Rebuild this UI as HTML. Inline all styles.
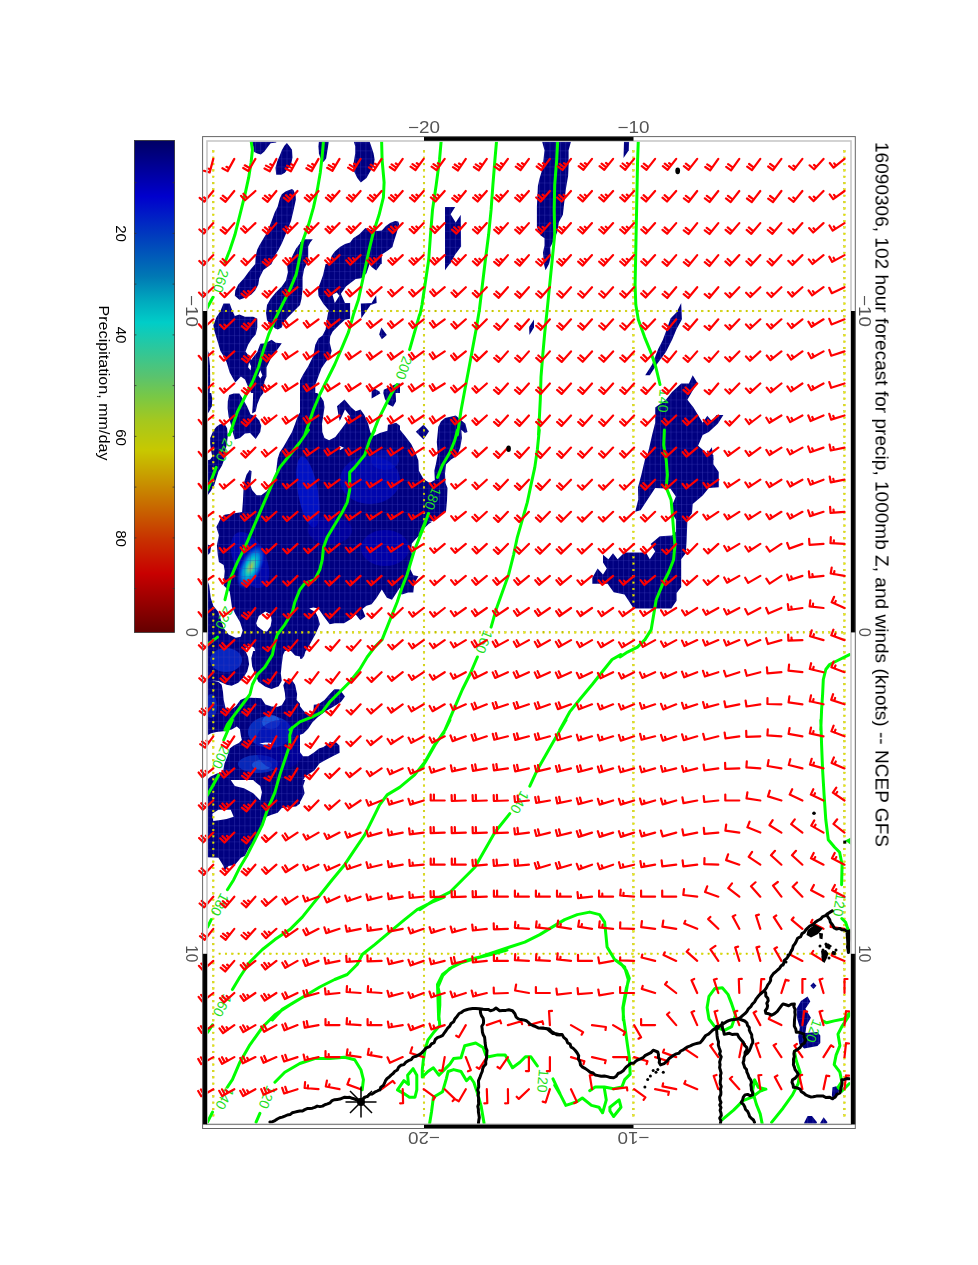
<!DOCTYPE html><html><head><meta charset="utf-8"><style>html,body{margin:0;padding:0;background:#fff;overflow:hidden}svg{display:block}</style></head><body><svg width="978" height="1265" viewBox="0 0 978 1265"><defs><linearGradient id="cb" x1="0" y1="0" x2="0" y2="1"><stop offset="0" stop-color="rgb(0,0,100)"/><stop offset="0.114" stop-color="rgb(0,0,205)"/><stop offset="0.195" stop-color="rgb(0,60,190)"/><stop offset="0.276" stop-color="rgb(0,120,180)"/><stop offset="0.327" stop-color="rgb(0,170,190)"/><stop offset="0.37" stop-color="rgb(0,205,200)"/><stop offset="0.418" stop-color="rgb(40,200,160)"/><stop offset="0.48" stop-color="rgb(90,195,110)"/><stop offset="0.52" stop-color="rgb(120,200,70)"/><stop offset="0.57" stop-color="rgb(165,200,30)"/><stop offset="0.63" stop-color="rgb(200,200,0)"/><stop offset="0.69" stop-color="rgb(200,150,0)"/><stop offset="0.75" stop-color="rgb(200,100,0)"/><stop offset="0.81" stop-color="rgb(200,50,0)"/><stop offset="0.88" stop-color="rgb(200,0,0)"/><stop offset="0.94" stop-color="rgb(150,0,0)"/><stop offset="1" stop-color="rgb(100,0,0)"/></linearGradient></defs><rect x="134.4" y="140.4" width="40.2" height="492" fill="url(#cb)" stroke="#333" stroke-width="0.8"/><path d="M134.4 182.7h2M174.6 182.7h-2M134.4 233.4h2M174.6 233.4h-2M134.4 284.1h2M174.6 284.1h-2M134.4 334.9h2M174.6 334.9h-2M134.4 385.6h2M174.6 385.6h-2M134.4 436.4h2M174.6 436.4h-2M134.4 487.1h2M174.6 487.1h-2M134.4 537.9h2M174.6 537.9h-2M134.4 588.6h2M174.6 588.6h-2" stroke="#333" stroke-width="0.8"/><defs><clipPath id="mc"><rect x="207.5" y="141.5" width="643" height="982.5"/></clipPath><clipPath id="nv"><path clip-rule="evenodd" d="M251.1 141.3 276.5 141.3 276.2 142.4 270.6 143.2 267.5 147.3 264.4 151.4 260.8 154.4 257.3 153.4 254.2 151.9 253.2 146.2 251.6 142.2Z"/><path clip-rule="evenodd" d="M286.9 143 289.5 146.2 292 149.8 292.5 157.5 291 164.7 287.9 168.7 284.9 172.8 281.3 174.7 276.2 174.7 275.5 167.7 277.2 161.6 279.8 155.4 281.8 150.3 284.4 145.7Z"/><path clip-rule="evenodd" d="M292 189 293.6 190.2 295.6 195.3 295.9 199.4 294.6 205.6 293 212.7 291 220.9 287.9 229.1 284.9 236.2 281.8 243.4 278.7 249.5 275.7 254.6 273.6 258.7 271.6 264 255.2 264 255.7 255.7 257.3 249.5 259.3 245.4 262.4 240.3 265.4 235.2 268.5 229.1 271.6 220.9 274.6 212.7 277.7 206.6 279.8 198.4 281.8 194.3 285.9 191.2Z"/><path clip-rule="evenodd" d="M300 243.4 300 264 287.9 264 292 256.7 296.1 248.5Z"/><path clip-rule="evenodd" d="M318.9 141.3 328.8 141.3 328.1 146.2 327.1 152.4 326.1 158.5 323.5 162.1 321 159.5 318.9 153.4 318.4 146.2Z"/><path clip-rule="evenodd" d="M353.7 141.3 369.5 141.3 371.6 147.3 373.6 153.4 374.6 159.5 373.6 165.7 370.6 170.8 366.5 177.9 360.8 182.5 357.3 177.9 354.2 171.8 353.2 165.7 354.2 159.5 355.2 153.4 355.2 146.2Z"/><path clip-rule="evenodd" d="M365.4 228 371.6 230.1 377.7 231.1 381.8 230.6 385.9 226 390 222.9 395.1 220.9 398.2 221.4 399.2 224 397.6 230.1 395.6 236.2 393.6 242.4 392.5 247 387.9 250.5 381.8 254.6 381.8 264 329.1 264 331.7 255.7 334.8 251.6 339.9 247 345 243.9 350.1 242.4 353.2 238.3 359.3 234.2Z"/><path clip-rule="evenodd" d="M300 242.4 304.1 239.3 312.8 239.3 310.2 242.4 308.2 246.5 308.2 264 300 264Z"/><path clip-rule="evenodd" d="M445 207.1 455.2 207.1 450.6 214.2 455.7 222.4 460.8 214.8 461.1 246.5 455.2 254.6 450.1 264 445 264Z"/><path clip-rule="evenodd" d="M255.2 264 271.6 264 263.4 270.1 259.3 278.3 258.3 284.4 255.2 290.6 251.1 294.7 245 297.7 239.4 299.8 234.8 295.7 235.3 290.6 238.3 284.4 244 278.3 249.1 271.2Z"/><path clip-rule="evenodd" d="M286.9 264 300 264 300 304.9 294.1 311 287.9 317.2 282.8 323.8 281.8 327.4 277.7 329.4 275.2 328.4 270.6 324.3 267 320.2 266 313.1 267 304.9 270.6 298.8 275.7 292.6 281.8 286.5 285.9 280.4 287.9 272.2Z"/><path clip-rule="evenodd" d="M223.5 303.4 229.7 303.4 231.7 309 234.8 316.1 239.4 314.6 245 316.7 253.2 316.7 257.3 318.7 257.3 327.4 255.7 334.6 252.1 338.6 248.1 344.8 245.5 351.4 248.1 355 251.1 360.1 257.3 351.9 260.3 343.8 265.4 343.2 271.6 339.7 275.7 342.7 281.8 343.2 275.7 351.9 270.6 359.1 266.5 367.3 266.5 376.5 264.4 381.6 263.4 393 251.1 393 248.1 386.7 245 379.5 240.9 376.5 235.3 382.6 229.7 372.4 226.6 362.2 223.5 356 220.4 350.9 217.4 340.7 214.3 330.5 213.3 325.3 216.4 317.2 220.4 311ZM249.1 362.2 251.1 366.2 250.6 370.3 248.1 367.3ZM260.3 370.3 262.4 375.5 260.3 378.5 258.3 375.5Z"/><path clip-rule="evenodd" d="M206.6 347.8 208.7 353 210 366.2 210.2 381.6 209.7 393 206.6 393Z"/><path clip-rule="evenodd" d="M300 264 306.6 264 304.1 269.1 302.6 277.3 302.6 289.6 301.5 298.8 300 304.9Z"/><path clip-rule="evenodd" d="M325.6 264 369.5 264 366.5 273.2 361.3 278.3 355.7 279.1 351.1 282.4 346 286.5 340.9 293.7 345 302.9 350.1 302.9 350.1 318.7 345 319.7 338.9 325.3 332.7 331.5 330.2 336.6 329.7 342.7 331.7 350.9 329.7 357 325.6 362.2 321.5 368.3 318.4 376.5 315.3 384.7 315.3 393 300 393 300 380.6 303.1 374.4 308.2 366.2 313.3 356 315.3 344.8 318.4 338.6 322.5 335.6 325.6 329.4 326.6 321.3 328.6 310 323.5 303.9 318.4 295.7 317.9 288.5 320.4 282.4 323 275.2ZM332.5 294.7 336.8 292.6 339.4 295.7 334.8 302.9Z"/><path clip-rule="evenodd" d="M369.5 264 380.8 264 376.2 270.6 371.6 267.1Z"/><path clip-rule="evenodd" d="M360.8 303.4 371.6 303.1 376.2 295.2 376.7 302.9 370.6 304.9 361.3 318.2Z"/><path clip-rule="evenodd" d="M381.3 327.4 386.9 335.1 381.8 339.2 379.2 334.6Z"/><path clip-rule="evenodd" d="M371.6 386.7 379.8 391.8 379.8 393 371.6 393Z"/><path clip-rule="evenodd" d="M383.8 389.8 390 386.7 397.1 383.6 400 383.6 400 393 383.3 393Z"/><path clip-rule="evenodd" d="M445 264 449.6 264 445 270.3Z"/><path clip-rule="evenodd" d="M207 393 211.2 393 212.3 399.1 211.8 406.3 209.2 411.4 207 414.5Z"/><path clip-rule="evenodd" d="M229.1 395 233.7 393.5 239.4 393.5 242.9 399.1 247 406.3 250.6 414.5 255.2 416 259.3 420.6 261.3 425.7 260.3 431.9 255.7 439 250.1 432.9 245 433.4 239.9 438 234.8 439.5 232.7 431.9 230.7 423.7 228.6 416.5 227.6 408.3 227.8 401.2Z"/><path clip-rule="evenodd" d="M253.2 393 263.4 393 260.3 397.1 257.3 404.2 255.7 411.4 252.1 413.4 252.7 405.3Z"/><path clip-rule="evenodd" d="M219.9 424.2 224.5 423.7 227.1 428.3 227.8 435.9 226.8 444.1 225.1 452.3 224.3 459.5 222 465.6 218.4 471.7 216.4 477.9 214.3 485 210.7 491.2 207 496.3 207 460.5 210.2 459.5 212.3 456.4 211.2 451.3 210.2 444.1 210.2 438 213.3 430.8 216.4 426.7Z"/><path clip-rule="evenodd" d="M300 412.4 298.2 415 295.1 423.7 292 431.9 287.9 439 283.8 446.2 279.8 452.3 277.7 458.4 276.7 466.6 275.7 473.8 273.6 479.9 270.6 485 266.5 491.2 261.3 495.2 256.7 495.2 252.1 490.1 250.3 485 251.1 476.8 251.6 471.2 249.6 469.9 246.5 474.8 244.2 482 243.5 490.1 242.9 501.4 242.1 512.1 237.8 512.8 230.7 513.7 224.5 514.7 220.4 518.8 218.9 522 300 522Z"/><path clip-rule="evenodd" d="M300 393 400 393 400 522 300 522ZM317.2 393 371.6 393 371.6 398.6 377.7 395 380.8 393 383.3 393 384.9 399.1 387.9 404.2 393 406.8 396.1 401.2 395.6 393 400 393 400 425.7 396.1 422.7 392.5 423.7 387.9 424.7 387.4 430.8 379.8 432.9 373.6 435.9 370.6 432.9 368 423.2 364.4 415 360.5 409.4 355.7 411.2 351.1 407.3 344.5 399.6 337 406.3 338.7 416.5 339.7 421.1 341.4 417.5 345 409.4 349.9 415.7 346 422.7 340.9 429.8 335.3 437 329.1 440.2 324.5 438 322.3 431.9 322 423.7 323.3 415.5 324.5 407.3 323.7 401.2 321 397.1ZM339.4 445.7 344 447.7 339.9 450.3Z"/><path clip-rule="evenodd" d="M423.5 424.7 429.1 431.3 423.5 439.5 415.8 431.7Z"/><path clip-rule="evenodd" d="M400 429.8 405.1 435.9 411.2 444.1 415.3 452.3 418.4 460.5 418.9 470.7 423.5 478.9 429.7 483 434.8 479.9 434.3 470.7 435.8 464.6 437.8 454.3 436.8 442.1 438.3 426.7 440.9 421.6 445 418.1 455.7 415.5 465.4 423.7 467.5 431.9 464.9 432.9 461.3 429.8 461.9 438 460.3 447.2 457.3 455.4 451.1 459.5 446 464.6 445 473.8 445.5 483 447.5 488.1 447 500.4 446 511.6 439.9 515.7 433.7 520.8 428.6 522 400 522Z"/><path clip-rule="evenodd" d="M200 522 300 522 300 651 200 651ZM207 522 218.9 522 216.4 527.1 218.9 535.3 216.9 545.5 217.9 555.7 218.9 561.9 223.7 564.9 224.7 571.1 224 579.3 223.7 585.4 229.7 591.5 230.9 599.7 231.9 606.9 235.3 614 240.1 622.2 242.7 630.4 240.7 636.7 235.8 637.7 228.6 634.5 223.7 628.3 221 620.2 218.4 612 213.3 605.8 210.7 597.7 209.2 585.4 207 579.3ZM265.4 611.5 270.6 614 271.6 620.2 270.6 626.3 267 631.4 263.4 630.9 257.3 626.3 256.2 623.2 258.8 616.1ZM245 651 245.5 648.8 250.1 645.2 254.2 647.8 255.2 651ZM285.9 651 287.9 648.8 290 651ZM200 522 207 522 207 651 200 651Z"/><path clip-rule="evenodd" d="M207 544.5 211.2 545.5 210.2 552.7 207 555.7Z"/><path clip-rule="evenodd" d="M300 522 400 522 400 651 300 651ZM400 587.4 400 651 306.1 651 310.2 643.7 315.3 634.5 319.9 624.2 317.9 617.1 315.3 612 309.2 608.4 313.3 607.4 318.4 608.4 323.5 616.1 329.7 624.2 334.8 623.2 344 623.2 351.1 619.1 355.7 614.5 360.3 620.2 365.4 616.6 362.4 608.9 366.5 605.8 371.6 604.3 376.7 597.7 381.8 589.5 386.9 597.7 392 599.7Z"/><path clip-rule="evenodd" d="M400 522 431.7 522 428.6 524 424.5 528.1 420.4 534.3 415.3 539.4 411.8 543.5 411.2 550.6 412.3 555.7 410.2 563.9 410.2 569 413.3 575.2 418.4 576.2 414.3 583.3 413.3 592.6 408.2 592.6 402 594.6 400 593.6Z"/><path clip-rule="evenodd" d="M200 651 300 651 300 780 200 780ZM245.5 651 253.2 651 251.3 658.2 252.1 666.3 255.2 674.5 258.3 681.7 265.4 686.8 271.6 689 278.7 686.3 281.8 680.7 280.8 673.5 281.8 664.3 283 655.1 284.9 651 291 651 295.1 655.6 300 656.6 300 703.7 296.6 700.1 297.1 693.9 295.1 684.7 291 678.8 285.9 680.1 283.3 685.3 284.9 692.9 285.4 699.1 281.8 705.2 277.7 706.7 271.6 706.4 265.4 704.4 261.3 698.2 257.3 698 246 697.5 240.4 699.9 235.8 706.2 229.7 710.3 225.6 708.3 223.7 700.1 223 691.9 221.7 684.7 218.4 681.7 211.2 680.4 218.4 680.9 226.6 684.7 231.7 685.8 238.3 682.7 243.5 677.6 247.2 671.4 249.1 664.3 248.1 657.1ZM207 735.4 211.2 733.3 216.4 732 225.6 731 231.7 729.5 236.8 726.5 239.9 729.2 240.9 735.9 241.9 740 238.9 743 233.7 745.6 229.7 748.6 227.1 757.3 224.5 763.5 223 771.7 216.4 773.7 210.2 776.8 207 780ZM259.3 743.5 265.4 742.5 271.6 742.8 270.6 744.6 263.4 744.6ZM200 651 207 651 207 780 200 780Z"/><path clip-rule="evenodd" d="M300 651 305.6 651 304.1 656.1 302 658.7 300 658.7Z"/><path clip-rule="evenodd" d="M300 706.2 303.1 710.3 308.2 715.4 313.3 712.3 313.8 704.7 318.4 704.2 324.5 700.1 329.7 693.9 334.3 689.3 339.4 689.3 345 696.5 340.9 702.1 335.8 705.2 330.7 708.3 325.6 711.3 317.4 717.5 312.3 722.6 308.2 728.7 303.1 733.8 300 734.8Z"/><path clip-rule="evenodd" d="M300 752.2 303.1 756.3 308.2 756.3 314.3 752.2 318.9 748.6 323.5 747.1 327.6 744 331.7 742 336.3 742.5 339.4 745.6 339.7 752.7 333.7 755.8 325.6 759.9 319.4 763.5 314.3 770.6 309.2 773.7 305.1 776.8 303.1 780 300 780Z"/><path clip-rule="evenodd" d="M207 780 230.7 780 234.8 786.1 244 788.2 253.2 793.3 260.3 800.4 261.9 792.3 260.3 786.1 255.2 782 253.2 780 300 780 300 803.5 296.1 806.6 290 807.1 281.8 808.1 277.7 812.7 271.6 814.8 266.5 816.8 263.4 824 259.3 833.2 254.2 841.3 249.1 847.5 245 855.7 240.9 857.7 234.8 864.9 228.6 865.9 224.5 871 223.5 865.9 218.4 857.7 207 857.2ZM212.3 813.7 218.4 809.7 230.7 809.7 233.7 816.8 226.6 818.9 220.4 819.9 213.3 820.9Z"/><path clip-rule="evenodd" d="M300 780 305.1 780 303.1 786.1 304.6 793.3 302 798.4 300 802Z"/><path clip-rule="evenodd" d="M542 141.3 571.1 141.3 568.6 150.3 568.6 165.7 568.1 175.9 566 188.2 564 204.5 562.9 214.8 558.9 221.9 557.3 232.1 552.7 242.4 550.2 247.5 550.7 256.7 549.1 263.8 545.6 270.2 544.1 264.9 543 252.6 544.5 245.4 544.5 238.3 540.4 235.2 536.9 227 536.9 206.6 537.9 186.1 539.4 179 542.5 168.7 544.5 150.3Z"/><path clip-rule="evenodd" d="M624 141.3 629.1 141.3 628.8 150.3 623.5 158Z"/><path clip-rule="evenodd" d="M681.2 303.1 682 319.2 676.6 329.1 672 339.9 665.9 352.1 656.7 364.4 649.8 375.2 645.2 375.2 652.1 364.4 658.2 349.1 662.8 339.9 667.4 327.6 670.5 318.4 676.6 312.3Z"/><path clip-rule="evenodd" d="M692.7 375.2 697.3 382.8 687.4 399.7 693.5 407.4 702.7 422.7 707.3 415.8 711.9 421.2 716.5 415 723.4 415 718 423.5 708.8 431.9 702.7 435 698.1 445.7 707.3 453.4 711.9 447.2 713.4 460 646 460 649 448.8 652.1 435 655.2 422.7 655.2 407.4 665.9 399.7 672 392 681.2 383.6 688.9 383.6Z"/><path clip-rule="evenodd" d="M646 455 713.4 455 713.4 464.2 718.8 471.9 718.8 487.2 708.8 488 702.7 495.6 692.7 504.1 692 513.3 687.4 519.4 686.6 540.9 685.8 553.2 681.2 559.3 681.2 586.9 676.6 593 676.6 600.7 671.3 608.4 633.7 608.4 624.5 594.6 613.7 592.3 607.6 583.8 592.3 583.8 592.3 577.7 597.6 568.5 603 574.6 606.8 568.5 603 562.4 603 554.7 608.4 559.3 613 553.2 617.6 559.3 624.5 552.4 646 552.4 649.8 559.3 655.2 551.6 650.6 544 659.8 536.3 672 535.5 675.9 531.7 675.9 519.4 672 513.3 672 505.6 675.9 496.4 670.5 488.7 655.2 488 640.6 510.2 635.2 511.7 638.3 499.5 638 487.2 641.3 474.9Z"/><path clip-rule="evenodd" d="M807.6 996.6 810.3 1001.6 805.4 1008.8 810.9 1017.7 806.5 1025.4 805.4 1033.1 817.5 1032 820.3 1035.4 820.3 1043.1 817.5 1045.9 804.2 1048.6 799.3 1044.2 798.2 1036.5 799.8 1027.6 797.1 1018.8 796.5 1008.8 800.9 1001.1Z"/><path clip-rule="evenodd" d="M832.5 1087.3 836.3 1086.2 839.6 1090.1 836.3 1096.2 833 1100.6 831.9 1095.1Z"/><path clip-rule="evenodd" d="M804.2 1122.7 807.6 1116.1 812 1116.1 817 1122.2 816.4 1123.8 804.2 1123.8Z"/><path clip-rule="evenodd" d="M820.3 1122.7 823.6 1117.2 827.5 1122.2 826.4 1123.8 820.3 1123.8Z"/><path clip-rule="evenodd" d="M534 319.6 534 327.6 529.4 335 529.1 327Z"/><path clip-rule="evenodd" d="M813.4 982.5 816.5 985.7 813.4 988.9 810.3 985.7Z"/></clipPath><pattern id="gp" patternUnits="userSpaceOnUse" x="212.9" y="150.4" width="5.26" height="8.035"><rect x="0" y="0" width="0.9" height="8.035" fill="#3c3cb4" fill-opacity="0.42"/><rect x="0" y="0" width="5.26" height="0.9" fill="#3c3cb4" fill-opacity="0.32"/></pattern><radialGradient id="hot"><stop offset="0" stop-color="#b4c83c"/><stop offset="0.2" stop-color="#60c890"/><stop offset="0.4" stop-color="#00c4cc"/><stop offset="0.62" stop-color="#0080dc"/><stop offset="0.85" stop-color="#0030d0" stop-opacity="0.8"/><stop offset="1" stop-color="#0010c0" stop-opacity="0"/></radialGradient></defs><g clip-path="url(#mc)"><g clip-path="url(#nv)"><rect x="200" y="135" width="660" height="1000" fill="#000080"/><ellipse transform="translate(308,492) rotate(-10)" rx="10" ry="36" fill="#0014d0" fill-opacity="0.85"/><ellipse transform="translate(250,560) rotate(-25)" rx="16" ry="30" fill="#0008c0" fill-opacity="0.7"/><ellipse transform="translate(370,480) rotate(0)" rx="30" ry="24" fill="#0008c0" fill-opacity="0.7"/><ellipse transform="translate(385,548) rotate(0)" rx="24" ry="18" fill="#0000b8" fill-opacity="0.7"/><ellipse transform="translate(330,530) rotate(0)" rx="22" ry="14" fill="#0000b0" fill-opacity="0.6"/><ellipse transform="translate(385,460) rotate(0)" rx="14" ry="10" fill="#0010c8" fill-opacity="0.6"/><ellipse transform="translate(226,660) rotate(0)" rx="16" ry="12" fill="#0a30d0" fill-opacity="0.8"/><ellipse transform="translate(211,706) rotate(0)" rx="6" ry="12" fill="#0a30d0" fill-opacity="0.7"/><ellipse transform="translate(270,732) rotate(0)" rx="22" ry="16" fill="#0838d0" fill-opacity="0.8"/><ellipse transform="translate(258,764) rotate(0)" rx="20" ry="9" fill="#0838d0" fill-opacity="0.7"/><ellipse transform="translate(271,722) rotate(0)" rx="9" ry="7" fill="#2060e0" fill-opacity="0.8"/><ellipse transform="translate(262,765) rotate(0)" rx="10" ry="5" fill="#2060e0" fill-opacity="0.7"/><ellipse transform="translate(280,745) rotate(0)" rx="25" ry="25" fill="#0000b0" fill-opacity="0.5"/><ellipse transform="translate(250.8,566.9) rotate(-65)" rx="24" ry="11" fill="url(#hot)"/><rect x="200" y="135" width="660" height="1000" fill="url(#gp)"/></g></g><g fill="#f0f000" stroke="#c0c000" stroke-width="0.45"><rect x="212.5" y="150.6" width="1.6" height="1.6"/><rect x="212.5" y="156.9" width="1.6" height="1.6"/><rect x="212.5" y="163.3" width="1.6" height="1.6"/><rect x="212.5" y="169.6" width="1.6" height="1.6"/><rect x="212.5" y="176" width="1.6" height="1.6"/><rect x="212.5" y="182.3" width="1.6" height="1.6"/><rect x="212.5" y="188.7" width="1.6" height="1.6"/><rect x="212.5" y="195" width="1.6" height="1.6"/><rect x="212.5" y="201.3" width="1.6" height="1.6"/><rect x="212.5" y="207.7" width="1.6" height="1.6"/><rect x="212.5" y="214" width="1.6" height="1.6"/><rect x="212.5" y="220.4" width="1.6" height="1.6"/><rect x="212.5" y="226.7" width="1.6" height="1.6"/><rect x="212.5" y="233" width="1.6" height="1.6"/><rect x="212.5" y="239.4" width="1.6" height="1.6"/><rect x="212.5" y="245.7" width="1.6" height="1.6"/><rect x="212.5" y="252.1" width="1.6" height="1.6"/><rect x="212.5" y="258.4" width="1.6" height="1.6"/><rect x="212.5" y="264.8" width="1.6" height="1.6"/><rect x="212.5" y="271.1" width="1.6" height="1.6"/><rect x="212.5" y="277.4" width="1.6" height="1.6"/><rect x="212.5" y="283.8" width="1.6" height="1.6"/><rect x="212.5" y="290.1" width="1.6" height="1.6"/><rect x="212.5" y="296.5" width="1.6" height="1.6"/><rect x="212.5" y="302.8" width="1.6" height="1.6"/><rect x="212.5" y="309.2" width="1.6" height="1.6"/><rect x="212.5" y="315.5" width="1.6" height="1.6"/><rect x="212.5" y="321.8" width="1.6" height="1.6"/><rect x="212.5" y="328.2" width="1.6" height="1.6"/><rect x="212.5" y="334.5" width="1.6" height="1.6"/><rect x="212.5" y="340.9" width="1.6" height="1.6"/><rect x="212.5" y="347.2" width="1.6" height="1.6"/><rect x="212.5" y="353.5" width="1.6" height="1.6"/><rect x="212.5" y="359.9" width="1.6" height="1.6"/><rect x="212.5" y="366.2" width="1.6" height="1.6"/><rect x="212.5" y="372.6" width="1.6" height="1.6"/><rect x="212.5" y="378.9" width="1.6" height="1.6"/><rect x="212.5" y="385.3" width="1.6" height="1.6"/><rect x="212.5" y="391.6" width="1.6" height="1.6"/><rect x="212.5" y="397.9" width="1.6" height="1.6"/><rect x="212.5" y="404.3" width="1.6" height="1.6"/><rect x="212.5" y="410.6" width="1.6" height="1.6"/><rect x="212.5" y="417" width="1.6" height="1.6"/><rect x="212.5" y="423.3" width="1.6" height="1.6"/><rect x="212.5" y="429.6" width="1.6" height="1.6"/><rect x="212.5" y="436" width="1.6" height="1.6"/><rect x="212.5" y="442.3" width="1.6" height="1.6"/><rect x="212.5" y="448.7" width="1.6" height="1.6"/><rect x="212.5" y="455" width="1.6" height="1.6"/><rect x="212.5" y="461.4" width="1.6" height="1.6"/><rect x="212.5" y="467.7" width="1.6" height="1.6"/><rect x="212.5" y="474" width="1.6" height="1.6"/><rect x="212.5" y="480.4" width="1.6" height="1.6"/><rect x="212.5" y="486.7" width="1.6" height="1.6"/><rect x="212.5" y="493.1" width="1.6" height="1.6"/><rect x="212.5" y="499.4" width="1.6" height="1.6"/><rect x="212.5" y="505.8" width="1.6" height="1.6"/><rect x="212.5" y="512.1" width="1.6" height="1.6"/><rect x="212.5" y="518.4" width="1.6" height="1.6"/><rect x="212.5" y="524.8" width="1.6" height="1.6"/><rect x="212.5" y="531.1" width="1.6" height="1.6"/><rect x="212.5" y="537.5" width="1.6" height="1.6"/><rect x="212.5" y="543.8" width="1.6" height="1.6"/><rect x="212.5" y="550.1" width="1.6" height="1.6"/><rect x="212.5" y="556.5" width="1.6" height="1.6"/><rect x="212.5" y="562.8" width="1.6" height="1.6"/><rect x="212.5" y="569.2" width="1.6" height="1.6"/><rect x="212.5" y="575.5" width="1.6" height="1.6"/><rect x="212.5" y="581.9" width="1.6" height="1.6"/><rect x="212.5" y="588.2" width="1.6" height="1.6"/><rect x="212.5" y="594.5" width="1.6" height="1.6"/><rect x="212.5" y="600.9" width="1.6" height="1.6"/><rect x="212.5" y="607.2" width="1.6" height="1.6"/><rect x="212.5" y="613.6" width="1.6" height="1.6"/><rect x="212.5" y="619.9" width="1.6" height="1.6"/><rect x="212.5" y="626.2" width="1.6" height="1.6"/><rect x="212.5" y="632.6" width="1.6" height="1.6"/><rect x="212.5" y="638.9" width="1.6" height="1.6"/><rect x="212.5" y="645.3" width="1.6" height="1.6"/><rect x="212.5" y="651.6" width="1.6" height="1.6"/><rect x="212.5" y="658" width="1.6" height="1.6"/><rect x="212.5" y="664.3" width="1.6" height="1.6"/><rect x="212.5" y="670.6" width="1.6" height="1.6"/><rect x="212.5" y="677" width="1.6" height="1.6"/><rect x="212.5" y="683.3" width="1.6" height="1.6"/><rect x="212.5" y="689.7" width="1.6" height="1.6"/><rect x="212.5" y="696" width="1.6" height="1.6"/><rect x="212.5" y="702.4" width="1.6" height="1.6"/><rect x="212.5" y="708.7" width="1.6" height="1.6"/><rect x="212.5" y="715" width="1.6" height="1.6"/><rect x="212.5" y="721.4" width="1.6" height="1.6"/><rect x="212.5" y="727.7" width="1.6" height="1.6"/><rect x="212.5" y="734.1" width="1.6" height="1.6"/><rect x="212.5" y="740.4" width="1.6" height="1.6"/><rect x="212.5" y="746.7" width="1.6" height="1.6"/><rect x="212.5" y="753.1" width="1.6" height="1.6"/><rect x="212.5" y="759.4" width="1.6" height="1.6"/><rect x="212.5" y="765.8" width="1.6" height="1.6"/><rect x="212.5" y="772.1" width="1.6" height="1.6"/><rect x="212.5" y="778.5" width="1.6" height="1.6"/><rect x="212.5" y="784.8" width="1.6" height="1.6"/><rect x="212.5" y="791.1" width="1.6" height="1.6"/><rect x="212.5" y="797.5" width="1.6" height="1.6"/><rect x="212.5" y="803.8" width="1.6" height="1.6"/><rect x="212.5" y="810.2" width="1.6" height="1.6"/><rect x="212.5" y="816.5" width="1.6" height="1.6"/><rect x="212.5" y="822.9" width="1.6" height="1.6"/><rect x="212.5" y="829.2" width="1.6" height="1.6"/><rect x="212.5" y="835.5" width="1.6" height="1.6"/><rect x="212.5" y="841.9" width="1.6" height="1.6"/><rect x="212.5" y="848.2" width="1.6" height="1.6"/><rect x="212.5" y="854.6" width="1.6" height="1.6"/><rect x="212.5" y="860.9" width="1.6" height="1.6"/><rect x="212.5" y="867.2" width="1.6" height="1.6"/><rect x="212.5" y="873.6" width="1.6" height="1.6"/><rect x="212.5" y="879.9" width="1.6" height="1.6"/><rect x="212.5" y="886.3" width="1.6" height="1.6"/><rect x="212.5" y="892.6" width="1.6" height="1.6"/><rect x="212.5" y="899" width="1.6" height="1.6"/><rect x="212.5" y="905.3" width="1.6" height="1.6"/><rect x="212.5" y="911.6" width="1.6" height="1.6"/><rect x="212.5" y="918" width="1.6" height="1.6"/><rect x="212.5" y="924.3" width="1.6" height="1.6"/><rect x="212.5" y="930.7" width="1.6" height="1.6"/><rect x="212.5" y="937" width="1.6" height="1.6"/><rect x="212.5" y="943.3" width="1.6" height="1.6"/><rect x="212.5" y="949.7" width="1.6" height="1.6"/><rect x="212.5" y="956" width="1.6" height="1.6"/><rect x="212.5" y="962.4" width="1.6" height="1.6"/><rect x="212.5" y="968.7" width="1.6" height="1.6"/><rect x="212.5" y="975.1" width="1.6" height="1.6"/><rect x="212.5" y="981.4" width="1.6" height="1.6"/><rect x="212.5" y="987.7" width="1.6" height="1.6"/><rect x="212.5" y="994.1" width="1.6" height="1.6"/><rect x="212.5" y="1000.4" width="1.6" height="1.6"/><rect x="212.5" y="1006.8" width="1.6" height="1.6"/><rect x="212.5" y="1013.1" width="1.6" height="1.6"/><rect x="212.5" y="1019.5" width="1.6" height="1.6"/><rect x="212.5" y="1025.8" width="1.6" height="1.6"/><rect x="212.5" y="1032.1" width="1.6" height="1.6"/><rect x="212.5" y="1038.5" width="1.6" height="1.6"/><rect x="212.5" y="1044.8" width="1.6" height="1.6"/><rect x="212.5" y="1051.2" width="1.6" height="1.6"/><rect x="212.5" y="1057.5" width="1.6" height="1.6"/><rect x="212.5" y="1063.8" width="1.6" height="1.6"/><rect x="212.5" y="1070.2" width="1.6" height="1.6"/><rect x="212.5" y="1076.5" width="1.6" height="1.6"/><rect x="212.5" y="1082.9" width="1.6" height="1.6"/><rect x="212.5" y="1089.2" width="1.6" height="1.6"/><rect x="212.5" y="1095.6" width="1.6" height="1.6"/><rect x="212.5" y="1101.9" width="1.6" height="1.6"/><rect x="212.5" y="1108.2" width="1.6" height="1.6"/><rect x="212.5" y="1114.6" width="1.6" height="1.6"/><rect x="423.2" y="150.6" width="1.6" height="1.6"/><rect x="423.2" y="156.9" width="1.6" height="1.6"/><rect x="423.2" y="163.3" width="1.6" height="1.6"/><rect x="423.2" y="169.6" width="1.6" height="1.6"/><rect x="423.2" y="176" width="1.6" height="1.6"/><rect x="423.2" y="182.3" width="1.6" height="1.6"/><rect x="423.2" y="188.7" width="1.6" height="1.6"/><rect x="423.2" y="195" width="1.6" height="1.6"/><rect x="423.2" y="201.3" width="1.6" height="1.6"/><rect x="423.2" y="207.7" width="1.6" height="1.6"/><rect x="423.2" y="214" width="1.6" height="1.6"/><rect x="423.2" y="220.4" width="1.6" height="1.6"/><rect x="423.2" y="226.7" width="1.6" height="1.6"/><rect x="423.2" y="233" width="1.6" height="1.6"/><rect x="423.2" y="239.4" width="1.6" height="1.6"/><rect x="423.2" y="245.7" width="1.6" height="1.6"/><rect x="423.2" y="252.1" width="1.6" height="1.6"/><rect x="423.2" y="258.4" width="1.6" height="1.6"/><rect x="423.2" y="264.8" width="1.6" height="1.6"/><rect x="423.2" y="271.1" width="1.6" height="1.6"/><rect x="423.2" y="277.4" width="1.6" height="1.6"/><rect x="423.2" y="283.8" width="1.6" height="1.6"/><rect x="423.2" y="290.1" width="1.6" height="1.6"/><rect x="423.2" y="296.5" width="1.6" height="1.6"/><rect x="423.2" y="302.8" width="1.6" height="1.6"/><rect x="423.2" y="309.2" width="1.6" height="1.6"/><rect x="423.2" y="315.5" width="1.6" height="1.6"/><rect x="423.2" y="321.8" width="1.6" height="1.6"/><rect x="423.2" y="328.2" width="1.6" height="1.6"/><rect x="423.2" y="334.5" width="1.6" height="1.6"/><rect x="423.2" y="340.9" width="1.6" height="1.6"/><rect x="423.2" y="347.2" width="1.6" height="1.6"/><rect x="423.2" y="353.5" width="1.6" height="1.6"/><rect x="423.2" y="359.9" width="1.6" height="1.6"/><rect x="423.2" y="366.2" width="1.6" height="1.6"/><rect x="423.2" y="372.6" width="1.6" height="1.6"/><rect x="423.2" y="378.9" width="1.6" height="1.6"/><rect x="423.2" y="385.3" width="1.6" height="1.6"/><rect x="423.2" y="391.6" width="1.6" height="1.6"/><rect x="423.2" y="397.9" width="1.6" height="1.6"/><rect x="423.2" y="404.3" width="1.6" height="1.6"/><rect x="423.2" y="410.6" width="1.6" height="1.6"/><rect x="423.2" y="417" width="1.6" height="1.6"/><rect x="423.2" y="423.3" width="1.6" height="1.6"/><rect x="423.2" y="429.6" width="1.6" height="1.6"/><rect x="423.2" y="436" width="1.6" height="1.6"/><rect x="423.2" y="442.3" width="1.6" height="1.6"/><rect x="423.2" y="448.7" width="1.6" height="1.6"/><rect x="423.2" y="455" width="1.6" height="1.6"/><rect x="423.2" y="461.4" width="1.6" height="1.6"/><rect x="423.2" y="467.7" width="1.6" height="1.6"/><rect x="423.2" y="474" width="1.6" height="1.6"/><rect x="423.2" y="480.4" width="1.6" height="1.6"/><rect x="423.2" y="486.7" width="1.6" height="1.6"/><rect x="423.2" y="493.1" width="1.6" height="1.6"/><rect x="423.2" y="499.4" width="1.6" height="1.6"/><rect x="423.2" y="505.8" width="1.6" height="1.6"/><rect x="423.2" y="512.1" width="1.6" height="1.6"/><rect x="423.2" y="518.4" width="1.6" height="1.6"/><rect x="423.2" y="524.8" width="1.6" height="1.6"/><rect x="423.2" y="531.1" width="1.6" height="1.6"/><rect x="423.2" y="537.5" width="1.6" height="1.6"/><rect x="423.2" y="543.8" width="1.6" height="1.6"/><rect x="423.2" y="550.1" width="1.6" height="1.6"/><rect x="423.2" y="556.5" width="1.6" height="1.6"/><rect x="423.2" y="562.8" width="1.6" height="1.6"/><rect x="423.2" y="569.2" width="1.6" height="1.6"/><rect x="423.2" y="575.5" width="1.6" height="1.6"/><rect x="423.2" y="581.9" width="1.6" height="1.6"/><rect x="423.2" y="588.2" width="1.6" height="1.6"/><rect x="423.2" y="594.5" width="1.6" height="1.6"/><rect x="423.2" y="600.9" width="1.6" height="1.6"/><rect x="423.2" y="607.2" width="1.6" height="1.6"/><rect x="423.2" y="613.6" width="1.6" height="1.6"/><rect x="423.2" y="619.9" width="1.6" height="1.6"/><rect x="423.2" y="626.2" width="1.6" height="1.6"/><rect x="423.2" y="632.6" width="1.6" height="1.6"/><rect x="423.2" y="638.9" width="1.6" height="1.6"/><rect x="423.2" y="645.3" width="1.6" height="1.6"/><rect x="423.2" y="651.6" width="1.6" height="1.6"/><rect x="423.2" y="658" width="1.6" height="1.6"/><rect x="423.2" y="664.3" width="1.6" height="1.6"/><rect x="423.2" y="670.6" width="1.6" height="1.6"/><rect x="423.2" y="677" width="1.6" height="1.6"/><rect x="423.2" y="683.3" width="1.6" height="1.6"/><rect x="423.2" y="689.7" width="1.6" height="1.6"/><rect x="423.2" y="696" width="1.6" height="1.6"/><rect x="423.2" y="702.4" width="1.6" height="1.6"/><rect x="423.2" y="708.7" width="1.6" height="1.6"/><rect x="423.2" y="715" width="1.6" height="1.6"/><rect x="423.2" y="721.4" width="1.6" height="1.6"/><rect x="423.2" y="727.7" width="1.6" height="1.6"/><rect x="423.2" y="734.1" width="1.6" height="1.6"/><rect x="423.2" y="740.4" width="1.6" height="1.6"/><rect x="423.2" y="746.7" width="1.6" height="1.6"/><rect x="423.2" y="753.1" width="1.6" height="1.6"/><rect x="423.2" y="759.4" width="1.6" height="1.6"/><rect x="423.2" y="765.8" width="1.6" height="1.6"/><rect x="423.2" y="772.1" width="1.6" height="1.6"/><rect x="423.2" y="778.5" width="1.6" height="1.6"/><rect x="423.2" y="784.8" width="1.6" height="1.6"/><rect x="423.2" y="791.1" width="1.6" height="1.6"/><rect x="423.2" y="797.5" width="1.6" height="1.6"/><rect x="423.2" y="803.8" width="1.6" height="1.6"/><rect x="423.2" y="810.2" width="1.6" height="1.6"/><rect x="423.2" y="816.5" width="1.6" height="1.6"/><rect x="423.2" y="822.9" width="1.6" height="1.6"/><rect x="423.2" y="829.2" width="1.6" height="1.6"/><rect x="423.2" y="835.5" width="1.6" height="1.6"/><rect x="423.2" y="841.9" width="1.6" height="1.6"/><rect x="423.2" y="848.2" width="1.6" height="1.6"/><rect x="423.2" y="854.6" width="1.6" height="1.6"/><rect x="423.2" y="860.9" width="1.6" height="1.6"/><rect x="423.2" y="867.2" width="1.6" height="1.6"/><rect x="423.2" y="873.6" width="1.6" height="1.6"/><rect x="423.2" y="879.9" width="1.6" height="1.6"/><rect x="423.2" y="886.3" width="1.6" height="1.6"/><rect x="423.2" y="892.6" width="1.6" height="1.6"/><rect x="423.2" y="899" width="1.6" height="1.6"/><rect x="423.2" y="905.3" width="1.6" height="1.6"/><rect x="423.2" y="911.6" width="1.6" height="1.6"/><rect x="423.2" y="918" width="1.6" height="1.6"/><rect x="423.2" y="924.3" width="1.6" height="1.6"/><rect x="423.2" y="930.7" width="1.6" height="1.6"/><rect x="423.2" y="937" width="1.6" height="1.6"/><rect x="423.2" y="943.3" width="1.6" height="1.6"/><rect x="423.2" y="949.7" width="1.6" height="1.6"/><rect x="423.2" y="956" width="1.6" height="1.6"/><rect x="423.2" y="962.4" width="1.6" height="1.6"/><rect x="423.2" y="968.7" width="1.6" height="1.6"/><rect x="423.2" y="975.1" width="1.6" height="1.6"/><rect x="423.2" y="981.4" width="1.6" height="1.6"/><rect x="423.2" y="987.7" width="1.6" height="1.6"/><rect x="423.2" y="994.1" width="1.6" height="1.6"/><rect x="423.2" y="1000.4" width="1.6" height="1.6"/><rect x="423.2" y="1006.8" width="1.6" height="1.6"/><rect x="423.2" y="1013.1" width="1.6" height="1.6"/><rect x="423.2" y="1019.5" width="1.6" height="1.6"/><rect x="423.2" y="1025.8" width="1.6" height="1.6"/><rect x="423.2" y="1032.1" width="1.6" height="1.6"/><rect x="423.2" y="1038.5" width="1.6" height="1.6"/><rect x="423.2" y="1044.8" width="1.6" height="1.6"/><rect x="423.2" y="1051.2" width="1.6" height="1.6"/><rect x="423.2" y="1057.5" width="1.6" height="1.6"/><rect x="423.2" y="1063.8" width="1.6" height="1.6"/><rect x="423.2" y="1070.2" width="1.6" height="1.6"/><rect x="423.2" y="1076.5" width="1.6" height="1.6"/><rect x="423.2" y="1082.9" width="1.6" height="1.6"/><rect x="423.2" y="1089.2" width="1.6" height="1.6"/><rect x="423.2" y="1095.6" width="1.6" height="1.6"/><rect x="423.2" y="1101.9" width="1.6" height="1.6"/><rect x="423.2" y="1108.2" width="1.6" height="1.6"/><rect x="423.2" y="1114.6" width="1.6" height="1.6"/><rect x="632.7" y="150.6" width="1.6" height="1.6"/><rect x="632.7" y="156.9" width="1.6" height="1.6"/><rect x="632.7" y="163.3" width="1.6" height="1.6"/><rect x="632.7" y="169.6" width="1.6" height="1.6"/><rect x="632.7" y="176" width="1.6" height="1.6"/><rect x="632.7" y="182.3" width="1.6" height="1.6"/><rect x="632.7" y="188.7" width="1.6" height="1.6"/><rect x="632.7" y="195" width="1.6" height="1.6"/><rect x="632.7" y="201.3" width="1.6" height="1.6"/><rect x="632.7" y="207.7" width="1.6" height="1.6"/><rect x="632.7" y="214" width="1.6" height="1.6"/><rect x="632.7" y="220.4" width="1.6" height="1.6"/><rect x="632.7" y="226.7" width="1.6" height="1.6"/><rect x="632.7" y="233" width="1.6" height="1.6"/><rect x="632.7" y="239.4" width="1.6" height="1.6"/><rect x="632.7" y="245.7" width="1.6" height="1.6"/><rect x="632.7" y="252.1" width="1.6" height="1.6"/><rect x="632.7" y="258.4" width="1.6" height="1.6"/><rect x="632.7" y="264.8" width="1.6" height="1.6"/><rect x="632.7" y="271.1" width="1.6" height="1.6"/><rect x="632.7" y="277.4" width="1.6" height="1.6"/><rect x="632.7" y="283.8" width="1.6" height="1.6"/><rect x="632.7" y="290.1" width="1.6" height="1.6"/><rect x="632.7" y="296.5" width="1.6" height="1.6"/><rect x="632.7" y="302.8" width="1.6" height="1.6"/><rect x="632.7" y="309.2" width="1.6" height="1.6"/><rect x="632.7" y="315.5" width="1.6" height="1.6"/><rect x="632.7" y="321.8" width="1.6" height="1.6"/><rect x="632.7" y="328.2" width="1.6" height="1.6"/><rect x="632.7" y="334.5" width="1.6" height="1.6"/><rect x="632.7" y="340.9" width="1.6" height="1.6"/><rect x="632.7" y="347.2" width="1.6" height="1.6"/><rect x="632.7" y="353.5" width="1.6" height="1.6"/><rect x="632.7" y="359.9" width="1.6" height="1.6"/><rect x="632.7" y="366.2" width="1.6" height="1.6"/><rect x="632.7" y="372.6" width="1.6" height="1.6"/><rect x="632.7" y="378.9" width="1.6" height="1.6"/><rect x="632.7" y="385.3" width="1.6" height="1.6"/><rect x="632.7" y="391.6" width="1.6" height="1.6"/><rect x="632.7" y="397.9" width="1.6" height="1.6"/><rect x="632.7" y="404.3" width="1.6" height="1.6"/><rect x="632.7" y="410.6" width="1.6" height="1.6"/><rect x="632.7" y="417" width="1.6" height="1.6"/><rect x="632.7" y="423.3" width="1.6" height="1.6"/><rect x="632.7" y="429.6" width="1.6" height="1.6"/><rect x="632.7" y="436" width="1.6" height="1.6"/><rect x="632.7" y="442.3" width="1.6" height="1.6"/><rect x="632.7" y="448.7" width="1.6" height="1.6"/><rect x="632.7" y="455" width="1.6" height="1.6"/><rect x="632.7" y="461.4" width="1.6" height="1.6"/><rect x="632.7" y="467.7" width="1.6" height="1.6"/><rect x="632.7" y="474" width="1.6" height="1.6"/><rect x="632.7" y="480.4" width="1.6" height="1.6"/><rect x="632.7" y="486.7" width="1.6" height="1.6"/><rect x="632.7" y="493.1" width="1.6" height="1.6"/><rect x="632.7" y="499.4" width="1.6" height="1.6"/><rect x="632.7" y="505.8" width="1.6" height="1.6"/><rect x="632.7" y="512.1" width="1.6" height="1.6"/><rect x="632.7" y="518.4" width="1.6" height="1.6"/><rect x="632.7" y="524.8" width="1.6" height="1.6"/><rect x="632.7" y="531.1" width="1.6" height="1.6"/><rect x="632.7" y="537.5" width="1.6" height="1.6"/><rect x="632.7" y="543.8" width="1.6" height="1.6"/><rect x="632.7" y="550.1" width="1.6" height="1.6"/><rect x="632.7" y="556.5" width="1.6" height="1.6"/><rect x="632.7" y="562.8" width="1.6" height="1.6"/><rect x="632.7" y="569.2" width="1.6" height="1.6"/><rect x="632.7" y="575.5" width="1.6" height="1.6"/><rect x="632.7" y="581.9" width="1.6" height="1.6"/><rect x="632.7" y="588.2" width="1.6" height="1.6"/><rect x="632.7" y="594.5" width="1.6" height="1.6"/><rect x="632.7" y="600.9" width="1.6" height="1.6"/><rect x="632.7" y="607.2" width="1.6" height="1.6"/><rect x="632.7" y="613.6" width="1.6" height="1.6"/><rect x="632.7" y="619.9" width="1.6" height="1.6"/><rect x="632.7" y="626.2" width="1.6" height="1.6"/><rect x="632.7" y="632.6" width="1.6" height="1.6"/><rect x="632.7" y="638.9" width="1.6" height="1.6"/><rect x="632.7" y="645.3" width="1.6" height="1.6"/><rect x="632.7" y="651.6" width="1.6" height="1.6"/><rect x="632.7" y="658" width="1.6" height="1.6"/><rect x="632.7" y="664.3" width="1.6" height="1.6"/><rect x="632.7" y="670.6" width="1.6" height="1.6"/><rect x="632.7" y="677" width="1.6" height="1.6"/><rect x="632.7" y="683.3" width="1.6" height="1.6"/><rect x="632.7" y="689.7" width="1.6" height="1.6"/><rect x="632.7" y="696" width="1.6" height="1.6"/><rect x="632.7" y="702.4" width="1.6" height="1.6"/><rect x="632.7" y="708.7" width="1.6" height="1.6"/><rect x="632.7" y="715" width="1.6" height="1.6"/><rect x="632.7" y="721.4" width="1.6" height="1.6"/><rect x="632.7" y="727.7" width="1.6" height="1.6"/><rect x="632.7" y="734.1" width="1.6" height="1.6"/><rect x="632.7" y="740.4" width="1.6" height="1.6"/><rect x="632.7" y="746.7" width="1.6" height="1.6"/><rect x="632.7" y="753.1" width="1.6" height="1.6"/><rect x="632.7" y="759.4" width="1.6" height="1.6"/><rect x="632.7" y="765.8" width="1.6" height="1.6"/><rect x="632.7" y="772.1" width="1.6" height="1.6"/><rect x="632.7" y="778.5" width="1.6" height="1.6"/><rect x="632.7" y="784.8" width="1.6" height="1.6"/><rect x="632.7" y="791.1" width="1.6" height="1.6"/><rect x="632.7" y="797.5" width="1.6" height="1.6"/><rect x="632.7" y="803.8" width="1.6" height="1.6"/><rect x="632.7" y="810.2" width="1.6" height="1.6"/><rect x="632.7" y="816.5" width="1.6" height="1.6"/><rect x="632.7" y="822.9" width="1.6" height="1.6"/><rect x="632.7" y="829.2" width="1.6" height="1.6"/><rect x="632.7" y="835.5" width="1.6" height="1.6"/><rect x="632.7" y="841.9" width="1.6" height="1.6"/><rect x="632.7" y="848.2" width="1.6" height="1.6"/><rect x="632.7" y="854.6" width="1.6" height="1.6"/><rect x="632.7" y="860.9" width="1.6" height="1.6"/><rect x="632.7" y="867.2" width="1.6" height="1.6"/><rect x="632.7" y="873.6" width="1.6" height="1.6"/><rect x="632.7" y="879.9" width="1.6" height="1.6"/><rect x="632.7" y="886.3" width="1.6" height="1.6"/><rect x="632.7" y="892.6" width="1.6" height="1.6"/><rect x="632.7" y="899" width="1.6" height="1.6"/><rect x="632.7" y="905.3" width="1.6" height="1.6"/><rect x="632.7" y="911.6" width="1.6" height="1.6"/><rect x="632.7" y="918" width="1.6" height="1.6"/><rect x="632.7" y="924.3" width="1.6" height="1.6"/><rect x="632.7" y="930.7" width="1.6" height="1.6"/><rect x="632.7" y="937" width="1.6" height="1.6"/><rect x="632.7" y="943.3" width="1.6" height="1.6"/><rect x="632.7" y="949.7" width="1.6" height="1.6"/><rect x="632.7" y="956" width="1.6" height="1.6"/><rect x="632.7" y="962.4" width="1.6" height="1.6"/><rect x="632.7" y="968.7" width="1.6" height="1.6"/><rect x="632.7" y="975.1" width="1.6" height="1.6"/><rect x="632.7" y="981.4" width="1.6" height="1.6"/><rect x="632.7" y="987.7" width="1.6" height="1.6"/><rect x="632.7" y="994.1" width="1.6" height="1.6"/><rect x="632.7" y="1000.4" width="1.6" height="1.6"/><rect x="632.7" y="1006.8" width="1.6" height="1.6"/><rect x="632.7" y="1013.1" width="1.6" height="1.6"/><rect x="632.7" y="1019.5" width="1.6" height="1.6"/><rect x="632.7" y="1025.8" width="1.6" height="1.6"/><rect x="632.7" y="1032.1" width="1.6" height="1.6"/><rect x="632.7" y="1038.5" width="1.6" height="1.6"/><rect x="632.7" y="1044.8" width="1.6" height="1.6"/><rect x="632.7" y="1051.2" width="1.6" height="1.6"/><rect x="632.7" y="1057.5" width="1.6" height="1.6"/><rect x="632.7" y="1063.8" width="1.6" height="1.6"/><rect x="632.7" y="1070.2" width="1.6" height="1.6"/><rect x="632.7" y="1076.5" width="1.6" height="1.6"/><rect x="632.7" y="1082.9" width="1.6" height="1.6"/><rect x="632.7" y="1089.2" width="1.6" height="1.6"/><rect x="632.7" y="1095.6" width="1.6" height="1.6"/><rect x="632.7" y="1101.9" width="1.6" height="1.6"/><rect x="632.7" y="1108.2" width="1.6" height="1.6"/><rect x="632.7" y="1114.6" width="1.6" height="1.6"/><rect x="843.7" y="150.6" width="1.6" height="1.6"/><rect x="843.7" y="156.9" width="1.6" height="1.6"/><rect x="843.7" y="163.3" width="1.6" height="1.6"/><rect x="843.7" y="169.6" width="1.6" height="1.6"/><rect x="843.7" y="176" width="1.6" height="1.6"/><rect x="843.7" y="182.3" width="1.6" height="1.6"/><rect x="843.7" y="188.7" width="1.6" height="1.6"/><rect x="843.7" y="195" width="1.6" height="1.6"/><rect x="843.7" y="201.3" width="1.6" height="1.6"/><rect x="843.7" y="207.7" width="1.6" height="1.6"/><rect x="843.7" y="214" width="1.6" height="1.6"/><rect x="843.7" y="220.4" width="1.6" height="1.6"/><rect x="843.7" y="226.7" width="1.6" height="1.6"/><rect x="843.7" y="233" width="1.6" height="1.6"/><rect x="843.7" y="239.4" width="1.6" height="1.6"/><rect x="843.7" y="245.7" width="1.6" height="1.6"/><rect x="843.7" y="252.1" width="1.6" height="1.6"/><rect x="843.7" y="258.4" width="1.6" height="1.6"/><rect x="843.7" y="264.8" width="1.6" height="1.6"/><rect x="843.7" y="271.1" width="1.6" height="1.6"/><rect x="843.7" y="277.4" width="1.6" height="1.6"/><rect x="843.7" y="283.8" width="1.6" height="1.6"/><rect x="843.7" y="290.1" width="1.6" height="1.6"/><rect x="843.7" y="296.5" width="1.6" height="1.6"/><rect x="843.7" y="302.8" width="1.6" height="1.6"/><rect x="843.7" y="309.2" width="1.6" height="1.6"/><rect x="843.7" y="315.5" width="1.6" height="1.6"/><rect x="843.7" y="321.8" width="1.6" height="1.6"/><rect x="843.7" y="328.2" width="1.6" height="1.6"/><rect x="843.7" y="334.5" width="1.6" height="1.6"/><rect x="843.7" y="340.9" width="1.6" height="1.6"/><rect x="843.7" y="347.2" width="1.6" height="1.6"/><rect x="843.7" y="353.5" width="1.6" height="1.6"/><rect x="843.7" y="359.9" width="1.6" height="1.6"/><rect x="843.7" y="366.2" width="1.6" height="1.6"/><rect x="843.7" y="372.6" width="1.6" height="1.6"/><rect x="843.7" y="378.9" width="1.6" height="1.6"/><rect x="843.7" y="385.3" width="1.6" height="1.6"/><rect x="843.7" y="391.6" width="1.6" height="1.6"/><rect x="843.7" y="397.9" width="1.6" height="1.6"/><rect x="843.7" y="404.3" width="1.6" height="1.6"/><rect x="843.7" y="410.6" width="1.6" height="1.6"/><rect x="843.7" y="417" width="1.6" height="1.6"/><rect x="843.7" y="423.3" width="1.6" height="1.6"/><rect x="843.7" y="429.6" width="1.6" height="1.6"/><rect x="843.7" y="436" width="1.6" height="1.6"/><rect x="843.7" y="442.3" width="1.6" height="1.6"/><rect x="843.7" y="448.7" width="1.6" height="1.6"/><rect x="843.7" y="455" width="1.6" height="1.6"/><rect x="843.7" y="461.4" width="1.6" height="1.6"/><rect x="843.7" y="467.7" width="1.6" height="1.6"/><rect x="843.7" y="474" width="1.6" height="1.6"/><rect x="843.7" y="480.4" width="1.6" height="1.6"/><rect x="843.7" y="486.7" width="1.6" height="1.6"/><rect x="843.7" y="493.1" width="1.6" height="1.6"/><rect x="843.7" y="499.4" width="1.6" height="1.6"/><rect x="843.7" y="505.8" width="1.6" height="1.6"/><rect x="843.7" y="512.1" width="1.6" height="1.6"/><rect x="843.7" y="518.4" width="1.6" height="1.6"/><rect x="843.7" y="524.8" width="1.6" height="1.6"/><rect x="843.7" y="531.1" width="1.6" height="1.6"/><rect x="843.7" y="537.5" width="1.6" height="1.6"/><rect x="843.7" y="543.8" width="1.6" height="1.6"/><rect x="843.7" y="550.1" width="1.6" height="1.6"/><rect x="843.7" y="556.5" width="1.6" height="1.6"/><rect x="843.7" y="562.8" width="1.6" height="1.6"/><rect x="843.7" y="569.2" width="1.6" height="1.6"/><rect x="843.7" y="575.5" width="1.6" height="1.6"/><rect x="843.7" y="581.9" width="1.6" height="1.6"/><rect x="843.7" y="588.2" width="1.6" height="1.6"/><rect x="843.7" y="594.5" width="1.6" height="1.6"/><rect x="843.7" y="600.9" width="1.6" height="1.6"/><rect x="843.7" y="607.2" width="1.6" height="1.6"/><rect x="843.7" y="613.6" width="1.6" height="1.6"/><rect x="843.7" y="619.9" width="1.6" height="1.6"/><rect x="843.7" y="626.2" width="1.6" height="1.6"/><rect x="843.7" y="632.6" width="1.6" height="1.6"/><rect x="843.7" y="638.9" width="1.6" height="1.6"/><rect x="843.7" y="645.3" width="1.6" height="1.6"/><rect x="843.7" y="651.6" width="1.6" height="1.6"/><rect x="843.7" y="658" width="1.6" height="1.6"/><rect x="843.7" y="664.3" width="1.6" height="1.6"/><rect x="843.7" y="670.6" width="1.6" height="1.6"/><rect x="843.7" y="677" width="1.6" height="1.6"/><rect x="843.7" y="683.3" width="1.6" height="1.6"/><rect x="843.7" y="689.7" width="1.6" height="1.6"/><rect x="843.7" y="696" width="1.6" height="1.6"/><rect x="843.7" y="702.4" width="1.6" height="1.6"/><rect x="843.7" y="708.7" width="1.6" height="1.6"/><rect x="843.7" y="715" width="1.6" height="1.6"/><rect x="843.7" y="721.4" width="1.6" height="1.6"/><rect x="843.7" y="727.7" width="1.6" height="1.6"/><rect x="843.7" y="734.1" width="1.6" height="1.6"/><rect x="843.7" y="740.4" width="1.6" height="1.6"/><rect x="843.7" y="746.7" width="1.6" height="1.6"/><rect x="843.7" y="753.1" width="1.6" height="1.6"/><rect x="843.7" y="759.4" width="1.6" height="1.6"/><rect x="843.7" y="765.8" width="1.6" height="1.6"/><rect x="843.7" y="772.1" width="1.6" height="1.6"/><rect x="843.7" y="778.5" width="1.6" height="1.6"/><rect x="843.7" y="784.8" width="1.6" height="1.6"/><rect x="843.7" y="791.1" width="1.6" height="1.6"/><rect x="843.7" y="797.5" width="1.6" height="1.6"/><rect x="843.7" y="803.8" width="1.6" height="1.6"/><rect x="843.7" y="810.2" width="1.6" height="1.6"/><rect x="843.7" y="816.5" width="1.6" height="1.6"/><rect x="843.7" y="822.9" width="1.6" height="1.6"/><rect x="843.7" y="829.2" width="1.6" height="1.6"/><rect x="843.7" y="835.5" width="1.6" height="1.6"/><rect x="843.7" y="841.9" width="1.6" height="1.6"/><rect x="843.7" y="848.2" width="1.6" height="1.6"/><rect x="843.7" y="854.6" width="1.6" height="1.6"/><rect x="843.7" y="860.9" width="1.6" height="1.6"/><rect x="843.7" y="867.2" width="1.6" height="1.6"/><rect x="843.7" y="873.6" width="1.6" height="1.6"/><rect x="843.7" y="879.9" width="1.6" height="1.6"/><rect x="843.7" y="886.3" width="1.6" height="1.6"/><rect x="843.7" y="892.6" width="1.6" height="1.6"/><rect x="843.7" y="899" width="1.6" height="1.6"/><rect x="843.7" y="905.3" width="1.6" height="1.6"/><rect x="843.7" y="911.6" width="1.6" height="1.6"/><rect x="843.7" y="918" width="1.6" height="1.6"/><rect x="843.7" y="924.3" width="1.6" height="1.6"/><rect x="843.7" y="930.7" width="1.6" height="1.6"/><rect x="843.7" y="937" width="1.6" height="1.6"/><rect x="843.7" y="943.3" width="1.6" height="1.6"/><rect x="843.7" y="949.7" width="1.6" height="1.6"/><rect x="843.7" y="956" width="1.6" height="1.6"/><rect x="843.7" y="962.4" width="1.6" height="1.6"/><rect x="843.7" y="968.7" width="1.6" height="1.6"/><rect x="843.7" y="975.1" width="1.6" height="1.6"/><rect x="843.7" y="981.4" width="1.6" height="1.6"/><rect x="843.7" y="987.7" width="1.6" height="1.6"/><rect x="843.7" y="994.1" width="1.6" height="1.6"/><rect x="843.7" y="1000.4" width="1.6" height="1.6"/><rect x="843.7" y="1006.8" width="1.6" height="1.6"/><rect x="843.7" y="1013.1" width="1.6" height="1.6"/><rect x="843.7" y="1019.5" width="1.6" height="1.6"/><rect x="843.7" y="1025.8" width="1.6" height="1.6"/><rect x="843.7" y="1032.1" width="1.6" height="1.6"/><rect x="843.7" y="1038.5" width="1.6" height="1.6"/><rect x="843.7" y="1044.8" width="1.6" height="1.6"/><rect x="843.7" y="1051.2" width="1.6" height="1.6"/><rect x="843.7" y="1057.5" width="1.6" height="1.6"/><rect x="843.7" y="1063.8" width="1.6" height="1.6"/><rect x="843.7" y="1070.2" width="1.6" height="1.6"/><rect x="843.7" y="1076.5" width="1.6" height="1.6"/><rect x="843.7" y="1082.9" width="1.6" height="1.6"/><rect x="843.7" y="1089.2" width="1.6" height="1.6"/><rect x="843.7" y="1095.6" width="1.6" height="1.6"/><rect x="843.7" y="1101.9" width="1.6" height="1.6"/><rect x="843.7" y="1108.2" width="1.6" height="1.6"/><rect x="843.7" y="1114.6" width="1.6" height="1.6"/><rect x="218.9" y="310.2" width="1.6" height="1.6"/><rect x="225.2" y="310.2" width="1.6" height="1.6"/><rect x="231.6" y="310.2" width="1.6" height="1.6"/><rect x="237.9" y="310.2" width="1.6" height="1.6"/><rect x="244.3" y="310.2" width="1.6" height="1.6"/><rect x="250.6" y="310.2" width="1.6" height="1.6"/><rect x="257" y="310.2" width="1.6" height="1.6"/><rect x="263.3" y="310.2" width="1.6" height="1.6"/><rect x="269.7" y="310.2" width="1.6" height="1.6"/><rect x="276" y="310.2" width="1.6" height="1.6"/><rect x="282.4" y="310.2" width="1.6" height="1.6"/><rect x="288.7" y="310.2" width="1.6" height="1.6"/><rect x="295.1" y="310.2" width="1.6" height="1.6"/><rect x="301.4" y="310.2" width="1.6" height="1.6"/><rect x="307.8" y="310.2" width="1.6" height="1.6"/><rect x="314.1" y="310.2" width="1.6" height="1.6"/><rect x="320.5" y="310.2" width="1.6" height="1.6"/><rect x="326.8" y="310.2" width="1.6" height="1.6"/><rect x="333.2" y="310.2" width="1.6" height="1.6"/><rect x="339.5" y="310.2" width="1.6" height="1.6"/><rect x="345.9" y="310.2" width="1.6" height="1.6"/><rect x="352.2" y="310.2" width="1.6" height="1.6"/><rect x="358.6" y="310.2" width="1.6" height="1.6"/><rect x="364.9" y="310.2" width="1.6" height="1.6"/><rect x="371.3" y="310.2" width="1.6" height="1.6"/><rect x="377.6" y="310.2" width="1.6" height="1.6"/><rect x="384" y="310.2" width="1.6" height="1.6"/><rect x="390.3" y="310.2" width="1.6" height="1.6"/><rect x="396.7" y="310.2" width="1.6" height="1.6"/><rect x="403" y="310.2" width="1.6" height="1.6"/><rect x="409.4" y="310.2" width="1.6" height="1.6"/><rect x="415.7" y="310.2" width="1.6" height="1.6"/><rect x="422.1" y="310.2" width="1.6" height="1.6"/><rect x="428.4" y="310.2" width="1.6" height="1.6"/><rect x="434.8" y="310.2" width="1.6" height="1.6"/><rect x="441.1" y="310.2" width="1.6" height="1.6"/><rect x="447.5" y="310.2" width="1.6" height="1.6"/><rect x="453.8" y="310.2" width="1.6" height="1.6"/><rect x="460.2" y="310.2" width="1.6" height="1.6"/><rect x="466.5" y="310.2" width="1.6" height="1.6"/><rect x="472.9" y="310.2" width="1.6" height="1.6"/><rect x="479.2" y="310.2" width="1.6" height="1.6"/><rect x="485.6" y="310.2" width="1.6" height="1.6"/><rect x="491.9" y="310.2" width="1.6" height="1.6"/><rect x="498.3" y="310.2" width="1.6" height="1.6"/><rect x="504.6" y="310.2" width="1.6" height="1.6"/><rect x="511" y="310.2" width="1.6" height="1.6"/><rect x="517.3" y="310.2" width="1.6" height="1.6"/><rect x="523.7" y="310.2" width="1.6" height="1.6"/><rect x="530.1" y="310.2" width="1.6" height="1.6"/><rect x="536.4" y="310.2" width="1.6" height="1.6"/><rect x="542.8" y="310.2" width="1.6" height="1.6"/><rect x="549.1" y="310.2" width="1.6" height="1.6"/><rect x="555.5" y="310.2" width="1.6" height="1.6"/><rect x="561.8" y="310.2" width="1.6" height="1.6"/><rect x="568.2" y="310.2" width="1.6" height="1.6"/><rect x="574.5" y="310.2" width="1.6" height="1.6"/><rect x="580.9" y="310.2" width="1.6" height="1.6"/><rect x="587.2" y="310.2" width="1.6" height="1.6"/><rect x="593.6" y="310.2" width="1.6" height="1.6"/><rect x="599.9" y="310.2" width="1.6" height="1.6"/><rect x="606.3" y="310.2" width="1.6" height="1.6"/><rect x="612.6" y="310.2" width="1.6" height="1.6"/><rect x="619" y="310.2" width="1.6" height="1.6"/><rect x="625.3" y="310.2" width="1.6" height="1.6"/><rect x="631.7" y="310.2" width="1.6" height="1.6"/><rect x="638" y="310.2" width="1.6" height="1.6"/><rect x="644.4" y="310.2" width="1.6" height="1.6"/><rect x="650.7" y="310.2" width="1.6" height="1.6"/><rect x="657.1" y="310.2" width="1.6" height="1.6"/><rect x="663.4" y="310.2" width="1.6" height="1.6"/><rect x="669.8" y="310.2" width="1.6" height="1.6"/><rect x="676.1" y="310.2" width="1.6" height="1.6"/><rect x="682.5" y="310.2" width="1.6" height="1.6"/><rect x="688.8" y="310.2" width="1.6" height="1.6"/><rect x="695.2" y="310.2" width="1.6" height="1.6"/><rect x="701.5" y="310.2" width="1.6" height="1.6"/><rect x="707.9" y="310.2" width="1.6" height="1.6"/><rect x="714.2" y="310.2" width="1.6" height="1.6"/><rect x="720.6" y="310.2" width="1.6" height="1.6"/><rect x="726.9" y="310.2" width="1.6" height="1.6"/><rect x="733.3" y="310.2" width="1.6" height="1.6"/><rect x="739.6" y="310.2" width="1.6" height="1.6"/><rect x="746" y="310.2" width="1.6" height="1.6"/><rect x="752.3" y="310.2" width="1.6" height="1.6"/><rect x="758.7" y="310.2" width="1.6" height="1.6"/><rect x="765" y="310.2" width="1.6" height="1.6"/><rect x="771.4" y="310.2" width="1.6" height="1.6"/><rect x="777.7" y="310.2" width="1.6" height="1.6"/><rect x="784.1" y="310.2" width="1.6" height="1.6"/><rect x="790.4" y="310.2" width="1.6" height="1.6"/><rect x="796.8" y="310.2" width="1.6" height="1.6"/><rect x="803.1" y="310.2" width="1.6" height="1.6"/><rect x="809.5" y="310.2" width="1.6" height="1.6"/><rect x="815.8" y="310.2" width="1.6" height="1.6"/><rect x="822.2" y="310.2" width="1.6" height="1.6"/><rect x="828.5" y="310.2" width="1.6" height="1.6"/><rect x="834.9" y="310.2" width="1.6" height="1.6"/><rect x="841.2" y="310.2" width="1.6" height="1.6"/><rect x="218.9" y="631.6" width="1.6" height="1.6"/><rect x="225.2" y="631.6" width="1.6" height="1.6"/><rect x="231.6" y="631.6" width="1.6" height="1.6"/><rect x="237.9" y="631.6" width="1.6" height="1.6"/><rect x="244.3" y="631.6" width="1.6" height="1.6"/><rect x="250.6" y="631.6" width="1.6" height="1.6"/><rect x="257" y="631.6" width="1.6" height="1.6"/><rect x="263.3" y="631.6" width="1.6" height="1.6"/><rect x="269.7" y="631.6" width="1.6" height="1.6"/><rect x="276" y="631.6" width="1.6" height="1.6"/><rect x="282.4" y="631.6" width="1.6" height="1.6"/><rect x="288.7" y="631.6" width="1.6" height="1.6"/><rect x="295.1" y="631.6" width="1.6" height="1.6"/><rect x="301.4" y="631.6" width="1.6" height="1.6"/><rect x="307.8" y="631.6" width="1.6" height="1.6"/><rect x="314.1" y="631.6" width="1.6" height="1.6"/><rect x="320.5" y="631.6" width="1.6" height="1.6"/><rect x="326.8" y="631.6" width="1.6" height="1.6"/><rect x="333.2" y="631.6" width="1.6" height="1.6"/><rect x="339.5" y="631.6" width="1.6" height="1.6"/><rect x="345.9" y="631.6" width="1.6" height="1.6"/><rect x="352.2" y="631.6" width="1.6" height="1.6"/><rect x="358.6" y="631.6" width="1.6" height="1.6"/><rect x="364.9" y="631.6" width="1.6" height="1.6"/><rect x="371.3" y="631.6" width="1.6" height="1.6"/><rect x="377.6" y="631.6" width="1.6" height="1.6"/><rect x="384" y="631.6" width="1.6" height="1.6"/><rect x="390.3" y="631.6" width="1.6" height="1.6"/><rect x="396.7" y="631.6" width="1.6" height="1.6"/><rect x="403" y="631.6" width="1.6" height="1.6"/><rect x="409.4" y="631.6" width="1.6" height="1.6"/><rect x="415.7" y="631.6" width="1.6" height="1.6"/><rect x="422.1" y="631.6" width="1.6" height="1.6"/><rect x="428.4" y="631.6" width="1.6" height="1.6"/><rect x="434.8" y="631.6" width="1.6" height="1.6"/><rect x="441.1" y="631.6" width="1.6" height="1.6"/><rect x="447.5" y="631.6" width="1.6" height="1.6"/><rect x="453.8" y="631.6" width="1.6" height="1.6"/><rect x="460.2" y="631.6" width="1.6" height="1.6"/><rect x="466.5" y="631.6" width="1.6" height="1.6"/><rect x="472.9" y="631.6" width="1.6" height="1.6"/><rect x="479.2" y="631.6" width="1.6" height="1.6"/><rect x="485.6" y="631.6" width="1.6" height="1.6"/><rect x="491.9" y="631.6" width="1.6" height="1.6"/><rect x="498.3" y="631.6" width="1.6" height="1.6"/><rect x="504.6" y="631.6" width="1.6" height="1.6"/><rect x="511" y="631.6" width="1.6" height="1.6"/><rect x="517.3" y="631.6" width="1.6" height="1.6"/><rect x="523.7" y="631.6" width="1.6" height="1.6"/><rect x="530.1" y="631.6" width="1.6" height="1.6"/><rect x="536.4" y="631.6" width="1.6" height="1.6"/><rect x="542.8" y="631.6" width="1.6" height="1.6"/><rect x="549.1" y="631.6" width="1.6" height="1.6"/><rect x="555.5" y="631.6" width="1.6" height="1.6"/><rect x="561.8" y="631.6" width="1.6" height="1.6"/><rect x="568.2" y="631.6" width="1.6" height="1.6"/><rect x="574.5" y="631.6" width="1.6" height="1.6"/><rect x="580.9" y="631.6" width="1.6" height="1.6"/><rect x="587.2" y="631.6" width="1.6" height="1.6"/><rect x="593.6" y="631.6" width="1.6" height="1.6"/><rect x="599.9" y="631.6" width="1.6" height="1.6"/><rect x="606.3" y="631.6" width="1.6" height="1.6"/><rect x="612.6" y="631.6" width="1.6" height="1.6"/><rect x="619" y="631.6" width="1.6" height="1.6"/><rect x="625.3" y="631.6" width="1.6" height="1.6"/><rect x="631.7" y="631.6" width="1.6" height="1.6"/><rect x="638" y="631.6" width="1.6" height="1.6"/><rect x="644.4" y="631.6" width="1.6" height="1.6"/><rect x="650.7" y="631.6" width="1.6" height="1.6"/><rect x="657.1" y="631.6" width="1.6" height="1.6"/><rect x="663.4" y="631.6" width="1.6" height="1.6"/><rect x="669.8" y="631.6" width="1.6" height="1.6"/><rect x="676.1" y="631.6" width="1.6" height="1.6"/><rect x="682.5" y="631.6" width="1.6" height="1.6"/><rect x="688.8" y="631.6" width="1.6" height="1.6"/><rect x="695.2" y="631.6" width="1.6" height="1.6"/><rect x="701.5" y="631.6" width="1.6" height="1.6"/><rect x="707.9" y="631.6" width="1.6" height="1.6"/><rect x="714.2" y="631.6" width="1.6" height="1.6"/><rect x="720.6" y="631.6" width="1.6" height="1.6"/><rect x="726.9" y="631.6" width="1.6" height="1.6"/><rect x="733.3" y="631.6" width="1.6" height="1.6"/><rect x="739.6" y="631.6" width="1.6" height="1.6"/><rect x="746" y="631.6" width="1.6" height="1.6"/><rect x="752.3" y="631.6" width="1.6" height="1.6"/><rect x="758.7" y="631.6" width="1.6" height="1.6"/><rect x="765" y="631.6" width="1.6" height="1.6"/><rect x="771.4" y="631.6" width="1.6" height="1.6"/><rect x="777.7" y="631.6" width="1.6" height="1.6"/><rect x="784.1" y="631.6" width="1.6" height="1.6"/><rect x="790.4" y="631.6" width="1.6" height="1.6"/><rect x="796.8" y="631.6" width="1.6" height="1.6"/><rect x="803.1" y="631.6" width="1.6" height="1.6"/><rect x="809.5" y="631.6" width="1.6" height="1.6"/><rect x="815.8" y="631.6" width="1.6" height="1.6"/><rect x="822.2" y="631.6" width="1.6" height="1.6"/><rect x="828.5" y="631.6" width="1.6" height="1.6"/><rect x="834.9" y="631.6" width="1.6" height="1.6"/><rect x="841.2" y="631.6" width="1.6" height="1.6"/><rect x="218.9" y="953" width="1.6" height="1.6"/><rect x="225.2" y="953" width="1.6" height="1.6"/><rect x="231.6" y="953" width="1.6" height="1.6"/><rect x="237.9" y="953" width="1.6" height="1.6"/><rect x="244.3" y="953" width="1.6" height="1.6"/><rect x="250.6" y="953" width="1.6" height="1.6"/><rect x="257" y="953" width="1.6" height="1.6"/><rect x="263.3" y="953" width="1.6" height="1.6"/><rect x="269.7" y="953" width="1.6" height="1.6"/><rect x="276" y="953" width="1.6" height="1.6"/><rect x="282.4" y="953" width="1.6" height="1.6"/><rect x="288.7" y="953" width="1.6" height="1.6"/><rect x="295.1" y="953" width="1.6" height="1.6"/><rect x="301.4" y="953" width="1.6" height="1.6"/><rect x="307.8" y="953" width="1.6" height="1.6"/><rect x="314.1" y="953" width="1.6" height="1.6"/><rect x="320.5" y="953" width="1.6" height="1.6"/><rect x="326.8" y="953" width="1.6" height="1.6"/><rect x="333.2" y="953" width="1.6" height="1.6"/><rect x="339.5" y="953" width="1.6" height="1.6"/><rect x="345.9" y="953" width="1.6" height="1.6"/><rect x="352.2" y="953" width="1.6" height="1.6"/><rect x="358.6" y="953" width="1.6" height="1.6"/><rect x="364.9" y="953" width="1.6" height="1.6"/><rect x="371.3" y="953" width="1.6" height="1.6"/><rect x="377.6" y="953" width="1.6" height="1.6"/><rect x="384" y="953" width="1.6" height="1.6"/><rect x="390.3" y="953" width="1.6" height="1.6"/><rect x="396.7" y="953" width="1.6" height="1.6"/><rect x="403" y="953" width="1.6" height="1.6"/><rect x="409.4" y="953" width="1.6" height="1.6"/><rect x="415.7" y="953" width="1.6" height="1.6"/><rect x="422.1" y="953" width="1.6" height="1.6"/><rect x="428.4" y="953" width="1.6" height="1.6"/><rect x="434.8" y="953" width="1.6" height="1.6"/><rect x="441.1" y="953" width="1.6" height="1.6"/><rect x="447.5" y="953" width="1.6" height="1.6"/><rect x="453.8" y="953" width="1.6" height="1.6"/><rect x="460.2" y="953" width="1.6" height="1.6"/><rect x="466.5" y="953" width="1.6" height="1.6"/><rect x="472.9" y="953" width="1.6" height="1.6"/><rect x="479.2" y="953" width="1.6" height="1.6"/><rect x="485.6" y="953" width="1.6" height="1.6"/><rect x="491.9" y="953" width="1.6" height="1.6"/><rect x="498.3" y="953" width="1.6" height="1.6"/><rect x="504.6" y="953" width="1.6" height="1.6"/><rect x="511" y="953" width="1.6" height="1.6"/><rect x="517.3" y="953" width="1.6" height="1.6"/><rect x="523.7" y="953" width="1.6" height="1.6"/><rect x="530.1" y="953" width="1.6" height="1.6"/><rect x="536.4" y="953" width="1.6" height="1.6"/><rect x="542.8" y="953" width="1.6" height="1.6"/><rect x="549.1" y="953" width="1.6" height="1.6"/><rect x="555.5" y="953" width="1.6" height="1.6"/><rect x="561.8" y="953" width="1.6" height="1.6"/><rect x="568.2" y="953" width="1.6" height="1.6"/><rect x="574.5" y="953" width="1.6" height="1.6"/><rect x="580.9" y="953" width="1.6" height="1.6"/><rect x="587.2" y="953" width="1.6" height="1.6"/><rect x="593.6" y="953" width="1.6" height="1.6"/><rect x="599.9" y="953" width="1.6" height="1.6"/><rect x="606.3" y="953" width="1.6" height="1.6"/><rect x="612.6" y="953" width="1.6" height="1.6"/><rect x="619" y="953" width="1.6" height="1.6"/><rect x="625.3" y="953" width="1.6" height="1.6"/><rect x="631.7" y="953" width="1.6" height="1.6"/><rect x="638" y="953" width="1.6" height="1.6"/><rect x="644.4" y="953" width="1.6" height="1.6"/><rect x="650.7" y="953" width="1.6" height="1.6"/><rect x="657.1" y="953" width="1.6" height="1.6"/><rect x="663.4" y="953" width="1.6" height="1.6"/><rect x="669.8" y="953" width="1.6" height="1.6"/><rect x="676.1" y="953" width="1.6" height="1.6"/><rect x="682.5" y="953" width="1.6" height="1.6"/><rect x="688.8" y="953" width="1.6" height="1.6"/><rect x="695.2" y="953" width="1.6" height="1.6"/><rect x="701.5" y="953" width="1.6" height="1.6"/><rect x="707.9" y="953" width="1.6" height="1.6"/><rect x="714.2" y="953" width="1.6" height="1.6"/><rect x="720.6" y="953" width="1.6" height="1.6"/><rect x="726.9" y="953" width="1.6" height="1.6"/><rect x="733.3" y="953" width="1.6" height="1.6"/><rect x="739.6" y="953" width="1.6" height="1.6"/><rect x="746" y="953" width="1.6" height="1.6"/><rect x="752.3" y="953" width="1.6" height="1.6"/><rect x="758.7" y="953" width="1.6" height="1.6"/><rect x="765" y="953" width="1.6" height="1.6"/><rect x="771.4" y="953" width="1.6" height="1.6"/><rect x="777.7" y="953" width="1.6" height="1.6"/><rect x="784.1" y="953" width="1.6" height="1.6"/><rect x="790.4" y="953" width="1.6" height="1.6"/><rect x="796.8" y="953" width="1.6" height="1.6"/><rect x="803.1" y="953" width="1.6" height="1.6"/><rect x="809.5" y="953" width="1.6" height="1.6"/><rect x="815.8" y="953" width="1.6" height="1.6"/><rect x="822.2" y="953" width="1.6" height="1.6"/><rect x="828.5" y="953" width="1.6" height="1.6"/><rect x="834.9" y="953" width="1.6" height="1.6"/><rect x="841.2" y="953" width="1.6" height="1.6"/></g><g clip-path="url(#mc)"><path d="M251.1 140.5 252.4 150 251.1 162.4 248.7 177.4 244.9 194.9 239.9 214.8 234.9 234.8 229.9 249.8 225 262.2M213 297.2 206.2 309.7M323.5 140.5 322.3 155 320.3 172.4 317.3 189.9 313.5 207.4 308.5 224.8 302.3 242.3 299.8 257.3 296.1 274.7 289.8 289.7 282.3 304.7 274.9 319.6 268.6 334.6 263.6 349.6 258.6 367 252.4 382 244.9 397 237.4 411.9 229.4 434.9M232.4 429.5 228.7 435M216.2 467.4 207.5 489.9M381.6 140.5 382.1 160 384.1 182.4 383.4 197.4 379.1 214.8 373.4 232.3 369.7 247.3 365.9 264.7 362.2 282.2 358.4 299.7 353.4 314.6 348.5 332.1 342.2 347.1 334.7 364.5 327.2 379.5 319.8 394.5 313.5 409.5 308.5 424.4 304.8 434.9M308.5 430 299.8 442.5 289.8 455 279.8 467.4 274.9 477.4 267.4 494.9 259.9 512.3 252.4 529.8 244.9 547.3 237.4 562.2 229.9 579.7 225 599.7M217.5 637.1 207.5 644.6M441.2 140.5 439.5 160 436.2 184.9 432.5 209.9 430.5 234.8 428.7 259.8 425 284.7 422 304.7 420 314.6M419.6 314.6 414.6 332.1 409.6 349.6M397.1 384.5 390.9 394.5 384.6 407 378.4 419.4 372.2 434.9M374.7 430 369.7 440 364.7 455 354.7 467.4 349.7 472.4 349.7 489.9 347.2 502.4 342.2 512.3 334.7 524.8 327.2 537.3 323.5 547.3 322.3 559.7 319.8 569.7 314.8 579.7 304.8 583.4 299.8 589.7 294.8 602.2 292.3 612.1 284.8 624.6 277.3 634.6 274.9 642.1 272.4 654.6 264.9 667 257.4 674.5 252.4 684.5 249.9 694.5 242.4 704.5 234.9 714.4 227.4 724.4 225 729.9M232.4 720 223.7 740M218.7 774.9 207.5 794.9M496.6 140.5 494.9 160 492.9 184.9 491.1 209.9 488.6 234.8 485.4 259.8 482.4 284.7 479.4 309.7 476.1 329.6 472.4 349.6 468.7 369.5 464.9 389.5 461.2 409.5 457.4 434.9M457.4 430 454.9 440 449.9 452.5 442.5 464.9 437.5 477.4M428.7 513.6 425 522.3 420 534.8M428.3 513.6 424.6 524.8 419.6 537.3 414.6 549.8 410.8 562.2 407.1 574.7 402.1 587.2 397.1 602.2 392.1 614.6 387.1 627.1 382.1 639.6 374.7 647.1 367.2 657 359.7 669.5 349.7 682 339.7 692 329.7 702 322.3 711.9 312.3 716.9 299.8 721.9 289.8 729.9M292.3 727.5 289.8 735 289.8 745 284.8 759.9 279.8 774.9 274.9 792.4 267.4 809.8 262.4 824.8 254.9 839.8 247.4 854.7 239.9 867.2 233.7 879.7 227.4 889.7M211.2 919.6 207.5 927.1M557.7 140.5 556.7 160 554.7 184.9 554.2 209.9 554.7 234.8 552.2 259.8 549.7 284.7 547.2 309.7 544.8 332.1 542.8 354.6 541 377 540.3 399.5 539.3 419.4 538.5 434.9M539.3 430 537.3 450 534.8 467.4 531 484.9 527.3 502.4 522.3 519.8 517.3 537.3 513.6 554.8 508.6 574.7 502.3 592.2 496.1 609.6 491.1 627.1M477.4 657 469.9 674.5 462.4 689.5 454.9 706.9 445 729.9M449.9 720 445 730 435 745 425 762.4 420 769.9M444 732.5 434.5 745 424.6 762.4 414.6 774.9 399.6 787.4 387.1 794.9 379.6 804.8 372.2 819.8 364.7 834.8 354.7 849.7 344.7 864.7 332.2 879.7 322.3 892.2 312.3 904.6 302.3 917.1 289.8 929.6 274.9 939.6 262.4 949.5 249.9 962 239.9 977 232.4 989.5M212.5 1024.8 207.5 1032.3M638.3 140.5 637.6 160 637.1 184.9 636.6 209.9 636.1 234.8 635.6 259.8 635.1 284.7 635.8 304.7 638.3 319.6 644.6 337.1 650.8 352.1 655.8 367 660 384.5M664.4 430 663.7 445 666.2 459.9 667.4 474.9 666.2 487.4 671.1 499.9 672.4 514.8 673.6 529.8 674.9 544.8 673.6 559.7 668.7 572.2 662.4 584.7 656.2 599.7 653.7 614.6 651.2 629.6 645 639.6 637.5 647.1 627.5 652.1 620 657M620.8 654.6 612.1 659.5 602.1 672 592.2 684.5 579.7 699.5 569.7 711.9 559.7 729.9M566 720 557.2 735 547.2 752.4 537.3 769.9 529.8 786.1M509.8 813.6 494.9 832.3 484.9 849.7 474.9 867.2 462.4 879.7 449.9 892.2 435 899.6 420 909.6M444 897.1 432 902.1 417.1 909.6 404.6 919.6 389.6 932.1 374.7 944.6 362.2 954.5 357.2 964.5 347.2 974.5 334.7 979.5 319.8 987 307.3 994.5 294.8 1001.9 282.3 1009.4 272.4 1019.9M289.8 1004.9 274.9 1014.8 262.4 1027.3 249.9 1044.8 239.9 1062.2 232.4 1079.7 227.4 1087.2M212.5 1112.1 207.5 1122.1M849.5 654.6 839.6 659.5 829.6 664.5 825.8 669.5 823.3 679.5 822.6 694.5 821.6 709.4 820.8 729.9M820.8 720 821.6 745 822.6 769.9 824.1 794.9 825.8 819.8 828.3 839.8 834.6 847.2 839.6 852.2 842.1 864.7 841.6 884.7M841.8 918.5 845.6 922.3 847.5 928 849.4 931.7M438.7 1019.9 437.5 984.5 442.5 974.5 452.4 967 464.9 960.8 479.9 957 494.9 952 509.8 947 524.8 942.1 539.8 934.6 552.2 927.1 564.7 919.6 577.2 914.6 589.7 912.1 599.6 914.6 604.6 922.1 605.9 934.6 607.1 947 614.6 959.5 624.6 967 628.3 979.5 625.8 994.5 623.3 1006.9 623.3 1019.9M507 950 494.1 953.7 479.4 957.4 461 962.9 449.9 968.4 442.6 975.8 438 986.8 439.8 996 439.8 1005.2 438.9 1016.3 439.8 1025.5 433.4 1032.8 427.9 1040.2 425.1 1049.4 423.3 1060.4 422.3 1069.6 422.3 1077M615.5 960 621 963.7 626.5 971 629.3 978.4 626.5 987.6 624.7 996.8 622.8 1007.9 623.7 1018.9 625.6 1031.8 627.4 1044.7 629.3 1057.6 630.2 1074.1 624.7 1079.6 621.9 1087 613.6 1088.8 604.4 1087 595.2 1087 589.7 1090.7M604.4 1088.8 606.3 1099.9 602.6 1112.8 598.9 1107.2 591.5 1105.4 582.3 1098 576.8 1101.7 571.3 1103.6 565.8 1105.4 560.2 1094.4 554.7 1085.2M609.9 1107.2 619.1 1099.9 621 1107.2 613.6 1116.5 609.9 1110.9 609.9 1107.2M422.3 1077 427.9 1071.5 433.4 1067.8 438.9 1075.2 444.4 1069.6 449.9 1064.1 453.6 1058.6 461 1057.7 464.7 1045.7 475.7 1043 483.1 1047.6 485.8 1054.9 488.6 1056.8 497.8 1054.9 505.2 1054.9 512.5 1067.8 519.9 1062.3 525.4 1056.8 530.9 1056.8 537.4 1066M553 1078.8 560 1093.6M429.7 1123 431.5 1112 433.4 1097.2 442.6 1091.7 446.3 1078.8 448.1 1071.5 453.6 1069.6 461 1071.5 466.5 1080.7 470.2 1077 473.9 1082.5 477.6 1093.6 481.2 1106.5 484 1123M397.5 1089.9 403.9 1080.7 408.5 1084.4 407.6 1075.2 413.1 1068.7 416.8 1075.2 416.8 1089.9 415 1097.2 409.4 1097.2 403.9 1093.6 397.5 1089.9M274.9 1082.2 284.8 1072.2 299.8 1063.5 314.8 1058.5 329.7 1058.5 344.7 1057.2 354.7 1059.7 360.9 1069.7 363.4 1079.7 362.2 1089.7M259.9 1113.4 256.1 1122.1M714.7 988.7 722.3 987.7 728 994.4 731.7 1003.9 735.5 1015.2 731.7 1026.6 724.2 1030.4 714.7 1026.6 709 1019 707.1 1007.6 709 996.3 714.7 988.7M849.4 1013.3 843.7 1019 834.2 1020.9 826.6 1022.8 822.8 1020.9M849.4 1015.2 841.8 1026.6 838 1034.2 839.9 1045.6 836.1 1055.1 834.2 1064.6 839.9 1072.2 841.8 1081.7 838 1087.3 841.8 1091.1 849.4 1083.5M722.3 1119.6 733.6 1110.1 743.1 1100.6 752.6 1096.8 760.2 1091.1 765.9 1089.2 758.3 1087.3 754.5 1079.8 752.6 1091.1 756.4 1104.4 760.2 1113.9 762.1 1123.4M771.6 1122.4 783 1108.2 792.5 1094.9 798.2 1083.5 800.1 1072.2 796.3 1060.8 794.4 1051.3" fill="none" stroke="#0f0" stroke-width="3" stroke-linejoin="round" stroke-linecap="round"/><text transform="translate(221,281) rotate(108)" font-family="Liberation Sans, sans-serif" font-size="14" fill="#2d2" text-anchor="middle" dominant-baseline="central">260</text><text transform="translate(224.4,450) rotate(112)" font-family="Liberation Sans, sans-serif" font-size="14" fill="#2d2" text-anchor="middle" dominant-baseline="central">240</text><text transform="translate(224.4,618) rotate(116)" font-family="Liberation Sans, sans-serif" font-size="14" fill="#2d2" text-anchor="middle" dominant-baseline="central">220</text><text transform="translate(404,368) rotate(110)" font-family="Liberation Sans, sans-serif" font-size="14" fill="#2d2" text-anchor="middle" dominant-baseline="central">200</text><text transform="translate(221.2,757.4) rotate(115)" font-family="Liberation Sans, sans-serif" font-size="14" fill="#2d2" text-anchor="middle" dominant-baseline="central">200</text><text transform="translate(433,498.6) rotate(112)" font-family="Liberation Sans, sans-serif" font-size="14" fill="#2d2" text-anchor="middle" dominant-baseline="central">180</text><text transform="translate(220,904.6) rotate(118)" font-family="Liberation Sans, sans-serif" font-size="14" fill="#2d2" text-anchor="middle" dominant-baseline="central">180</text><text transform="translate(484.2,642) rotate(112)" font-family="Liberation Sans, sans-serif" font-size="14" fill="#2d2" text-anchor="middle" dominant-baseline="central">160</text><text transform="translate(222.5,1005.5) rotate(120)" font-family="Liberation Sans, sans-serif" font-size="14" fill="#2d2" text-anchor="middle" dominant-baseline="central">160</text><text transform="translate(663.7,400.7) rotate(95)" font-family="Liberation Sans, sans-serif" font-size="14" fill="#2d2" text-anchor="middle" dominant-baseline="central">140</text><text transform="translate(519.8,802.3) rotate(120)" font-family="Liberation Sans, sans-serif" font-size="14" fill="#2d2" text-anchor="middle" dominant-baseline="central">140</text><text transform="translate(225,1098.4) rotate(120)" font-family="Liberation Sans, sans-serif" font-size="14" fill="#2d2" text-anchor="middle" dominant-baseline="central">140</text><text transform="translate(839.5,904.7) rotate(100)" font-family="Liberation Sans, sans-serif" font-size="14" fill="#2d2" text-anchor="middle" dominant-baseline="central">120</text><text transform="translate(267.4,1097.2) rotate(112)" font-family="Liberation Sans, sans-serif" font-size="14" fill="#2d2" text-anchor="middle" dominant-baseline="central">120</text><text transform="translate(543,1080.7) rotate(95)" font-family="Liberation Sans, sans-serif" font-size="14" fill="#2d2" text-anchor="middle" dominant-baseline="central">120</text><text transform="translate(814,1031) rotate(110)" font-family="Liberation Sans, sans-serif" font-size="14" fill="#2d2" text-anchor="middle" dominant-baseline="central">120</text></g><path d="M213.3 158.9L209.7 172.4M209.7 172.4l-5.8 -1.6M210.5 169.3l-2.9 -0.8M234.3 158.9L227.6 171.1M227.6 171.1l-5.2 -2.9M229.1 168.3l-2.6 -1.5M255.4 158.9L248.4 171M248.4 171l-5.2 -3M250 168.3l-5.2 -3M276.4 158.9L269.8 171.3M269.8 171.3l-5.3 -2.8M271.3 168.4l-5.3 -2.8M272.9 165.6l-2.6 -1.4M297.5 158.9L290.9 171.3M290.9 171.3l-5.3 -2.8M292.4 168.4l-5.3 -2.8M293.9 165.6l-2.6 -1.4M318.5 158.9L311.6 171.1M311.6 171.1l-5.2 -2.9M313.2 168.3l-5.2 -2.9M314.8 165.5l-2.6 -1.5M339.5 158.9L332.4 170.9M332.4 170.9l-5.2 -3.1M334 168.2l-5.2 -3.1M335.7 165.4l-2.6 -1.5M360.6 158.9L353.2 170.8M353.2 170.8l-5.1 -3.2M354.9 168.1l-5.1 -3.2M356.6 165.3l-2.5 -1.6M381.6 158.9L373.9 170.6M373.9 170.6l-5 -3.3M375.7 167.9l-5 -3.3M377.4 165.2l-2.5 -1.6M402.7 158.9L394.7 170.4M394.7 170.4l-4.9 -3.4M396.5 167.8l-4.9 -3.4M398.3 165.2l-2.5 -1.7M423.7 158.9L415.5 170.2M415.5 170.2l-4.9 -3.5M417.4 167.6l-4.9 -3.5M419.2 165l-2.4 -1.8M444.7 158.9L436.5 170.2M436.5 170.2l-4.9 -3.5M438.4 167.6l-4.9 -3.5M440.3 165l-2.4 -1.8M465.8 158.9L458 170.5M458 170.5l-5 -3.4M459.7 167.9l-5 -3.4M461.5 165.2l-2.5 -1.7M486.8 158.9L478.8 170.4M478.8 170.4l-4.9 -3.4M480.6 167.7l-4.9 -3.4M482.5 165.1l-2.5 -1.7M507.9 158.9L499.6 170.2M499.6 170.2l-4.9 -3.5M501.5 167.6l-4.9 -3.5M503.4 165l-2.4 -1.8M528.9 158.9L520.6 170.2M520.6 170.2l-4.8 -3.6M522.5 167.6l-4.8 -3.6M524.4 165l-2.4 -1.8M549.9 158.9L541.5 170.1M541.5 170.1l-4.8 -3.6M543.4 167.5l-4.8 -3.6M545.4 165l-2.4 -1.8M571 158.9L562.5 170M562.5 170l-4.8 -3.7M564.4 167.5l-4.8 -3.7M566.4 164.9l-2.4 -1.8M592 158.9L583.4 169.9M583.4 169.9l-4.7 -3.7M585.4 167.4l-4.7 -3.7M587.3 164.9l-2.4 -1.8M613.1 158.9L604.3 169.9M604.3 169.9l-4.7 -3.7M606.3 167.4l-4.7 -3.7M608.3 164.8l-2.3 -1.9M634.1 158.9L625.3 169.8M625.3 169.8l-4.7 -3.8M627.3 167.3l-4.7 -3.8M629.3 164.8l-2.3 -1.9M655.1 158.9L646.5 169.9M646.5 169.9l-4.7 -3.7M648.5 167.4l-4.7 -3.7M676.2 158.9L667.6 169.9M667.6 169.9l-4.7 -3.7M669.5 167.4l-4.7 -3.7M671.5 164.9l-2.4 -1.8M697.2 158.9L688.6 169.9M688.6 169.9l-4.7 -3.7M690.6 167.4l-4.7 -3.7M718.3 158.9L710.2 170.4M710.2 170.4l-4.9 -3.4M712.1 167.7l-4.9 -3.4M739.3 158.9L731.1 170.3M731.1 170.3l-4.9 -3.5M733 167.7l-4.9 -3.5M760.3 158.9L752 170.2M752 170.2l-4.8 -3.6M753.9 167.6l-4.8 -3.6M781.4 158.9L773 170.1M773 170.1l-4.8 -3.6M774.9 167.5l-4.8 -3.6M802.4 158.9L793.8 169.9M793.8 169.9l-4.7 -3.7M795.8 167.4l-2.4 -1.8M823.5 158.9L814.1 169.3M814.1 169.3l-4.5 -4M816.2 166.9l-2.2 -2M844.5 158.9L833.6 167.7M833.6 167.7l-3.8 -4.7M836.1 165.7l-1.9 -2.3M213.3 191L204.3 201.7M204.3 201.7l-4.6 -3.9M206.4 199.3l-2.3 -1.9M234.3 191L225.5 201.9M225.5 201.9l-4.7 -3.8M227.5 199.4l-4.7 -3.8M255.4 191L245 200.3M245 200.3l-4 -4.5M247.4 198.2l-4 -4.5M276.4 191L267.6 201.9M267.6 201.9l-4.7 -3.8M269.6 199.4l-4.7 -3.8M271.6 196.9l-2.3 -1.9M297.5 191L288.3 201.5M288.3 201.5l-4.5 -3.9M290.4 199.1l-4.5 -3.9M292.5 196.7l-2.3 -2M318.5 191L309.3 201.5M309.3 201.5l-4.5 -3.9M311.4 199.1l-4.5 -3.9M313.5 196.7l-2.3 -2M339.5 191L330.4 201.5M330.4 201.5l-4.5 -3.9M332.5 199.1l-4.5 -3.9M334.6 196.7l-2.3 -2M360.6 191L351.4 201.5M351.4 201.5l-4.5 -3.9M353.5 199.1l-4.5 -3.9M355.6 196.7l-2.3 -2M381.6 191L372.4 201.5M372.4 201.5l-4.5 -3.9M374.5 199.1l-4.5 -3.9M376.6 196.7l-2.3 -2M402.7 191L393.5 201.5M393.5 201.5l-4.5 -3.9M395.6 199.1l-4.5 -3.9M397.7 196.7l-2.3 -2M423.7 191L414.5 201.5M414.5 201.5l-4.5 -3.9M416.6 199.1l-4.5 -3.9M418.7 196.7l-2.3 -2M444.7 191L435.4 201.4M435.4 201.4l-4.5 -4M437.5 199l-4.5 -4M439.7 196.6l-2.2 -2M465.8 191L457 201.9M457 201.9l-4.7 -3.8M459 199.4l-4.7 -3.8M461 196.9l-2.3 -1.9M486.8 191L477.6 201.5M477.6 201.5l-4.5 -3.9M479.7 199.1l-4.5 -3.9M481.8 196.7l-2.3 -2M507.9 191L498.7 201.5M498.7 201.5l-4.5 -3.9M500.8 199.1l-4.5 -3.9M502.9 196.7l-2.3 -2M528.9 191L519.7 201.5M519.7 201.5l-4.5 -3.9M521.8 199.1l-4.5 -3.9M523.9 196.7l-2.3 -2M549.9 191L540.7 201.5M540.7 201.5l-4.5 -4M542.8 199.1l-4.5 -4M544.9 196.7l-2.3 -2M571 191L561.7 201.5M561.7 201.5l-4.5 -4M563.8 199.1l-4.5 -4M565.9 196.7l-2.2 -2M592 191L582.7 201.4M582.7 201.4l-4.5 -4M584.8 199l-4.5 -4M587 196.7l-2.2 -2M613.1 191L603.7 201.4M603.7 201.4l-4.5 -4M605.9 199l-4.5 -4M608 196.6l-2.2 -2M634.1 191L624.7 201.4M624.7 201.4l-4.5 -4M626.9 199l-4.5 -4M629 196.6l-2.2 -2M655.1 191L646 201.5M646 201.5l-4.5 -3.9M648.1 199.1l-4.5 -3.9M676.2 191L667 201.5M667 201.5l-4.5 -3.9M669.1 199.1l-4.5 -3.9M697.2 191L688.6 202M688.6 202l-4.7 -3.7M690.6 199.5l-4.7 -3.7M718.3 191L709.6 202M709.6 202l-4.7 -3.7M711.6 199.5l-4.7 -3.7M739.3 191L730.7 202.1M730.7 202.1l-4.7 -3.7M732.7 199.5l-4.7 -3.7M760.3 191L751.8 202.1M751.8 202.1l-4.8 -3.6M753.8 199.6l-4.8 -3.6M781.4 191L773 202.2M773 202.2l-4.8 -3.6M774.9 199.6l-4.8 -3.6M802.4 191L793.6 201.9M793.6 201.9l-4.7 -3.8M795.6 199.4l-2.3 -1.9M823.5 191L813.7 201.1M813.7 201.1l-4.3 -4.2M816 198.7l-2.2 -2.1M844.5 191L833.2 199.2M833.2 199.2l-3.5 -4.9M835.8 197.3l-1.8 -2.4M213.3 223.1L203.9 233.5M203.9 233.5l-4.5 -4M206.1 231.1l-2.2 -2M234.3 223.1L225.2 233.7M225.2 233.7l-4.5 -3.9M227.3 231.2l-4.5 -3.9M255.4 223.1L245.3 232.8M245.3 232.8l-4.2 -4.3M247.6 230.6l-4.2 -4.3M276.4 223.1L267.4 233.8M267.4 233.8l-4.6 -3.9M269.5 231.3l-4.6 -3.9M271.5 228.9l-2.3 -1.9M297.5 223.1L287.7 233.1M287.7 233.1l-4.3 -4.2M290 230.8l-4.3 -4.2M292.2 228.5l-2.2 -2.1M318.5 223.1L308.8 233.1M308.8 233.1l-4.3 -4.2M311 230.8l-4.3 -4.2M313.2 228.5l-2.2 -2.1M339.5 223.1L329.8 233.1M329.8 233.1l-4.3 -4.2M332 230.8l-4.3 -4.2M334.3 228.5l-2.2 -2.1M360.6 223.1L350.9 233.1M350.9 233.1l-4.3 -4.2M353.1 230.8l-4.3 -4.2M355.3 228.5l-2.2 -2.1M381.6 223.1L371.9 233.1M371.9 233.1l-4.3 -4.2M374.1 230.8l-4.3 -4.2M376.3 228.5l-2.2 -2.1M402.7 223.1L392.9 233.1M392.9 233.1l-4.3 -4.2M395.2 230.8l-4.3 -4.2M397.4 228.5l-2.2 -2.1M423.7 223.1L414 233.2M414 233.2l-4.3 -4.1M416.3 230.9l-4.3 -4.1M418.5 228.6l-2.2 -2.1M444.7 223.1L434.9 233M434.9 233l-4.3 -4.2M437.1 230.7l-4.3 -4.2M439.4 228.5l-2.1 -2.1M465.8 223.1L456.5 233.6M456.5 233.6l-4.5 -4M458.6 231.2l-4.5 -4M460.8 228.8l-2.3 -2M486.8 223.1L477.5 233.5M477.5 233.5l-4.5 -4M479.6 231.1l-4.5 -4M481.7 228.7l-2.2 -2M507.9 223.1L498.7 233.6M498.7 233.6l-4.5 -3.9M500.8 231.2l-4.5 -3.9M502.9 228.8l-2.3 -2M528.9 223.1L519.7 233.6M519.7 233.6l-4.5 -3.9M521.8 231.2l-4.5 -3.9M523.9 228.8l-2.3 -2M549.9 223.1L540.7 233.6M540.7 233.6l-4.5 -4M542.8 231.2l-4.5 -4M544.9 228.8l-2.3 -2M571 223.1L561.7 233.5M561.7 233.5l-4.5 -4M563.8 231.1l-4.5 -4M565.9 228.8l-2.2 -2M592 223.1L582.7 233.5M582.7 233.5l-4.5 -4M584.8 231.1l-4.5 -4M587 228.7l-2.2 -2M613.1 223.1L603.7 233.5M603.7 233.5l-4.5 -4M605.9 231.1l-4.5 -4M608 228.7l-2.2 -2M634.1 223.1L624.7 233.5M624.7 233.5l-4.5 -4M626.9 231.1l-4.5 -4M629 228.7l-2.2 -2M655.1 223.1L645.8 233.5M645.8 233.5l-4.5 -4M648 231.1l-4.5 -4M676.2 223.1L667.1 233.7M667.1 233.7l-4.6 -3.9M669.2 231.3l-4.6 -3.9M697.2 223.1L688.5 234M688.5 234l-4.7 -3.7M690.5 231.5l-4.7 -3.7M718.3 223.1L709.5 234M709.5 234l-4.7 -3.7M711.5 231.5l-4.7 -3.7M739.3 223.1L730.2 233.7M730.2 233.7l-4.6 -3.9M732.3 231.3l-4.6 -3.9M760.3 223.1L751.3 233.8M751.3 233.8l-4.6 -3.9M753.4 231.3l-4.6 -3.9M781.4 223.1L772.4 233.8M772.4 233.8l-4.6 -3.8M774.5 231.4l-4.6 -3.8M802.4 223.1L793.1 233.5M793.1 233.5l-4.5 -4M795.2 231.1l-2.2 -2M823.5 223.1L813.2 232.5M813.2 232.5l-4.1 -4.4M815.5 230.4l-2 -2.2M844.5 223.1L832.7 230.6M832.7 230.6l-3.2 -5.1M835.4 228.9l-1.6 -2.5M213.3 255.1L203.6 265.2M203.6 265.2l-4.3 -4.2M205.8 262.9l-2.2 -2.1M234.3 255.1L224.9 265.4M224.9 265.4l-4.4 -4.1M227 263.1l-4.4 -4.1M255.4 255.1L245.7 265.2M245.7 265.2l-4.3 -4.2M247.9 262.9l-4.3 -4.2M276.4 255.1L267.2 265.7M267.2 265.7l-4.5 -3.9M269.3 263.3l-4.5 -3.9M271.4 260.9l-2.3 -2M297.5 255.1L287.2 264.7M287.2 264.7l-4.1 -4.4M289.6 262.5l-4.1 -4.4M291.9 260.3l-2 -2.2M318.5 255.1L308.3 264.7M308.3 264.7l-4.1 -4.4M310.6 262.5l-4.1 -4.4M312.9 260.3l-2 -2.2M339.5 255.1L329.3 264.7M329.3 264.7l-4.1 -4.4M331.6 262.5l-4.1 -4.4M334 260.3l-2 -2.2M360.6 255.1L350.3 264.7M350.3 264.7l-4.1 -4.4M352.7 262.5l-4.1 -4.4M355 260.3l-2 -2.2M381.6 255.1L371.4 264.7M371.4 264.7l-4.1 -4.4M373.7 262.5l-4.1 -4.4M376.1 260.3l-2.1 -2.2M402.7 255.1L392.5 264.8M392.5 264.8l-4.1 -4.4M394.8 262.6l-4.1 -4.4M397.1 260.4l-2.1 -2.2M423.7 255.1L413.6 264.8M413.6 264.8l-4.2 -4.3M415.9 262.6l-4.2 -4.3M418.2 260.4l-2.1 -2.2M444.7 255.1L434.4 264.6M434.4 264.6l-4 -4.4M436.8 262.4l-4 -4.4M439.1 260.3l-2 -2.2M465.8 255.1L456.1 265.2M456.1 265.2l-4.3 -4.2M458.3 262.9l-4.3 -4.2M460.5 260.6l-2.2 -2.1M486.8 255.1L477.3 265.4M477.3 265.4l-4.4 -4.1M479.5 263l-4.4 -4.1M481.6 260.7l-2.2 -2M507.9 255.1L498.7 265.7M498.7 265.7l-4.5 -3.9M500.8 263.3l-4.5 -3.9M502.9 260.9l-2.3 -2M528.9 255.1L519.7 265.7M519.7 265.7l-4.5 -3.9M521.8 263.3l-4.5 -3.9M523.9 260.9l-2.3 -2M549.9 255.1L540.7 265.7M540.7 265.7l-4.5 -4M542.8 263.2l-4.5 -4M544.9 260.8l-2.3 -2M571 255.1L561.7 265.6M561.7 265.6l-4.5 -4M563.8 263.2l-4.5 -4M565.9 260.8l-2.2 -2M592 255.1L582.7 265.6M582.7 265.6l-4.5 -4M584.8 263.2l-4.5 -4M587 260.8l-2.2 -2M613.1 255.1L603.7 265.6M603.7 265.6l-4.5 -4M605.9 263.2l-4.5 -4M608 260.8l-2.2 -2M634.1 255.1L624.7 265.5M624.7 265.5l-4.5 -4M626.9 263.2l-4.5 -4M629 260.8l-2.2 -2M655.1 255.1L645.7 265.5M645.7 265.5l-4.4 -4M647.9 263.1l-4.4 -4M676.2 255.1L667.1 265.8M667.1 265.8l-4.6 -3.9M669.2 263.4l-4.6 -3.9M697.2 255.1L688.4 266M688.4 266l-4.6 -3.8M690.4 263.5l-4.6 -3.8M718.3 255.1L709.4 266M709.4 266l-4.6 -3.8M711.4 263.5l-4.6 -3.8M739.3 255.1L729.8 265.5M729.8 265.5l-4.4 -4.1M732 263.1l-4.4 -4.1M760.3 255.1L750.8 265.4M750.8 265.4l-4.4 -4.1M753 263l-4.4 -4.1M781.4 255.1L771.9 265.4M771.9 265.4l-4.4 -4.1M774.1 263.1l-4.4 -4.1M802.4 255.1L792.5 265M792.5 265l-4.2 -4.2M794.8 262.8l-2.1 -2.1M823.5 255.1L812.6 264M812.6 264l-3.8 -4.6M815.1 262l-1.9 -2.3M844.5 255.1L832.2 261.9M832.2 261.9l-2.9 -5.3M835 260.3l-1.4 -2.6M213.3 287.2L203.2 296.9M203.2 296.9l-4.2 -4.3M205.5 294.7l-2.1 -2.2M234.3 287.2L224.5 297.2M224.5 297.2l-4.3 -4.2M226.8 294.9l-2.1 -2.1M255.4 287.2L246 297.6M246 297.6l-4.5 -4M248.2 295.2l-4.5 -4M250.3 292.9l-2.2 -2M276.4 287.2L267.1 297.6M267.1 297.6l-4.5 -4M269.2 295.2l-4.5 -4M271.3 292.9l-2.2 -2M297.5 287.2L286.7 296.2M286.7 296.2l-3.9 -4.6M289.2 294.2l-3.9 -4.6M318.5 287.2L307.8 296.2M307.8 296.2l-3.9 -4.6M310.2 294.2l-3.9 -4.6M339.5 287.2L328.8 296.2M328.8 296.2l-3.9 -4.6M331.3 294.2l-3.9 -4.6M360.6 287.2L349.9 296.3M349.9 296.3l-3.9 -4.6M352.3 294.2l-3.9 -4.6M381.6 287.2L371 296.3M371 296.3l-3.9 -4.6M373.4 294.2l-3.9 -4.6M402.7 287.2L392.1 296.4M392.1 296.4l-3.9 -4.5M394.5 294.3l-3.9 -4.5M423.7 287.2L413.2 296.4M413.2 296.4l-4 -4.5M415.6 294.3l-4 -4.5M444.7 287.2L434 296.1M434 296.1l-3.8 -4.6M436.4 294.1l-3.8 -4.6M465.8 287.2L455.7 296.9M455.7 296.9l-4.2 -4.3M458 294.7l-4.2 -4.3M486.8 287.2L477.1 297.3M477.1 297.3l-4.3 -4.2M479.3 295l-4.3 -4.2M507.9 287.2L498.7 297.8M498.7 297.8l-4.5 -3.9M500.8 295.4l-4.5 -3.9M528.9 287.2L519.7 297.8M519.7 297.8l-4.5 -3.9M521.8 295.4l-4.5 -3.9M549.9 287.2L540.7 297.7M540.7 297.7l-4.5 -4M542.8 295.3l-4.5 -4M571 287.2L561.7 297.7M561.7 297.7l-4.5 -4M563.8 295.3l-4.5 -4M592 287.2L582.7 297.7M582.7 297.7l-4.5 -4M584.8 295.3l-4.5 -4M613.1 287.2L603.7 297.7M603.7 297.7l-4.5 -4M605.9 295.3l-4.5 -4M634.1 287.2L624.7 297.6M624.7 297.6l-4.5 -4M626.9 295.2l-4.5 -4M655.1 287.2L645.6 297.5M645.6 297.5l-4.4 -4.1M647.8 295.1l-4.4 -4.1M676.2 287.2L667.2 298M667.2 298l-4.6 -3.8M669.3 295.5l-4.6 -3.8M697.2 287.2L688.3 298M688.3 298l-4.6 -3.8M690.3 295.5l-4.6 -3.8M718.3 287.2L709.3 298M709.3 298l-4.6 -3.8M711.3 295.5l-2.3 -1.9M739.3 287.2L729.7 297.4M729.7 297.4l-4.4 -4.1M731.9 295.1l-2.2 -2.1M760.3 287.2L750.3 297M750.3 297l-4.2 -4.3M752.6 294.8l-2.1 -2.1M781.4 287.2L771.4 297M771.4 297l-4.2 -4.3M773.7 294.8l-2.1 -2.1M802.4 287.2L792 296.6M792 296.6l-4 -4.5M794.4 294.4l-2 -2.2M823.5 287.2L812.1 295.4M812.1 295.4l-3.5 -4.9M814.7 293.5l-1.8 -2.4M844.5 287.2L831.8 293.2M831.8 293.2l-2.6 -5.4M213.3 319.3L202.9 328.7M202.9 328.7l-4 -4.5M205.3 326.5l-2 -2.2M234.3 319.3L224.2 329M224.2 329l-4.2 -4.3M226.5 326.8l-2.1 -2.2M255.4 319.3L246.4 330M246.4 330l-4.6 -3.9M248.4 327.6l-4.6 -3.9M250.5 325.1l-2.3 -1.9M276.4 319.3L266.9 329.5M266.9 329.5l-4.4 -4.1M269.1 327.2l-4.4 -4.1M271.2 324.9l-2.2 -2M297.5 319.3L286.3 327.7M286.3 327.7l-3.6 -4.8M288.8 325.8l-3.6 -4.8M318.5 319.3L307.3 327.7M307.3 327.7l-3.6 -4.8M309.9 325.8l-3.6 -4.8M339.5 319.3L328.4 327.8M328.4 327.8l-3.6 -4.8M330.9 325.8l-3.6 -4.8M360.6 319.3L349.5 327.8M349.5 327.8l-3.7 -4.8M352 325.9l-3.7 -4.8M381.6 319.3L370.6 327.9M370.6 327.9l-3.7 -4.7M373.1 325.9l-3.7 -4.7M402.7 319.3L391.7 328M391.7 328l-3.7 -4.7M394.2 326l-3.7 -4.7M423.7 319.3L412.8 328M412.8 328l-3.7 -4.7M415.3 326l-3.7 -4.7M444.7 319.3L433.5 327.7M433.5 327.7l-3.6 -4.8M436.1 325.8l-3.6 -4.8M465.8 319.3L455.3 328.6M455.3 328.6l-4 -4.5M457.7 326.4l-4 -4.5M486.8 319.3L476.9 329.2M476.9 329.2l-4.2 -4.2M479.2 326.9l-4.2 -4.2M507.9 319.3L498.7 329.9M498.7 329.9l-4.5 -3.9M500.8 327.5l-4.5 -3.9M528.9 319.3L519.7 329.8M519.7 329.8l-4.5 -3.9M521.8 327.4l-4.5 -3.9M549.9 319.3L540.7 329.8M540.7 329.8l-4.5 -4M542.8 327.4l-4.5 -4M571 319.3L561.7 329.8M561.7 329.8l-4.5 -4M563.8 327.4l-4.5 -4M592 319.3L582.7 329.8M582.7 329.8l-4.5 -4M584.8 327.4l-4.5 -4M613.1 319.3L603.7 329.7M603.7 329.7l-4.5 -4M605.9 327.3l-4.5 -4M634.1 319.3L624.7 329.7M624.7 329.7l-4.5 -4M626.9 327.3l-4.5 -4M655.1 319.3L645.5 329.5M645.5 329.5l-4.4 -4.1M647.7 327.1l-4.4 -4.1M676.2 319.3L667.3 330.1M667.3 330.1l-4.6 -3.8M669.3 327.6l-4.6 -3.8M697.2 319.3L688.1 330M688.1 330l-4.6 -3.9M690.2 327.5l-4.6 -3.9M718.3 319.3L709.2 330M709.2 330l-4.6 -3.9M711.3 327.5l-2.3 -1.9M739.3 319.3L729.6 329.4M729.6 329.4l-4.3 -4.1M731.8 327.1l-2.2 -2.1M760.3 319.3L750.1 328.8M750.1 328.8l-4.1 -4.4M752.4 326.7l-2 -2.2M781.4 319.3L770.9 328.6M770.9 328.6l-4 -4.5M773.3 326.5l-2 -2.2M802.4 319.3L791.5 328.1M791.5 328.1l-3.8 -4.7M794 326.1l-1.9 -2.3M823.5 319.3L811.6 326.8M811.6 326.8l-3.2 -5.1M814.3 325.1l-1.6 -2.5M844.5 319.3L831.5 324.4M831.5 324.4l-2.2 -5.6M213.3 351.4L202.6 360.4M202.6 360.4l-3.9 -4.6M205 358.3l-1.9 -2.3M234.3 351.4L223.9 360.7M223.9 360.7l-4 -4.5M226.3 358.6l-2 -2.2M255.4 351.4L246.8 362.4M246.8 362.4l-4.7 -3.7M248.7 359.9l-4.7 -3.7M250.7 357.4l-2.4 -1.8M276.4 351.4L266.7 361.5M266.7 361.5l-4.3 -4.2M268.9 359.1l-4.3 -4.2M271.1 356.8l-2.2 -2.1M297.5 351.4L285.9 359.2M285.9 359.2l-3.4 -5M288.5 357.4l-3.4 -5M318.5 351.4L306.9 359.3M306.9 359.3l-3.4 -5M309.6 357.5l-3.4 -5M339.5 351.4L328 359.3M328 359.3l-3.4 -4.9M330.7 357.5l-3.4 -4.9M360.6 351.4L349.1 359.4M349.1 359.4l-3.4 -4.9M351.7 357.6l-3.4 -4.9M381.6 351.4L370.2 359.5M370.2 359.5l-3.5 -4.9M372.8 357.6l-3.5 -4.9M402.7 351.4L391.3 359.5M391.3 359.5l-3.5 -4.9M393.9 357.7l-3.5 -4.9M423.7 351.4L412.4 359.6M412.4 359.6l-3.5 -4.9M415 357.7l-3.5 -4.9M444.7 351.4L433.1 359.2M433.1 359.2l-3.4 -5M435.8 357.4l-3.4 -5M465.8 351.4L454.9 360.2M454.9 360.2l-3.8 -4.7M457.4 358.2l-3.8 -4.7M486.8 351.4L476.7 361.1M476.7 361.1l-4.2 -4.3M479.1 358.9l-4.2 -4.3M507.9 351.4L498.7 361.9M498.7 361.9l-4.5 -3.9M500.8 359.5l-4.5 -3.9M528.9 351.4L519.7 361.9M519.7 361.9l-4.5 -3.9M521.8 359.5l-4.5 -3.9M549.9 351.4L540.7 361.9M540.7 361.9l-4.5 -4M542.8 359.5l-4.5 -4M571 351.4L561.7 361.9M561.7 361.9l-4.5 -4M563.8 359.5l-4.5 -4M592 351.4L582.7 361.8M582.7 361.8l-4.5 -4M584.8 359.4l-4.5 -4M613.1 351.4L603.7 361.8M603.7 361.8l-4.5 -4M605.9 359.4l-4.5 -4M634.1 351.4L624.7 361.8M624.7 361.8l-4.5 -4M626.9 359.4l-4.5 -4M655.1 351.4L645.4 361.5M645.4 361.5l-4.3 -4.2M647.6 359.1l-4.3 -4.2M676.2 351.4L667.4 362.3M667.4 362.3l-4.7 -3.8M669.4 359.8l-4.7 -3.8M697.2 351.4L688 361.9M688 361.9l-4.5 -3.9M690.1 359.5l-4.5 -3.9M718.3 351.4L709.1 361.9M709.1 361.9l-4.5 -3.9M711.2 359.5l-2.3 -2M739.3 351.4L729.5 361.4M729.5 361.4l-4.3 -4.2M731.8 359.1l-2.1 -2.1M760.3 351.4L750 360.8M750 360.8l-4 -4.4M752.4 358.7l-2 -2.2M781.4 351.4L770.5 360.2M770.5 360.2l-3.8 -4.7M773 358.2l-1.9 -2.3M802.4 351.4L791.1 359.6M791.1 359.6l-3.5 -4.9M793.7 357.7l-1.8 -2.4M823.5 351.4L811.2 358.2M811.2 358.2l-2.9 -5.2M814 356.6l-1.5 -2.6M844.5 351.4L831.2 355.7M831.2 355.7l-1.9 -5.7M213.3 383.5L202.6 392.5M202.6 392.5l-3.9 -4.6M205 390.4l-1.9 -2.3M234.3 383.5L223.9 392.8M223.9 392.8l-4 -4.5M226.3 390.7l-2 -2.2M255.4 383.5L246.6 394.3M246.6 394.3l-4.7 -3.8M248.6 391.9l-4.7 -3.8M250.6 389.4l-2.3 -1.9M276.4 383.5L265.2 391.9M265.2 391.9l-3.6 -4.8M267.8 390l-3.6 -4.8M270.4 388l-1.8 -2.4M297.5 383.5L285.7 391.1M285.7 391.1l-3.3 -5M288.4 389.3l-3.3 -5M318.5 383.5L306.8 391.1M306.8 391.1l-3.3 -5M309.5 389.4l-3.3 -5M339.5 383.5L327.8 391.2M327.8 391.2l-3.3 -5M330.5 389.4l-3.3 -5M360.6 383.5L348.9 391.2M348.9 391.2l-3.3 -5M351.6 389.4l-3.3 -5M381.6 383.5L370 391.2M370 391.2l-3.3 -5M372.6 389.4l-3.3 -5M402.7 383.5L391 391.3M391 391.3l-3.3 -5M393.7 389.5l-3.3 -5M423.7 383.5L412.1 391.3M412.1 391.3l-3.4 -5M414.7 389.5l-3.4 -5M444.7 383.5L432.9 390.9M432.9 390.9l-3.2 -5.1M435.6 389.2l-3.2 -5.1M465.8 383.5L454.9 392.3M454.9 392.3l-3.8 -4.7M457.4 390.3l-3.8 -4.7M486.8 383.5L476.4 392.8M476.4 392.8l-4 -4.5M478.8 390.7l-4 -4.5M507.9 383.5L498.5 393.9M498.5 393.9l-4.5 -4M500.6 391.5l-4.5 -4M528.9 383.5L519.5 393.9M519.5 393.9l-4.5 -4M521.7 391.5l-4.5 -4M549.9 383.5L540.6 393.9M540.6 393.9l-4.5 -4M542.7 391.5l-4.5 -4M571 383.5L561.6 393.9M561.6 393.9l-4.5 -4M563.8 391.5l-4.5 -4M592 383.5L582.7 393.9M582.7 393.9l-4.5 -4M584.8 391.5l-4.5 -4M613.1 383.5L603.7 393.9M603.7 393.9l-4.5 -4M605.8 391.5l-4.5 -4M634.1 383.5L624.7 393.9M624.7 393.9l-4.5 -4M626.9 391.5l-4.5 -4M655.1 383.5L645.8 393.9M645.8 393.9l-4.5 -4M647.9 391.5l-4.5 -4M676.2 383.5L667 394M667 394l-4.5 -3.9M669.1 391.6l-4.5 -3.9M697.2 383.5L687.9 393.9M687.9 393.9l-4.5 -4M690 391.5l-4.5 -4M718.3 383.5L709.3 394.2M709.3 394.2l-4.6 -3.9M711.3 391.7l-2.3 -1.9M739.3 383.5L729.6 393.6M729.6 393.6l-4.3 -4.1M731.8 391.3l-2.2 -2.1M760.3 383.5L750 392.9M750 392.9l-4.1 -4.4M752.4 390.8l-2 -2.2M781.4 383.5L770.5 392.3M770.5 392.3l-3.8 -4.7M773 390.3l-1.9 -2.3M802.4 383.5L790.8 391.3M790.8 391.3l-3.4 -5M793.5 389.5l-1.7 -2.5M823.5 383.5L811.2 390.2M811.2 390.2l-2.9 -5.2M814 388.7l-1.5 -2.6M844.5 383.5L831.2 387.8M831.2 387.8l-1.9 -5.7M213.3 415.5L202.5 424.5M202.5 424.5l-3.8 -4.6M205 422.4l-1.9 -2.3M234.3 415.5L223.8 424.8M223.8 424.8l-4 -4.5M226.2 422.7l-2 -2.3M255.4 415.5L246.1 426M246.1 426l-4.5 -4M248.2 423.6l-4.5 -4M250.3 421.2l-2.2 -2M276.4 415.5L265.4 424.2M265.4 424.2l-3.7 -4.7M267.9 422.2l-3.7 -4.7M270.4 420.2l-1.9 -2.4M297.5 415.5L286 423.6M286 423.6l-3.4 -4.9M288.6 421.7l-3.4 -4.9M318.5 415.5L306.8 423.2M306.8 423.2l-3.3 -5M309.5 421.4l-3.3 -5M339.5 415.5L327.8 423.2M327.8 423.2l-3.3 -5M330.5 421.4l-3.3 -5M360.6 415.5L348.9 423.2M348.9 423.2l-3.3 -5M351.5 421.4l-3.3 -5M381.6 415.5L369.9 423.2M369.9 423.2l-3.3 -5M372.6 421.5l-3.3 -5M402.7 415.5L391 423.3M391 423.3l-3.3 -5M393.6 421.5l-3.3 -5M423.7 415.5L412 423.3M412 423.3l-3.3 -5M414.7 421.5l-3.3 -5M444.7 415.5L433.1 423.3M433.1 423.3l-3.3 -5M435.7 421.5l-3.3 -5M465.8 415.5L454.9 424.4M454.9 424.4l-3.8 -4.6M457.4 422.4l-3.8 -4.6M486.8 415.5L476.4 424.9M476.4 424.9l-4 -4.4M478.8 422.8l-4 -4.4M507.9 415.5L498.4 425.9M498.4 425.9l-4.4 -4M500.6 423.5l-4.4 -4M528.9 415.5L519.5 425.9M519.5 425.9l-4.4 -4M521.6 423.5l-4.4 -4M549.9 415.5L540.5 425.9M540.5 425.9l-4.4 -4M542.7 423.5l-4.4 -4M571 415.5L561.5 425.9M561.5 425.9l-4.4 -4M563.7 423.5l-4.4 -4M592 415.5L582.6 425.9M582.6 425.9l-4.4 -4M584.7 423.5l-4.4 -4M613.1 415.5L603.6 425.9M603.6 425.9l-4.4 -4.1M605.8 423.5l-4.4 -4.1M634.1 415.5L624.5 425.7M624.5 425.7l-4.4 -4.1M626.7 423.4l-4.4 -4.1M655.1 415.5L645.6 425.8M645.6 425.8l-4.4 -4.1M647.8 423.4l-4.4 -4.1M676.2 415.5L666.1 425.3M666.1 425.3l-4.2 -4.3M668.4 423l-4.2 -4.3M697.2 415.5L687 425.1M687 425.1l-4.1 -4.4M689.3 422.9l-4.1 -4.4M718.3 415.5L707.5 424.5M707.5 424.5l-3.9 -4.6M710 422.5l-1.9 -2.3M739.3 415.5L729.6 425.6M729.6 425.6l-4.3 -4.2M731.8 423.3l-2.2 -2.1M760.3 415.5L749.2 424M749.2 424l-3.6 -4.8M751.7 422l-1.8 -2.4M781.4 415.5L769.4 422.8M769.4 422.8l-3.1 -5.1M772.1 421.1l-1.5 -2.6M802.4 415.5L790.1 422.1M790.1 422.1l-2.8 -5.3M792.9 420.6l-1.4 -2.6M823.5 415.5L810.6 421M810.6 421l-2.3 -5.5M813.5 419.8l-1.2 -2.8M844.5 415.5L831.1 419.6M831.1 419.6l-1.8 -5.7M834.2 418.7l-0.9 -2.9M213.3 447.6L202.5 456.5M202.5 456.5l-3.8 -4.6M204.9 454.4l-1.9 -2.3M234.3 447.6L223.7 456.8M223.7 456.8l-3.9 -4.5M226.2 454.7l-2 -2.3M255.4 447.6L245.6 457.6M245.6 457.6l-4.3 -4.2M247.8 455.3l-4.3 -4.2M250 453l-2.1 -2.1M276.4 447.6L265.6 456.5M265.6 456.5l-3.8 -4.6M268.1 454.5l-3.8 -4.6M297.5 447.6L286.3 456M286.3 456l-3.6 -4.8M288.8 454.1l-3.6 -4.8M318.5 447.6L307.1 455.7M307.1 455.7l-3.5 -4.9M309.7 453.8l-3.5 -4.9M339.5 447.6L327.8 455.3M327.8 455.3l-3.3 -5M330.5 453.6l-3.3 -5M360.6 447.6L348.8 455.2M348.8 455.2l-3.2 -5M351.5 453.5l-3.2 -5M381.6 447.6L369.9 455.2M369.9 455.2l-3.3 -5M372.5 453.5l-3.3 -5M402.7 447.6L390.9 455.3M390.9 455.3l-3.3 -5M393.6 453.5l-3.3 -5M423.7 447.6L412 455.3M412 455.3l-3.3 -5M414.7 453.5l-3.3 -5M444.7 447.6L433.3 455.7M433.3 455.7l-3.5 -4.9M435.9 453.8l-3.5 -4.9M465.8 447.6L455 456.5M455 456.5l-3.8 -4.6M457.4 454.5l-3.8 -4.6M486.8 447.6L476.5 457.1M476.5 457.1l-4 -4.4M478.8 454.9l-4 -4.4M507.9 447.6L498.3 457.9M498.3 457.9l-4.4 -4.1M500.5 455.5l-4.4 -4.1M528.9 447.6L519.4 457.9M519.4 457.9l-4.4 -4.1M521.6 455.5l-4.4 -4.1M549.9 447.6L540.4 457.9M540.4 457.9l-4.4 -4.1M542.6 455.5l-4.4 -4.1M571 447.6L561.5 457.9M561.5 457.9l-4.4 -4.1M563.6 455.5l-4.4 -4.1M592 447.6L582.5 457.8M582.5 457.8l-4.4 -4.1M584.6 455.5l-4.4 -4.1M613.1 447.6L603.4 457.7M603.4 457.7l-4.3 -4.1M605.6 455.4l-4.3 -4.1M634.1 447.6L624.3 457.6M624.3 457.6l-4.3 -4.2M626.5 455.3l-4.3 -4.2M655.1 447.6L645.4 457.7M645.4 457.7l-4.3 -4.2M647.6 455.4l-4.3 -4.2M676.2 447.6L665.9 457.2M665.9 457.2l-4.1 -4.4M668.3 455l-4.1 -4.4M697.2 447.6L686.5 456.6M686.5 456.6l-3.9 -4.6M688.9 454.6l-3.9 -4.6M718.3 447.6L707.1 456M707.1 456l-3.6 -4.8M709.6 454.1l-1.8 -2.4M739.3 447.6L728 455.8M728 455.8l-3.5 -4.9M730.6 454l-1.8 -2.4M760.3 447.6L749 455.8M749 455.8l-3.5 -4.9M751.6 454l-1.8 -2.4M781.4 447.6L769.5 455M769.5 455l-3.2 -5.1M772.2 453.3l-1.6 -2.5M802.4 447.6L790.2 454.4M790.2 454.4l-2.9 -5.2M793 452.9l-1.5 -2.6M823.5 447.6L810.2 452.2M810.2 452.2l-2 -5.7M813.2 451.1l-1 -2.8M844.5 447.6L830.8 450.5M830.8 450.5l-1.2 -5.9M833.9 449.9l-0.6 -2.9M213.3 479.7L202.4 488.5M202.4 488.5l-3.8 -4.7M204.9 486.5l-1.9 -2.3M234.3 479.7L223.6 488.7M223.6 488.7l-3.9 -4.6M226.1 486.7l-1.9 -2.3M255.4 479.7L245.1 489.2M245.1 489.2l-4.1 -4.4M247.4 487l-4.1 -4.4M249.8 484.8l-2 -2.2M276.4 479.7L265.8 488.8M265.8 488.8l-3.9 -4.6M268.2 486.7l-3.9 -4.6M297.5 479.7L286.6 488.5M286.6 488.5l-3.8 -4.7M289.1 486.5l-1.9 -2.3M318.5 479.7L307.3 488.2M307.3 488.2l-3.6 -4.8M309.9 486.2l-1.8 -2.4M339.5 479.7L328.1 487.8M328.1 487.8l-3.5 -4.9M330.7 485.9l-1.7 -2.4M360.6 479.7L348.9 487.4M348.9 487.4l-3.3 -5M351.6 485.7l-1.7 -2.5M381.6 479.7L369.8 487.2M369.8 487.2l-3.2 -5.1M372.5 485.5l-1.6 -2.5M402.7 479.7L390.9 487.2M390.9 487.2l-3.2 -5.1M393.6 485.5l-1.6 -2.5M423.7 479.7L411.9 487.3M411.9 487.3l-3.3 -5M414.6 485.6l-1.6 -2.5M444.7 479.7L433.5 488.1M433.5 488.1l-3.6 -4.8M436.1 486.2l-1.8 -2.4M465.8 479.7L455 488.6M455 488.6l-3.8 -4.6M457.5 486.6l-1.9 -2.3M486.8 479.7L476.5 489.2M476.5 489.2l-4.1 -4.4M478.9 487l-4.1 -4.4M507.9 479.7L498.3 489.9M498.3 489.9l-4.4 -4.1M500.5 487.6l-4.4 -4.1M528.9 479.7L519.3 489.9M519.3 489.9l-4.4 -4.1M521.5 487.6l-4.4 -4.1M549.9 479.7L540.4 489.9M540.4 489.9l-4.4 -4.1M542.5 487.6l-4.4 -4.1M571 479.7L561.3 489.8M561.3 489.8l-4.3 -4.1M563.5 487.5l-4.3 -4.1M592 479.7L582.2 489.7M582.2 489.7l-4.3 -4.2M584.5 487.4l-2.1 -2.1M613.1 479.7L603.2 489.6M603.2 489.6l-4.2 -4.2M605.4 487.3l-2.1 -2.1M634.1 479.7L624.1 489.5M624.1 489.5l-4.2 -4.3M626.4 487.3l-2.1 -2.1M655.1 479.7L645.2 489.6M645.2 489.6l-4.2 -4.2M647.5 487.3l-4.2 -4.2M676.2 479.7L665.8 489.1M665.8 489.1l-4 -4.5M668.2 486.9l-2 -2.2M697.2 479.7L686.3 488.5M686.3 488.5l-3.8 -4.7M688.8 486.5l-1.9 -2.3M718.3 479.7L706.9 487.9M706.9 487.9l-3.5 -4.9M709.5 486l-1.8 -2.4M739.3 479.7L727.6 487.3M727.6 487.3l-3.3 -5M730.2 485.6l-1.6 -2.5M760.3 479.7L748.6 487.3M748.6 487.3l-3.3 -5M751.3 485.6l-1.6 -2.5M781.4 479.7L769.5 487.1M769.5 487.1l-3.2 -5.1M772.2 485.4l-1.6 -2.5M802.4 479.7L790.2 486.5M790.2 486.5l-2.9 -5.2M793 484.9l-1.5 -2.6M823.5 479.7L810.4 484.7M810.4 484.7l-2.2 -5.6M813.4 483.6l-1.1 -2.8M844.5 479.7L830.8 482.4M830.8 482.4l-1.1 -5.9M833.9 481.8l-0.6 -2.9M213.3 511.8L202.3 520.5M202.3 520.5l-3.7 -4.7M204.8 518.5l-1.9 -2.4M234.3 511.8L223.6 520.7M223.6 520.7l-3.8 -4.6M226 518.7l-1.9 -2.3M255.4 511.8L244.6 520.7M244.6 520.7l-3.8 -4.6M247.1 518.7l-3.8 -4.6M249.5 516.6l-1.9 -2.3M276.4 511.8L266 521.1M266 521.1l-4 -4.5M268.4 519l-2 -2.2M297.5 511.8L286.9 521M286.9 521l-3.9 -4.5M289.3 518.9l-2 -2.3M318.5 511.8L307.6 520.6M307.6 520.6l-3.8 -4.7M310.1 518.6l-1.9 -2.3M339.5 511.8L328.4 520.3M328.4 520.3l-3.6 -4.8M331 518.3l-1.8 -2.4M360.6 511.8L349.2 519.9M349.2 519.9l-3.5 -4.9M351.8 518.1l-1.7 -2.4M381.6 511.8L370 519.5M370 519.5l-3.3 -5M372.6 517.8l-1.7 -2.5M402.7 511.8L390.8 519.2M390.8 519.2l-3.2 -5.1M393.5 517.5l-1.6 -2.5M423.7 511.8L411.9 519.3M411.9 519.3l-3.2 -5.1M414.6 517.6l-1.6 -2.5M444.7 511.8L433.8 520.5M433.8 520.5l-3.7 -4.7M436.3 518.5l-1.9 -2.4M465.8 511.8L455 520.7M455 520.7l-3.8 -4.6M457.5 518.7l-1.9 -2.3M486.8 511.8L476.5 521.3M476.5 521.3l-4.1 -4.4M478.9 519.1l-4.1 -4.4M507.9 511.8L498.2 521.9M498.2 521.9l-4.3 -4.1M500.4 519.6l-4.3 -4.1M528.9 511.8L519.2 521.9M519.2 521.9l-4.3 -4.1M521.5 519.6l-4.3 -4.1M549.9 511.8L540.2 521.8M540.2 521.8l-4.3 -4.2M542.4 519.5l-4.3 -4.2M571 511.8L561.1 521.7M561.1 521.7l-4.3 -4.2M563.4 519.4l-4.3 -4.2M592 511.8L582 521.6M582 521.6l-4.2 -4.3M584.3 519.4l-2.1 -2.1M613.1 511.8L603 521.5M603 521.5l-4.2 -4.3M605.3 519.3l-2.1 -2.2M634.1 511.8L623.9 521.4M623.9 521.4l-4.1 -4.4M626.2 519.2l-2.1 -2.2M655.1 511.8L645.1 521.5M645.1 521.5l-4.2 -4.3M647.4 519.3l-4.2 -4.3M676.2 511.8L665.6 521M665.6 521l-3.9 -4.5M668 518.9l-2 -2.3M697.2 511.8L686.7 521M686.7 521l-3.9 -4.5M689.1 518.9l-2 -2.3M718.3 511.8L706.7 519.6M706.7 519.6l-3.4 -5M709.3 517.8l-1.7 -2.5M739.3 511.8L727.6 519.4M727.6 519.4l-3.3 -5M730.2 517.7l-1.6 -2.5M760.3 511.8L748.6 519.4M748.6 519.4l-3.3 -5M751.3 517.7l-1.6 -2.5M781.4 511.8L769.5 519.2M769.5 519.2l-3.2 -5.1M772.2 517.5l-1.6 -2.5M802.4 511.8L790.2 518.6M790.2 518.6l-2.9 -5.2M793 517l-1.5 -2.6M823.5 511.8L810.1 516.1M810.1 516.1l-1.9 -5.7M813.2 515.1l-0.9 -2.9M844.5 511.8L830.5 512.8M830.5 512.8l-0.4 -6M833.7 512.5l-0.2 -3M213.3 543.9L202.3 552.5M202.3 552.5l-3.7 -4.7M204.8 550.5l-1.8 -2.4M234.3 543.9L223.5 552.7M223.5 552.7l-3.8 -4.7M225.9 550.7l-1.9 -2.3M255.4 543.9L244.2 552.3M244.2 552.3l-3.6 -4.8M246.8 550.4l-3.6 -4.8M249.3 548.4l-1.8 -2.4M276.4 543.9L266.2 553.4M266.2 553.4l-4.1 -4.4M268.5 551.2l-2 -2.2M297.5 543.9L287.2 553.4M287.2 553.4l-4.1 -4.4M289.6 551.2l-2 -2.2M318.5 543.9L308 553.1M308 553.1l-4 -4.5M310.4 551l-2 -2.3M339.5 543.9L328.7 552.7M328.7 552.7l-3.8 -4.6M331.2 550.7l-1.9 -2.3M360.6 543.9L349.5 552.4M349.5 552.4l-3.7 -4.8M352 550.4l-1.8 -2.4M381.6 543.9L370.2 552M370.2 552l-3.5 -4.9M372.8 550.2l-1.7 -2.4M402.7 543.9L391 551.7M391 551.7l-3.3 -5M393.7 549.9l-1.7 -2.5M423.7 543.9L411.8 551.3M411.8 551.3l-3.2 -5.1M414.5 549.6l-1.6 -2.5M444.7 543.9L434 552.9M434 552.9l-3.9 -4.6M436.5 550.8l-1.9 -2.3M465.8 543.9L455.1 552.9M455.1 552.9l-3.9 -4.6M457.5 550.8l-1.9 -2.3M486.8 543.9L476.6 553.4M476.6 553.4l-4.1 -4.4M478.9 551.2l-4.1 -4.4M507.9 543.9L498.1 553.9M498.1 553.9l-4.3 -4.2M500.4 551.6l-4.3 -4.2M528.9 543.9L519.1 553.8M519.1 553.8l-4.3 -4.2M521.3 551.5l-4.3 -4.2M549.9 543.9L540 553.7M540 553.7l-4.2 -4.3M542.3 551.5l-4.2 -4.3M571 543.9L560.9 553.6M560.9 553.6l-4.2 -4.3M563.2 551.4l-4.2 -4.3M592 543.9L581.8 553.5M581.8 553.5l-4.1 -4.4M584.2 551.3l-2.1 -2.2M613.1 543.9L602.8 553.3M602.8 553.3l-4.1 -4.4M605.1 551.2l-2 -2.2M634.1 543.9L623.7 553.2M623.7 553.2l-4 -4.5M626.1 551.1l-2 -2.2M655.1 543.9L644.9 553.4M644.9 553.4l-4.1 -4.4M647.2 551.2l-4.1 -4.4M676.2 543.9L666.5 553.9M666.5 553.9l-4.3 -4.2M668.7 551.6l-2.2 -2.1M697.2 543.9L687.5 553.9M687.5 553.9l-4.3 -4.2M689.7 551.6l-2.2 -2.1M718.3 543.9L708 553.4M708 553.4l-4.1 -4.4M710.4 551.2l-2 -2.2M739.3 543.9L727.3 551.1M727.3 551.1l-3.1 -5.1M730 549.4l-1.5 -2.6M760.3 543.9L748.6 551.5M748.6 551.5l-3.3 -5M751.3 549.7l-1.6 -2.5M781.4 543.9L769.8 551.7M769.8 551.7l-3.4 -5M802.4 543.9L789.3 548.6M789.3 548.6l-2.1 -5.6M823.5 543.9L809.5 544.8M809.5 544.8l-0.4 -6M844.5 543.9L830.5 543.1M830.5 543.1l0.3 -6M833.7 543.3l0.2 -3M213.3 575.9L201.8 584M201.8 584l-3.4 -4.9M204.5 582.1l-1.7 -2.5M234.3 575.9L222.6 583.6M222.6 583.6l-3.3 -5M225.3 581.8l-1.6 -2.5M255.4 575.9L246.6 586.8M246.6 586.8l-4.7 -3.8M248.6 584.3l-4.7 -3.8M250.6 581.8l-2.3 -1.9M276.4 575.9L266.7 586M266.7 586l-4.3 -4.2M268.9 583.7l-2.2 -2.1M297.5 575.9L287.4 585.7M287.4 585.7l-4.2 -4.3M289.7 583.4l-2.1 -2.2M318.5 575.9L308.3 585.6M308.3 585.6l-4.1 -4.4M310.7 583.4l-2.1 -2.2M339.5 575.9L329.3 585.5M329.3 585.5l-4.1 -4.4M331.6 583.3l-2 -2.2M360.6 575.9L350.3 585.4M350.3 585.4l-4.1 -4.4M352.6 583.2l-2 -2.2M381.6 575.9L371.2 585.3M371.2 585.3l-4 -4.5M373.6 583.2l-2 -2.2M402.7 575.9L392.2 585.2M392.2 585.2l-4 -4.5M394.6 583.1l-2 -2.2M423.7 575.9L413.1 585.1M413.1 585.1l-3.9 -4.5M415.5 583l-2 -2.3M444.7 575.9L434.2 585.1M434.2 585.1l-3.9 -4.5M436.6 583l-2 -2.3M465.8 575.9L454.9 584.8M454.9 584.8l-3.8 -4.7M457.4 582.7l-1.9 -2.3M486.8 575.9L475.9 584.8M475.9 584.8l-3.8 -4.7M478.4 582.7l-3.8 -4.7M507.9 575.9L497 584.8M497 584.8l-3.8 -4.7M499.5 582.7l-3.8 -4.7M528.9 575.9L518 584.8M518 584.8l-3.8 -4.7M520.5 582.8l-3.8 -4.7M549.9 575.9L539.1 584.8M539.1 584.8l-3.8 -4.6M541.6 582.8l-3.8 -4.6M571 575.9L560.2 584.8M560.2 584.8l-3.8 -4.6M562.6 582.8l-3.8 -4.6M592 575.9L581.2 584.9M581.2 584.9l-3.8 -4.6M583.7 582.8l-1.9 -2.3M613.1 575.9L602.3 584.9M602.3 584.9l-3.8 -4.6M604.8 582.9l-1.9 -2.3M634.1 575.9L623.4 584.9M623.4 584.9l-3.9 -4.6M625.8 582.9l-1.9 -2.3M655.1 575.9L644.3 584.8M644.3 584.8l-3.8 -4.7M646.7 582.7l-1.9 -2.3M676.2 575.9L665.6 585.1M665.6 585.1l-3.9 -4.5M668 583l-2 -2.3M697.2 575.9L686.7 585.1M686.7 585.1l-3.9 -4.5M689.1 583l-2 -2.3M718.3 575.9L707.4 584.8M707.4 584.8l-3.8 -4.7M709.9 582.7l-1.9 -2.3M739.3 575.9L727.1 582.7M727.1 582.7l-2.9 -5.2M729.9 581.2l-1.5 -2.6M760.3 575.9L748.2 582.9M748.2 582.9l-3 -5.2M781.4 575.9L769.6 583.6M769.6 583.6l-3.3 -5M802.4 575.9L789.1 580.3M789.1 580.3l-1.9 -5.7M792.1 579.3l-0.9 -2.9M823.5 575.9L809.5 577.4M809.5 577.4l-0.6 -6M812.7 577.1l-0.3 -3M844.5 575.9L830.7 573.5M830.7 573.5l1 -5.9M833.9 574.1l0.5 -3M213.3 608L202.4 616.8M202.4 616.8l-3.8 -4.7M204.9 614.8l-1.9 -2.3M234.3 608L223.3 616.6M223.3 616.6l-3.7 -4.7M225.8 614.6l-1.8 -2.4M255.4 608L246.7 619M246.7 619l-4.7 -3.7M248.7 616.5l-4.7 -3.7M250.7 614l-2.4 -1.9M276.4 608L267.3 618.6M267.3 618.6l-4.5 -3.9M269.4 616.2l-2.3 -2M297.5 608L287.9 618.3M287.9 618.3l-4.4 -4.1M290.1 615.9l-2.2 -2M318.5 608L308.9 618.2M308.9 618.2l-4.4 -4.1M311.1 615.9l-2.2 -2.1M339.5 608L329.8 618.1M329.8 618.1l-4.3 -4.2M332.1 615.8l-2.2 -2.1M360.6 608L350.8 618M350.8 618l-4.3 -4.2M353 615.7l-2.1 -2.1M381.6 608L371.7 617.9M371.7 617.9l-4.3 -4.2M374 615.7l-2.1 -2.1M402.7 608L392.5 617.7M392.5 617.7l-4.1 -4.3M394.9 615.5l-2.1 -2.2M423.7 608L412.7 616.7M412.7 616.7l-3.7 -4.7M415.2 614.7l-1.9 -2.4M444.7 608L433.7 616.7M433.7 616.7l-3.7 -4.7M436.3 614.7l-1.9 -2.4M465.8 608L454.3 616.1M454.3 616.1l-3.5 -4.9M457 614.3l-1.7 -2.5M486.8 608L475.3 616M475.3 616l-3.4 -4.9M478 614.2l-3.4 -4.9M507.9 608L496.3 615.9M496.3 615.9l-3.4 -5M498.9 614.1l-3.4 -5M528.9 608L517.3 615.9M517.3 615.9l-3.4 -5M520 614.1l-3.4 -5M549.9 608L538.4 615.9M538.4 615.9l-3.4 -4.9M541 614.1l-3.4 -4.9M571 608L559.5 616M559.5 616l-3.4 -4.9M562.1 614.2l-3.4 -4.9M592 608L580.5 616M580.5 616l-3.4 -4.9M583.1 614.2l-1.7 -2.5M613.1 608L601.6 616.1M601.6 616.1l-3.4 -4.9M604.2 614.2l-1.7 -2.5M634.1 608L622.7 616.2M622.7 616.2l-3.5 -4.9M625.3 614.3l-1.7 -2.4M655.1 608L643.5 615.9M643.5 615.9l-3.4 -5M646.2 614.1l-1.7 -2.5M676.2 608L664.3 615.4M664.3 615.4l-3.2 -5.1M667 613.7l-1.6 -2.5M697.2 608L685.3 615.4M685.3 615.4l-3.2 -5.1M688.1 613.7l-1.6 -2.5M718.3 608L706 614.8M706 614.8l-2.9 -5.2M708.8 613.3l-1.5 -2.6M739.3 608L726.8 614.4M726.8 614.4l-2.7 -5.3M729.7 612.9l-1.4 -2.7M760.3 608L747.9 614.4M747.9 614.4l-2.7 -5.3M781.4 608L768.5 613.5M768.5 613.5l-2.3 -5.5M802.4 608L788.6 610M788.6 610l-0.8 -5.9M791.7 609.5l-0.4 -3M823.5 608L809.6 606.3M809.6 606.3l0.7 -6M812.7 606.7l0.4 -3M844.5 608L831.7 602.3M831.7 602.3l2.4 -5.5M834.6 603.6l1.2 -2.7M213.3 640.1L203 649.6M203 649.6l-4.1 -4.4M205.3 647.4l-4.1 -4.4M234.3 640.1L224 649.6M224 649.6l-4.1 -4.4M226.4 647.4l-4.1 -4.4M255.4 640.1L246.8 651.2M246.8 651.2l-4.7 -3.7M248.8 648.6l-4.7 -3.7M250.7 646.1l-2.4 -1.8M276.4 640.1L267.9 651.2M267.9 651.2l-4.8 -3.7M269.8 648.7l-2.4 -1.8M297.5 640.1L288.5 650.9M288.5 650.9l-4.6 -3.8M290.6 648.4l-2.3 -1.9M318.5 640.1L309.5 650.8M309.5 650.8l-4.6 -3.9M311.5 648.4l-2.3 -1.9M339.5 640.1L330.4 650.7M330.4 650.7l-4.6 -3.9M332.5 648.3l-2.3 -2M360.6 640.1L351.4 650.6M351.4 650.6l-4.5 -3.9M353.5 648.2l-2.3 -2M381.6 640.1L372 650.2M372 650.2l-4.3 -4.1M374.2 647.9l-2.2 -2.1M402.7 640.1L392.1 649.3M392.1 649.3l-3.9 -4.5M394.5 647.2l-2 -2.3M423.7 640.1L412.3 648.3M412.3 648.3l-3.5 -4.9M414.9 646.4l-1.8 -2.4M444.7 640.1L433.3 648.2M433.3 648.2l-3.5 -4.9M435.9 646.4l-1.7 -2.4M465.8 640.1L453.8 647.4M453.8 647.4l-3.1 -5.1M456.6 645.7l-1.6 -2.6M486.8 640.1L474.8 647.2M474.8 647.2l-3.1 -5.2M477.5 645.6l-3.1 -5.2M507.9 640.1L495.6 646.9M495.6 646.9l-2.9 -5.2M498.4 645.3l-2.9 -5.2M528.9 640.1L516.7 646.9M516.7 646.9l-2.9 -5.2M519.5 645.4l-2.9 -5.2M549.9 640.1L537.7 647M537.7 647l-2.9 -5.2M540.5 645.4l-2.9 -5.2M571 640.1L558.8 647M558.8 647l-3 -5.2M561.6 645.4l-3 -5.2M592 640.1L579.9 647.1M579.9 647.1l-3 -5.2M582.7 645.5l-1.5 -2.6M613.1 640.1L601 647.2M601 647.2l-3.1 -5.2M603.8 645.6l-1.5 -2.6M634.1 640.1L622.1 647.4M622.1 647.4l-3.1 -5.1M624.9 645.7l-1.6 -2.6M655.1 640.1L642.9 646.9M642.9 646.9l-2.9 -5.2M645.7 645.3l-1.5 -2.6M676.2 640.1L663.9 646.8M663.9 646.8l-2.9 -5.3M666.7 645.3l-1.4 -2.6M697.2 640.1L684.5 646M684.5 646l-2.5 -5.4M687.4 644.7l-1.3 -2.7M718.3 640.1L705.4 645.6M705.4 645.6l-2.3 -5.5M708.3 644.3l-1.2 -2.8M739.3 640.1L726.4 645.6M726.4 645.6l-2.3 -5.5M729.4 644.3l-1.2 -2.8M760.3 640.1L747.5 645.6M747.5 645.6l-2.3 -5.5M781.4 640.1L767.9 644M767.9 644l-1.7 -5.8M802.4 640.1L788.4 640.6M788.4 640.6l-0.2 -6M791.6 640.5l-0.1 -3M823.5 640.1L810 636.2M810 636.2l1.7 -5.8M813.1 637.1l0.8 -2.9M844.5 640.1L831.3 635.3M831.3 635.3l2.1 -5.6M834.4 636.4l1 -2.8M213.3 672.2L203.6 682.3M203.6 682.3l-4.3 -4.1M205.9 680l-4.3 -4.1M234.3 672.2L224.9 682.5M224.9 682.5l-4.4 -4.1M227 680.1l-4.4 -4.1M255.4 672.2L246.9 683.3M246.9 683.3l-4.8 -3.6M248.9 680.8l-4.8 -3.6M250.8 678.2l-2.4 -1.8M276.4 672.2L268.5 683.7M268.5 683.7l-5 -3.4M270.3 681.1l-2.5 -1.7M297.5 672.2L289.2 683.4M289.2 683.4l-4.8 -3.6M291.1 680.9l-2.4 -1.8M318.5 672.2L310.1 683.4M310.1 683.4l-4.8 -3.6M312 680.8l-2.4 -1.8M339.5 672.2L331 683.3M331 683.3l-4.8 -3.6M333 680.8l-2.4 -1.8M360.6 672.2L351.4 682.8M351.4 682.8l-4.5 -3.9M353.5 680.4l-2.3 -2M381.6 672.2L371.5 681.9M371.5 681.9l-4.2 -4.3M373.8 679.7l-2.1 -2.2M402.7 672.2L391.7 680.9M391.7 680.9l-3.7 -4.7M394.2 678.9l-1.9 -2.3M423.7 672.2L412 679.8M412 679.8l-3.3 -5M414.7 678.1l-1.6 -2.5M444.7 672.2L432.9 679.7M432.9 679.7l-3.2 -5.1M435.6 678l-1.6 -2.5M465.8 672.2L453.4 678.7M453.4 678.7l-2.8 -5.3M456.2 677.2l-1.4 -2.7M486.8 672.2L474.3 678.4M474.3 678.4l-2.7 -5.4M477.1 677l-2.7 -5.4M507.9 672.2L495.1 677.9M495.1 677.9l-2.4 -5.5M498 676.6l-2.4 -5.5M528.9 672.2L516.1 677.9M516.1 677.9l-2.5 -5.5M519 676.6l-2.5 -5.5M549.9 672.2L537.2 677.9M537.2 677.9l-2.5 -5.5M540.1 676.6l-2.5 -5.5M571 672.2L558.3 678M558.3 678l-2.5 -5.4M561.2 676.7l-2.5 -5.4M592 672.2L579.4 678.2M579.4 678.2l-2.6 -5.4M582.3 676.8l-1.3 -2.7M613.1 672.2L600.5 678.3M600.5 678.3l-2.6 -5.4M603.4 676.9l-1.3 -2.7M634.1 672.2L621.6 678.5M621.6 678.5l-2.7 -5.4M624.5 677l-1.4 -2.7M655.1 672.2L642.3 677.9M642.3 677.9l-2.4 -5.5M645.3 676.6l-1.2 -2.7M676.2 672.2L663.5 678.1M663.5 678.1l-2.5 -5.4M666.4 676.7l-1.3 -2.7M697.2 672.2L684.2 677.3M684.2 677.3l-2.2 -5.6M687.2 676.1l-1.1 -2.8M718.3 672.2L704.9 676.5M704.9 676.5l-1.9 -5.7M708 675.5l-0.9 -2.9M739.3 672.2L726 676.5M726 676.5l-1.9 -5.7M760.3 672.2L746.8 675.8M746.8 675.8l-1.6 -5.8M781.4 672.2L767.4 673.4M767.4 673.4l-0.5 -6M802.4 672.2L788.5 670.7M788.5 670.7l0.6 -6M823.5 672.2L809.8 669M809.8 669l1.3 -5.8M812.9 669.8l0.7 -2.9M844.5 672.2L831.4 667.2M831.4 667.2l2.2 -5.6M834.4 668.3l1.1 -2.8M213.3 704.3L204.3 715M204.3 715l-4.6 -3.8M206.4 712.6l-4.6 -3.8M208.4 710.1l-2.3 -1.9M234.3 704.3L225.8 715.3M225.8 715.3l-4.7 -3.7M227.7 712.8l-4.7 -3.7M229.7 710.3l-2.4 -1.8M255.4 704.3L247 715.5M247 715.5l-4.8 -3.6M248.9 712.9l-4.8 -3.6M250.8 710.4l-2.4 -1.8M276.4 704.3L269.2 716.2M269.2 716.2l-5.1 -3.1M270.8 713.5l-2.6 -1.6M297.5 704.3L289.8 716M289.8 716l-5 -3.3M291.5 713.3l-2.5 -1.6M318.5 704.3L310.7 715.9M310.7 715.9l-5 -3.3M312.5 713.2l-2.5 -1.7M339.5 704.3L330.9 715.3M330.9 715.3l-4.7 -3.7M332.9 712.8l-2.4 -1.8M360.6 704.3L351 714.4M351 714.4l-4.4 -4.1M353.2 712.1l-2.2 -2.1M381.6 704.3L371.1 713.5M371.1 713.5l-4 -4.5M373.5 711.4l-2 -2.3M402.7 704.3L391.3 712.5M391.3 712.5l-3.5 -4.9M393.9 710.6l-1.8 -2.4M423.7 704.3L411.6 711.4M411.6 711.4l-3.1 -5.2M414.4 709.8l-1.5 -2.6M444.7 704.3L432.6 711.2M432.6 711.2l-3 -5.2M435.4 709.6l-1.5 -2.6M465.8 704.3L453 709.9M453 709.9l-2.4 -5.5M455.9 708.6l-1.2 -2.7M486.8 704.3L473.9 709.5M473.9 709.5l-2.3 -5.6M476.8 708.3l-2.3 -5.6M507.9 704.3L494.6 708.8M494.6 708.8l-1.9 -5.7M497.6 707.8l-1.9 -5.7M528.9 704.3L515.7 708.8M515.7 708.8l-2 -5.7M518.7 707.8l-2 -5.7M549.9 704.3L536.8 709M536.8 709l-2 -5.7M539.8 707.9l-2 -5.7M571 704.3L557.9 709.1M557.9 709.1l-2.1 -5.6M560.9 708l-2.1 -5.6M592 704.3L579 709.3M579 709.3l-2.2 -5.6M581.9 708.1l-1.1 -2.8M613.1 704.3L600.1 709.4M600.1 709.4l-2.2 -5.6M603 708.2l-1.1 -2.8M634.1 704.3L621.2 709.6M621.2 709.6l-2.3 -5.5M624.1 708.4l-1.1 -2.8M655.1 704.3L641.9 708.8M641.9 708.8l-1.9 -5.7M644.9 707.8l-1 -2.8M676.2 704.3L663.2 709.4M663.2 709.4l-2.2 -5.6M666.1 708.2l-1.1 -2.8M697.2 704.3L683.9 708.6M683.9 708.6l-1.9 -5.7M686.9 707.6l-0.9 -2.9M718.3 704.3L704.7 707.9M704.7 707.9l-1.6 -5.8M707.8 707.1l-0.8 -2.9M739.3 704.3L725.6 707.2M725.6 707.2l-1.2 -5.9M760.3 704.3L746.5 706.5M746.5 706.5l-0.9 -5.9M781.4 704.3L767.4 704M767.4 704l0.1 -6M802.4 704.3L788.6 702.3M788.6 702.3l0.8 -5.9M823.5 704.3L809.8 701.3M809.8 701.3l1.2 -5.9M812.9 702l0.6 -2.9M844.5 704.3L831.2 699.9M831.2 699.9l1.9 -5.7M834.2 700.9l0.9 -2.9M213.3 736.3L205.1 747.7M205.1 747.7l-4.9 -3.5M207 745.1l-4.9 -3.5M208.8 742.5l-2.4 -1.8M234.3 736.3L226.7 748.1M226.7 748.1l-5 -3.3M228.5 745.4l-5 -3.3M230.2 742.7l-2.5 -1.6M255.4 736.3L247.2 747.7M247.2 747.7l-4.9 -3.5M249 745.1l-4.9 -3.5M250.9 742.5l-2.4 -1.8M276.4 736.3L269.8 748.7M269.8 748.7l-5.3 -2.8M271.3 745.9l-2.6 -1.4M297.5 736.3L290.5 748.5M290.5 748.5l-5.2 -3M292.1 745.7l-2.6 -1.5M318.5 736.3L310.4 747.8M310.4 747.8l-4.9 -3.5M312.3 745.2l-2.5 -1.7M339.5 736.3L330.4 747M330.4 747l-4.6 -3.9M332.5 744.5l-2.3 -1.9M360.6 736.3L350.5 746.1M350.5 746.1l-4.2 -4.3M352.8 743.8l-2.1 -2.2M381.6 736.3L370.7 745.1M370.7 745.1l-3.7 -4.7M373.2 743.1l-1.9 -2.3M402.7 736.3L390.9 744M390.9 744l-3.3 -5M393.6 742.3l-1.6 -2.5M423.7 736.3L411.3 742.9M411.3 742.9l-2.8 -5.3M414.2 741.4l-1.4 -2.6M444.7 736.3L432.3 742.7M432.3 742.7l-2.7 -5.3M435.1 741.2l-1.4 -2.7M465.8 736.3L452.6 741.1M452.6 741.1l-2.1 -5.6M455.6 740l-1 -2.8M486.8 736.3L473.5 740.7M473.5 740.7l-1.9 -5.7M476.5 739.7l-1.9 -5.7M507.9 736.3L494.3 739.7M494.3 739.7l-1.5 -5.8M497.4 739l-1.5 -5.8M528.9 736.3L515.4 739.9M515.4 739.9l-1.5 -5.8M518.5 739.1l-1.5 -5.8M549.9 736.3L536.4 740M536.4 740l-1.6 -5.8M539.5 739.2l-1.6 -5.8M571 736.3L557.5 740.2M557.5 740.2l-1.7 -5.8M560.6 739.3l-1.7 -5.8M592 736.3L578.6 740.4M578.6 740.4l-1.7 -5.7M581.7 739.4l-0.9 -2.9M613.1 736.3L599.7 740.5M599.7 740.5l-1.8 -5.7M602.8 739.6l-0.9 -2.9M634.1 736.3L620.8 740.7M620.8 740.7l-1.9 -5.7M623.8 739.7l-0.9 -2.9M655.1 736.3L641.6 739.7M641.6 739.7l-1.5 -5.8M644.7 739l-0.7 -2.9M676.2 736.3L662.9 740.7M662.9 740.7l-1.9 -5.7M665.9 739.7l-0.9 -2.9M697.2 736.3L683.8 740.2M683.8 740.2l-1.7 -5.8M686.8 739.3l-0.8 -2.9M718.3 736.3L704.7 739.7M704.7 739.7l-1.5 -5.8M739.3 736.3L725.5 738.4M725.5 738.4l-0.9 -5.9M760.3 736.3L746.4 736.9M746.4 736.9l-0.2 -6M781.4 736.3L767.4 735.4M767.4 735.4l0.4 -6M802.4 736.3L788.6 733.9M788.6 733.9l1 -5.9M823.5 736.3L809.8 733.4M809.8 733.4l1.2 -5.9M812.9 734.1l0.6 -2.9M844.5 736.3L831.4 731.3M831.4 731.3l2.2 -5.6M834.4 732.5l1.1 -2.8M213.3 768.4L202.4 777.2M202.4 777.2l-3.8 -4.7M204.9 775.2l-3.8 -4.7M207.4 773.2l-1.9 -2.3M234.3 768.4L223.8 777.6M223.8 777.6l-3.9 -4.5M226.2 775.5l-3.9 -4.5M228.6 773.4l-2 -2.3M255.4 768.4L246.8 779.5M246.8 779.5l-4.7 -3.7M248.7 776.9l-4.7 -3.7M250.7 774.4l-2.4 -1.8M276.4 768.4L269.6 780.7M269.6 780.7l-5.2 -2.9M271.2 777.9l-2.6 -1.5M297.5 768.4L290.2 780.4M290.2 780.4l-5.1 -3.1M291.9 777.7l-2.6 -1.5M318.5 768.4L309.6 779.2M309.6 779.2l-4.6 -3.8M311.6 776.8l-2.3 -1.9M339.5 768.4L329.5 778.2M329.5 778.2l-4.2 -4.3M331.8 776l-2.1 -2.1M360.6 768.4L349.7 777.2M349.7 777.2l-3.8 -4.7M352.2 775.2l-1.9 -2.3M381.6 768.4L370 776.2M370 776.2l-3.3 -5M372.6 774.4l-1.7 -2.5M402.7 768.4L390 774.3M390 774.3l-2.5 -5.4M392.9 773l-1.3 -2.7M423.7 768.4L410.7 773.7M410.7 773.7l-2.2 -5.6M413.7 772.5l-1.1 -2.8M444.7 768.4L431.4 772.7M431.4 772.7l-1.9 -5.7M434.5 771.8l-0.9 -2.9M465.8 768.4L452.1 771.3M452.1 771.3l-1.2 -5.9M455.2 770.7l-0.6 -2.9M486.8 768.4L473 770.9M473 770.9l-1 -5.9M476.2 770.3l-1 -5.9M507.9 768.4L494 770.4M494 770.4l-0.8 -5.9M497.2 769.9l-0.8 -5.9M528.9 768.4L515.2 771.3M515.2 771.3l-1.2 -5.9M518.3 770.7l-1.2 -5.9M549.9 768.4L536.3 771.6M536.3 771.6l-1.4 -5.8M539.4 770.9l-1.4 -5.8M571 768.4L557.4 771.8M557.4 771.8l-1.5 -5.8M560.5 771l-1.5 -5.8M592 768.4L578.5 772M578.5 772l-1.5 -5.8M581.6 771.2l-1.5 -5.8M613.1 768.4L599.6 772.4M599.6 772.4l-1.7 -5.8M602.7 771.5l-1.7 -5.8M634.1 768.4L620.6 772.3M620.6 772.3l-1.7 -5.8M623.7 771.4l-0.8 -2.9M655.1 768.4L641.7 772.3M641.7 772.3l-1.7 -5.8M644.8 771.4l-0.8 -2.9M676.2 768.4L662.6 771.8M662.6 771.8l-1.5 -5.8M665.7 771l-0.7 -2.9M697.2 768.4L683.6 771.8M683.6 771.8l-1.5 -5.8M686.7 771l-0.7 -2.9M718.3 768.4L704.4 770.4M704.4 770.4l-0.8 -5.9M739.3 768.4L725.3 768.9M725.3 768.9l-0.2 -6M760.3 768.4L746.4 767.4M746.4 767.4l0.4 -6M781.4 768.4L767.6 766M767.6 766l1 -5.9M802.4 768.4L788.8 765M788.8 765l1.5 -5.8M823.5 768.4L810 764.6M810 764.6l1.7 -5.8M813.1 765.4l0.8 -2.9M844.5 768.4L831.6 762.9M831.6 762.9l2.3 -5.5M834.6 764.2l1.2 -2.8M213.3 800.5L202.8 809.8M202.8 809.8l-4 -4.5M205.2 807.7l-4 -4.5M207.6 805.5l-2 -2.2M234.3 800.5L224.1 810.1M224.1 810.1l-4.1 -4.4M226.5 807.9l-4.1 -4.4M228.8 805.7l-2.1 -2.2M255.4 800.5L246.6 811.4M246.6 811.4l-4.7 -3.8M248.6 808.9l-4.7 -3.8M250.6 806.4l-2.3 -1.9M276.4 800.5L266.1 810M266.1 810l-4.1 -4.4M268.5 807.8l-4.1 -4.4M297.5 800.5L287.6 810.5M287.6 810.5l-4.3 -4.2M289.9 808.2l-2.1 -2.1M318.5 800.5L308.8 810.6M308.8 810.6l-4.3 -4.2M311 808.3l-2.2 -2.1M339.5 800.5L329 809.7M329 809.7l-3.9 -4.5M331.4 807.6l-2 -2.3M360.6 800.5L349 808.3M349 808.3l-3.4 -5M351.6 806.5l-1.7 -2.5M381.6 800.5L368.6 805.7M368.6 805.7l-2.2 -5.6M371.6 804.5l-1.1 -2.8M402.7 800.5L389.3 804.6M389.3 804.6l-1.8 -5.7M392.3 803.7l-0.9 -2.9M423.7 800.5L410.3 804.6M410.3 804.6l-1.8 -5.7M413.4 803.7l-0.9 -2.9M444.7 800.5L430.7 800.5M430.7 800.5l-0 -6M433.9 800.5l-0 -6M465.8 800.5L451.8 801M451.8 801l-0.2 -6M455 800.9l-0.2 -6M486.8 800.5L472.8 801M472.8 801l-0.2 -6M476 800.9l-0.2 -6M507.9 800.5L493.9 801M493.9 801l-0.2 -6M497.1 800.9l-0.2 -6M528.9 800.5L515 802M515 802l-0.6 -6M518.2 801.6l-0.6 -6M549.9 800.5L536.2 802.9M536.2 802.9l-1 -5.9M539.3 802.4l-1 -5.9M571 800.5L557.3 803.4M557.3 803.4l-1.2 -5.9M560.4 802.7l-1.2 -5.9M592 800.5L578.5 804.1M578.5 804.1l-1.6 -5.8M581.6 803.3l-1.6 -5.8M613.1 800.5L599.7 804.6M599.7 804.6l-1.8 -5.7M602.7 803.7l-0.9 -2.9M634.1 800.5L620.7 804.6M620.7 804.6l-1.8 -5.7M623.8 803.7l-0.9 -2.9M655.1 800.5L641.7 804.4M641.7 804.4l-1.7 -5.8M644.8 803.5l-0.8 -2.9M676.2 800.5L662.7 804.4M662.7 804.4l-1.7 -5.8M665.8 803.5l-0.8 -2.9M697.2 800.5L683.5 803.2M683.5 803.2l-1.1 -5.9M718.3 800.5L704.3 802M704.3 802l-0.6 -6M739.3 800.5L725.3 800.5M725.3 800.5l-0 -6M760.3 800.5L746.5 798.3M746.5 798.3l0.9 -5.9M781.4 800.5L768 796.4M768 796.4l1.8 -5.7M802.4 800.5L789.7 794.6M789.7 794.6l2.5 -5.4M823.5 800.5L810.8 794.6M810.8 794.6l2.5 -5.4M813.7 795.9l1.3 -2.7M844.5 800.5L832.9 792.7M832.9 792.7l3.4 -5M835.5 794.5l1.7 -2.5M213.3 832.6L203.3 842.3M203.3 842.3l-4.2 -4.3M205.6 840.1l-4.2 -4.3M207.9 837.9l-2.1 -2.2M234.3 832.6L224.5 842.5M224.5 842.5l-4.3 -4.2M226.8 840.3l-4.3 -4.2M229 838l-2.1 -2.1M255.4 832.6L246.5 843.4M246.5 843.4l-4.6 -3.8M248.5 840.9l-4.6 -3.8M250.5 838.4l-2.3 -1.9M276.4 832.6L266 841.9M266 841.9l-4 -4.5M268.4 839.8l-4 -4.5M297.5 832.6L285.8 840.3M285.8 840.3l-3.3 -5M288.4 838.5l-3.3 -5M318.5 832.6L306.4 839.6M306.4 839.6l-3 -5.2M309.1 838l-1.5 -2.6M339.5 832.6L327.1 838.9M327.1 838.9l-2.7 -5.3M329.9 837.5l-1.4 -2.7M360.6 832.6L347.5 837.6M347.5 837.6l-2.2 -5.6M350.5 836.5l-1.1 -2.8M381.6 832.6L368.2 836.4M368.2 836.4l-1.7 -5.8M371.2 835.6l-0.8 -2.9M402.7 832.6L388.9 835.3M388.9 835.3l-1.1 -5.9M392.1 834.6l-0.6 -2.9M423.7 832.6L409.8 834.3M409.8 834.3l-0.7 -6M413 833.9l-0.4 -3M444.7 832.6L430.7 833.1M430.7 833.1l-0.2 -6M433.9 833l-0.2 -6M465.8 832.6L451.8 833.1M451.8 833.1l-0.2 -6M455 833l-0.2 -6M486.8 832.6L472.8 833.1M472.8 833.1l-0.2 -6M476 833l-0.2 -6M507.9 832.6L493.9 833.1M493.9 833.1l-0.2 -6M497.1 833l-0.2 -6M528.9 832.6L515 834.3M515 834.3l-0.7 -6M518.2 833.9l-0.7 -6M549.9 832.6L536.4 836M536.4 836l-1.5 -5.8M539.5 835.2l-1.5 -5.8M571 832.6L557.4 836M557.4 836l-1.5 -5.8M560.5 835.2l-1.5 -5.8M592 832.6L578.7 836.9M578.7 836.9l-1.9 -5.7M581.7 835.9l-1.9 -5.7M613.1 832.6L599.7 836.9M599.7 836.9l-1.9 -5.7M602.8 835.9l-0.9 -2.9M634.1 832.6L620.8 836.9M620.8 836.9l-1.9 -5.7M623.8 835.9l-0.9 -2.9M655.1 832.6L641.7 836.4M641.7 836.4l-1.7 -5.8M644.8 835.6l-0.8 -2.9M676.2 832.6L662.7 836.4M662.7 836.4l-1.7 -5.8M697.2 832.6L683.5 835.3M683.5 835.3l-1.1 -5.9M718.3 832.6L704.3 833.8M704.3 833.8l-0.5 -6M739.3 832.6L725.4 830.6M725.4 830.6l0.8 -5.9M760.3 832.6L747.4 827.3M747.4 827.3l2.2 -5.6M781.4 832.6L769.5 825.2M769.5 825.2l3.2 -5.1M802.4 832.6L791.2 824.2M791.2 824.2l3.6 -4.8M823.5 832.6L811.3 825.6M811.3 825.6l3 -5.2M814.1 827.2l1.5 -2.6M844.5 832.6L833.5 824M833.5 824l3.7 -4.7M213.3 864.7L203.7 874.9M203.7 874.9l-4.4 -4.1M205.9 872.5l-4.4 -4.1M234.3 864.7L224.9 875M224.9 875l-4.4 -4M227.1 872.6l-4.4 -4M229.2 870.3l-2.2 -2M255.4 864.7L246.3 875.3M246.3 875.3l-4.6 -3.9M248.4 872.9l-4.6 -3.9M250.5 870.4l-2.3 -1.9M276.4 864.7L265.9 873.9M265.9 873.9l-3.9 -4.5M268.3 871.8l-3.9 -4.5M297.5 864.7L285.6 872.2M285.6 872.2l-3.2 -5.1M288.3 870.5l-3.2 -5.1M318.5 864.7L305.7 870.4M305.7 870.4l-2.4 -5.5M308.6 869.1l-1.2 -2.7M339.5 864.7L326.8 870.4M326.8 870.4l-2.4 -5.5M329.7 869.1l-1.2 -2.7M360.6 864.7L347.3 869.2M347.3 869.2l-2 -5.7M350.4 868.2l-1 -2.8M381.6 864.7L368 868M368 868l-1.5 -5.8M371.1 867.3l-0.7 -2.9M402.7 864.7L388.9 867.1M388.9 867.1l-1 -5.9M392 866.5l-0.5 -3M423.7 864.7L409.8 865.9M409.8 865.9l-0.5 -6M412.9 865.6l-0.3 -3M444.7 864.7L430.7 864.7M430.7 864.7l-0 -6M433.9 864.7l-0 -6M465.8 864.7L451.8 864.7M451.8 864.7l-0 -6M455 864.7l-0 -6M486.8 864.7L472.9 865.9M472.9 865.9l-0.5 -6M476.1 865.6l-0.5 -6M507.9 864.7L493.9 865.9M493.9 865.9l-0.5 -6M497.1 865.6l-0.5 -6M528.9 864.7L515 865.9M515 865.9l-0.5 -6M518.1 865.6l-0.5 -6M549.9 864.7L536.6 868.8M536.6 868.8l-1.8 -5.7M539.6 867.8l-1.8 -5.7M571 864.7L557.6 868.8M557.6 868.8l-1.8 -5.7M560.7 867.8l-1.8 -5.7M592 864.7L578.9 869.4M578.9 869.4l-2.1 -5.6M581.9 868.4l-1 -2.8M613.1 864.7L599.8 869.2M599.8 869.2l-2 -5.7M602.8 868.2l-1 -2.8M634.1 864.7L620.5 868M620.5 868l-1.5 -5.8M623.6 867.3l-0.7 -2.9M655.1 864.7L641.4 867.1M641.4 867.1l-1 -5.9M644.5 866.5l-0.5 -3M676.2 864.7L662.3 866.4M662.3 866.4l-0.7 -6M697.2 864.7L683.3 866.4M683.3 866.4l-0.7 -6M718.3 864.7L704.3 864.2M704.3 864.2l0.2 -6M739.3 864.7L726.1 860.1M726.1 860.1l2 -5.7M760.3 864.7L748.7 856.8M748.7 856.8l3.4 -5M781.4 864.7L771 855.3M771 855.3l4 -4.5M802.4 864.7L792 855.3M792 855.3l4 -4.5M823.5 864.7L811 858.3M811 858.3l2.7 -5.3M813.8 859.8l1.4 -2.7M844.5 864.7L832 858.3M832 858.3l2.7 -5.3M834.9 859.8l1.4 -2.7M213.3 896.7L204.2 907.4M204.2 907.4l-4.6 -3.9M206.3 904.9l-4.6 -3.9M234.3 896.7L225.3 907.4M225.3 907.4l-4.6 -3.9M227.4 905l-4.6 -3.9M229.4 902.5l-2.3 -1.9M255.4 896.7L246.2 907.3M246.2 907.3l-4.5 -4M248.3 904.9l-4.5 -4M250.4 902.5l-2.3 -2M276.4 896.7L265.7 905.8M265.7 905.8l-3.9 -4.6M268.2 903.7l-3.9 -4.6M297.5 896.7L285.7 904.4M285.7 904.4l-3.3 -5M288.4 902.6l-3.3 -5M318.5 896.7L305.3 901.5M305.3 901.5l-2.1 -5.6M308.4 900.4l-1 -2.8M339.5 896.7L326.8 902.4M326.8 902.4l-2.4 -5.5M329.7 901.1l-1.2 -2.7M360.6 896.7L347.3 901.3M347.3 901.3l-2 -5.7M350.4 900.3l-1 -2.8M381.6 896.7L368 900.1M368 900.1l-1.5 -5.8M371.1 899.4l-0.7 -2.9M402.7 896.7L388.9 899.2M388.9 899.2l-1 -5.9M392 898.6l-0.5 -3M423.7 896.7L409.8 898M409.8 898l-0.5 -6M412.9 897.7l-0.3 -3M444.7 896.7L430.7 897.2M430.7 897.2l-0.2 -6M433.9 897.1l-0.2 -6M465.8 896.7L451.8 897.2M451.8 897.2l-0.2 -6M455 897.1l-0.2 -6M486.8 896.7L472.8 897.2M472.8 897.2l-0.2 -6M476 897.1l-0.2 -6M507.9 896.7L493.9 896.7M493.9 896.7l-0 -6M497.1 896.7l-0 -6M528.9 896.7L514.9 896.7M514.9 896.7l-0 -6M518.1 896.7l-0 -3M549.9 896.7L535.9 896.7M535.9 896.7l-0 -6M539.1 896.7l-0 -3M571 896.7L557 896.7M557 896.7l-0 -6M560.2 896.7l-0 -3M592 896.7L578.1 898.2M578.1 898.2l-0.6 -6M581.3 897.9l-0.3 -3M613.1 896.7L599.1 896.7M599.1 896.7l-0 -6M602.3 896.7l-0 -3M634.1 896.7L620.2 895.5M620.2 895.5l0.5 -6M623.3 895.8l0.3 -3M655.1 896.7L641.1 896.7M641.1 896.7l-0 -6M676.2 896.7L662.2 896.7M662.2 896.7l-0 -6M697.2 896.7L683.3 895M683.3 895l0.7 -6M718.3 896.7L705.1 892M705.1 892l2.1 -5.6M739.3 896.7L728.3 888.1M728.3 888.1l3.7 -4.7M760.3 896.7L751 886.3M751 886.3l4.5 -4M781.4 896.7L773 885.6M773 885.6l4.8 -3.6M802.4 896.7L792.7 886.7M792.7 886.7l4.3 -4.2M823.5 896.7L811.1 890.2M811.1 890.2l2.8 -5.3M844.5 896.7L832.1 890.2M832.1 890.2l2.8 -5.3M835 891.7l1.4 -2.6M213.3 928.8L204.7 939.9M204.7 939.9l-4.7 -3.7M206.7 937.3l-4.7 -3.7M234.3 928.8L225.7 939.9M225.7 939.9l-4.7 -3.7M227.7 937.3l-4.7 -3.7M229.7 934.8l-2.4 -1.8M255.4 928.8L246 939.2M246 939.2l-4.5 -4M248.2 936.8l-4.5 -4M250.3 934.5l-2.2 -2M276.4 928.8L266 938.2M266 938.2l-4 -4.5M268.4 936l-4 -4.5M270.8 933.9l-2 -2.2M297.5 928.8L286 936.9M286 936.9l-3.4 -4.9M288.6 935l-3.4 -4.9M318.5 928.8L306 935.2M306 935.2l-2.7 -5.3M308.9 933.7l-2.7 -5.3M339.5 928.8L326.2 933.1M326.2 933.1l-1.8 -5.7M329.3 932.1l-0.9 -2.9M360.6 928.8L346.9 931.6M346.9 931.6l-1.2 -5.9M350 931l-0.6 -2.9M381.6 928.8L367.8 930.8M367.8 930.8l-0.8 -5.9M370.9 930.3l-0.4 -3M402.7 928.8L388.9 931.7M388.9 931.7l-1.2 -5.9M392.1 931l-0.6 -2.9M423.7 928.8L410.5 933.4M410.5 933.4l-2 -5.7M413.5 932.3l-1 -2.8M444.7 928.8L431.4 932.9M431.4 932.9l-1.8 -5.7M434.4 932l-0.9 -2.9M465.8 928.8L452.3 932.4M452.3 932.4l-1.6 -5.8M455.3 931.6l-0.8 -2.9M486.8 928.8L472.9 930.5M472.9 930.5l-0.7 -6M476.1 930.1l-0.4 -3M507.9 928.8L493.9 929.3M493.9 929.3l-0.2 -6M497.1 929.2l-0.1 -3M528.9 928.8L514.9 927.8M514.9 927.8l0.4 -6M518.1 928.1l0.2 -3M549.9 928.8L536 927.4M536 927.4l0.6 -6M539.2 927.7l0.3 -3M571 928.8L557.2 926.6M557.2 926.6l0.9 -5.9M560.3 927.1l0.5 -3M592 928.8L578.2 926.6M578.2 926.6l0.9 -5.9M581.4 927.1l0.5 -3M613.1 928.8L599.1 927.4M599.1 927.4l0.6 -6M602.3 927.7l0.3 -3M634.1 928.8L620.1 928.3M620.1 928.3l0.2 -6M655.1 928.8L641.2 927.1M641.2 927.1l0.7 -6M676.2 928.8L662.4 926.6M662.4 926.6l0.9 -5.9M697.2 928.8L684.2 923.6M684.2 923.6l1.1 -2.8M718.3 928.8L708.2 919.1M708.2 919.1l2.1 -2.2M739.3 928.8L732.7 916.5M732.7 916.5l2.6 -1.4M760.3 928.8L756 915.5M756 915.5l2.9 -0.9M781.4 928.8L773.8 917.1M773.8 917.1l2.5 -1.6M802.4 928.8L791.7 919.8M791.7 919.8l1.9 -2.3M823.5 928.8L811 922.5M811 922.5l1.4 -2.7M844.5 928.8L830.6 926.9M830.6 926.9l0.4 -3M213.3 960.9L202.9 970.3M202.9 970.3l-4 -4.5M205.3 968.1l-4 -4.5M207.7 966l-2 -2.2M234.3 960.9L225.2 971.5M225.2 971.5l-4.5 -3.9M227.3 969.1l-4.5 -3.9M229.4 966.6l-2.3 -2M255.4 960.9L244.5 969.7M244.5 969.7l-3.8 -4.7M247 967.7l-3.8 -4.7M249.5 965.7l-1.9 -2.3M276.4 960.9L265.4 969.5M265.4 969.5l-3.7 -4.7M267.9 967.5l-3.7 -4.7M270.4 965.6l-1.8 -2.4M297.5 960.9L285.3 967.9M285.3 967.9l-3 -5.2M288.1 966.3l-3 -5.2M318.5 960.9L305.4 965.9M305.4 965.9l-2.1 -5.6M308.4 964.8l-2.1 -5.6M339.5 960.9L325.8 963.7M325.8 963.7l-1.2 -5.9M329 963.1l-0.6 -2.9M360.6 960.9L346.6 961.8M346.6 961.8l-0.4 -6M349.8 961.6l-0.2 -3M381.6 960.9L367.6 961.4M367.6 961.4l-0.2 -6M370.8 961.3l-0.1 -3M402.7 960.9L389 964.1M389 964.1l-1.4 -5.8M392.2 963.4l-0.7 -2.9M423.7 960.9L410.5 965.5M410.5 965.5l-2 -5.7M413.5 964.4l-1 -2.8M444.7 960.9L431.2 964.3M431.2 964.3l-1.5 -5.8M434.3 963.5l-0.7 -2.9M465.8 960.9L452.1 963.8M452.1 963.8l-1.2 -5.9M455.2 963.1l-1.2 -5.9M486.8 960.9L472.9 962.4M472.9 962.4l-0.6 -6M476.1 962l-0.3 -3M507.9 960.9L493.9 960.9M493.9 960.9l-0 -6M497.1 960.9l-0 -3M528.9 960.9L514.9 960.2M514.9 960.2l0.3 -6M518.1 960.3l0.2 -3M549.9 960.9L536 960.2M536 960.2l0.3 -6M539.2 960.3l0.2 -3M571 960.9L557.1 959.4M557.1 959.4l0.6 -6M560.2 959.8l0.3 -3M592 960.9L578 960.9M578 960.9l-0 -6M613.1 960.9L599.3 963.3M599.3 963.3l-1 -5.9M634.1 960.9L620.1 960.4M620.1 960.4l0.1 -3M655.1 960.9L641.6 957.5M641.6 957.5l0.7 -2.9M676.2 960.9L663.5 955M663.5 955l1.3 -2.7M697.2 960.9L686.7 951.7M686.7 951.7l2 -2.3M718.3 960.9L710.4 949.3M710.4 949.3l5 -3.4M739.3 960.9L735.2 947.5M735.2 947.5l2.9 -0.9M760.3 960.9L756.5 947.4M756.5 947.4l2.9 -0.8M781.4 960.9L774.4 948.8M774.4 948.8l2.6 -1.5M802.4 960.9L789.9 954.5M789.9 954.5l1.4 -2.7M823.5 960.9L811.6 953.5M811.6 953.5l1.6 -2.5M844.5 960.9L831.6 955.4M831.6 955.4l1.2 -2.8M213.3 993L202.3 1001.6M202.3 1001.6l-3.7 -4.7M204.8 999.6l-3.7 -4.7M207.3 997.7l-1.8 -2.4M234.3 993L224 1002.4M224 1002.4l-4 -4.4M226.4 1000.3l-4 -4.4M228.7 998.1l-2 -2.2M255.4 993L243.9 1000.9M243.9 1000.9l-3.4 -4.9M246.5 999.1l-3.4 -4.9M249.1 997.3l-1.7 -2.5M276.4 993L264.7 1000.7M264.7 1000.7l-3.3 -5M267.4 998.9l-3.3 -5M270.1 997.2l-1.6 -2.5M297.5 993L284.9 999.1M284.9 999.1l-2.6 -5.4M287.8 997.7l-2.6 -5.4M318.5 993L305 996.6M305 996.6l-1.6 -5.8M308.1 995.8l-1.6 -5.8M339.5 993L325.6 994.3M325.6 994.3l-0.6 -6M328.8 994l-0.3 -3M360.6 993L346.6 992M346.6 992l0.4 -6M349.8 992.2l0.2 -3M381.6 993L367.7 992M367.7 992l0.4 -6M370.8 992.2l0.2 -3M402.7 993L389.1 996.6M389.1 996.6l-1.6 -5.8M392.2 995.8l-0.8 -2.9M423.7 993L410.6 998M410.6 998l-2.2 -5.6M413.6 996.9l-1.1 -2.8M444.7 993L431.4 997.3M431.4 997.3l-1.9 -5.7M434.5 996.3l-0.9 -2.9M465.8 993L452.5 997.3M452.5 997.3l-1.9 -5.7M455.5 996.3l-0.9 -2.9M486.8 993L473.2 996.4M473.2 996.4l-1.5 -5.8M476.3 995.6l-0.7 -2.9M507.9 993L493.9 993.5M493.9 993.5l-0.2 -6M528.9 993L515.1 990.5M515.1 990.5l1 -5.9M549.9 993L535.9 993M535.9 993l-0 -6M571 993L557.1 994.7M557.1 994.7l-0.7 -6M592 993L578.1 994.2M578.1 994.2l-0.5 -6M613.1 993L599.3 995.4M599.3 995.4l-1 -5.9M634.1 993L620.1 993M620.1 993l-0 -6M655.1 993L641.8 988.9M641.8 988.9l0.9 -2.9M676.2 993L665.1 984.4M665.1 984.4l1.8 -2.4M697.2 993L691.5 980.2M691.5 980.2l2.7 -1.2M718.3 993L713.9 979.7M713.9 979.7l2.9 -0.9M739.3 993L738.8 979M738.8 979l3 -0.1M760.3 993L761.3 979M761.3 979l3 0.2M781.4 993L785.7 979.7M785.7 979.7l2.9 0.9M802.4 993L802.4 979M802.4 979l3 -0M823.5 993L819.6 979.5M819.6 979.5l2.9 -0.8M844.5 993L844.5 979M844.5 979l3 -0M213.3 1025.1L201.7 1032.9M201.7 1032.9l-3.4 -5M204.3 1031.1l-3.4 -5M207 1029.3l-1.7 -2.5M234.3 1025.1L223 1033.2M223 1033.2l-3.5 -4.9M225.6 1031.4l-3.5 -4.9M228.2 1029.5l-1.7 -2.4M255.4 1025.1L243.3 1032.1M243.3 1032.1l-3 -5.2M246.1 1030.5l-3 -5.2M248.8 1028.9l-1.5 -2.6M276.4 1025.1L264.1 1031.8M264.1 1031.8l-2.9 -5.3M266.9 1030.2l-2.9 -5.3M297.5 1025.1L284.5 1030.3M284.5 1030.3l-2.2 -5.6M287.4 1029.1l-2.2 -5.6M318.5 1025.1L304.8 1027.7M304.8 1027.7l-1.1 -5.9M307.9 1027.1l-1.1 -5.9M339.5 1025.1L325.5 1025.1M325.5 1025.1l-0 -6M328.7 1025.1l-0 -3M360.6 1025.1L346.6 1024.1M346.6 1024.1l0.4 -6M349.8 1024.3l0.2 -3M381.6 1025.1L367.6 1025.1M367.6 1025.1l-0 -6M370.8 1025.1l-0 -3M402.7 1025.1L388.9 1027.5M388.9 1027.5l-1 -5.9M392 1026.9l-0.5 -3M423.7 1025.1L410.6 1030.1M410.6 1030.1l-2.2 -5.6M413.6 1028.9l-1.1 -2.8M444.7 1025.1L431.4 1029.4M431.4 1029.4l-1.9 -5.7M434.5 1028.4l-0.9 -2.9M465.8 1025.1L458.8 1037.2M458.8 1037.2l-2.6 -1.5M486.8 1025.1L500.1 1020.5M500.1 1020.5l1 2.8M507.9 1025.1L521.3 1021.2M521.3 1021.2l0.8 2.9M528.9 1025.1L542.4 1021.2M542.4 1021.2l0.8 2.9M549.9 1025.1L549 1011.1M549 1011.1l3 -0.2M571 1025.1L583.1 1032.1M583.1 1032.1l-1.5 2.6M592 1025.1L605.9 1027M605.9 1027l-0.4 3M613.1 1025.1L625.1 1032.3M625.1 1032.3l-1.5 2.6M634.1 1025.1L641.1 1037.2M641.1 1037.2l-2.6 1.5M655.1 1025.1L641.1 1025.1M641.1 1025.1l-0 -6M676.2 1025.1L667 1014.5M667 1014.5l2.3 -2M697.2 1025.1L691.5 1012.3M691.5 1012.3l2.7 -1.2M718.3 1025.1L714.6 1011.5M714.6 1011.5l2.9 -0.8M739.3 1025.1L734.5 1011.9M734.5 1011.9l2.8 -1M760.3 1025.1L753.6 1012.8M753.6 1012.8l2.6 -1.5M781.4 1025.1L768.8 1018.9M768.8 1018.9l1.3 -2.7M802.4 1025.1L804.1 1011.2M804.1 1011.2l3 0.4M823.5 1025.1L819.6 1011.6M819.6 1011.6l2.9 -0.8M844.5 1025.1L846 1011.1M846 1011.1l3 0.3M213.3 1057.1L201.2 1064.1M201.2 1064.1l-3 -5.2M203.9 1062.5l-3 -5.2M206.7 1060.9l-1.5 -2.6M234.3 1057.1L222.1 1063.9M222.1 1063.9l-2.9 -5.2M224.9 1062.4l-2.9 -5.2M227.7 1060.8l-1.5 -2.6M255.4 1057.1L242.8 1063.3M242.8 1063.3l-2.6 -5.4M245.7 1061.9l-2.6 -5.4M248.5 1060.5l-1.3 -2.7M276.4 1057.1L263.6 1062.8M263.6 1062.8l-2.4 -5.5M266.6 1061.5l-2.4 -5.5M297.5 1057.1L284.1 1061.5M284.1 1061.5l-1.9 -5.7M287.2 1060.5l-1.9 -5.7M318.5 1057.1L304.9 1060.3M304.9 1060.3l-1.3 -5.8M308 1059.6l-0.7 -2.9M339.5 1057.1L325.5 1057.1M325.5 1057.1l-0 -6M328.7 1057.1l-0 -3M360.6 1057.1L346.7 1055.2M346.7 1055.2l0.8 -5.9M349.9 1055.6l0.4 -3M381.6 1057.1L367.8 1054.7M367.8 1054.7l1 -5.9M371 1055.3l0.5 -3M402.7 1057.1L389.9 1062.8M389.9 1062.8l-2.4 -5.5M423.7 1057.1L410.3 1053M410.3 1053l1.8 -5.7M444.7 1057.1L442.3 1070.9M442.3 1070.9l-3 -0.5M465.8 1057.1L470.8 1070.2M470.8 1070.2l-2.8 1.1M486.8 1057.1L479.2 1068.9M479.2 1068.9l-2.5 -1.6M507.9 1057.1L500 1068.7M500 1068.7l-2.5 -1.7M528.9 1057.1L528.9 1071.1M528.9 1071.1l-3 0M549.9 1057.1L549.9 1071.1M549.9 1071.1l-3 0M571 1057.1L584.4 1061.2M584.4 1061.2l-0.9 2.9M592 1057.1L605.7 1060.3M605.7 1060.3l-0.7 2.9M613.1 1057.1L627.1 1057.1M627.1 1057.1l-0 3M634.1 1057.1L647.5 1061.2M647.5 1061.2l-0.9 2.9M655.1 1057.1L668.5 1061.2M668.5 1061.2l-0.9 2.9M676.2 1057.1L663 1052.4M663 1052.4l1 -2.8M697.2 1057.1L685.6 1049.3M685.6 1049.3l1.7 -2.5M718.3 1057.1L710.2 1045.7M710.2 1045.7l2.5 -1.7M739.3 1057.1L742 1043.4M742 1043.4l2.9 0.6M760.3 1057.1L755.6 1044M755.6 1044l2.8 -1M781.4 1057.1L773.6 1045.5M773.6 1045.5l2.5 -1.7M802.4 1057.1L794.4 1045.7M794.4 1045.7l2.5 -1.7M823.5 1057.1L830.9 1045.3M830.9 1045.3l2.5 1.6M844.5 1057.1L846 1043.2M846 1043.2l3 0.3M213.3 1089.2L201.2 1096.2M201.2 1096.2l-3 -5.2M203.9 1094.6l-3 -5.2M206.7 1093l-1.5 -2.6M234.3 1089.2L222.1 1096M222.1 1096l-2.9 -5.2M224.9 1094.5l-2.9 -5.2M227.7 1092.9l-1.5 -2.6M255.4 1089.2L243.1 1096M243.1 1096l-2.9 -5.2M245.9 1094.5l-2.9 -5.2M248.7 1092.9l-1.5 -2.6M276.4 1089.2L263.5 1094.7M263.5 1094.7l-2.3 -5.5M266.5 1093.4l-2.3 -5.5M269.4 1092.2l-1.2 -2.8M297.5 1089.2L284.1 1093.5M284.1 1093.5l-1.9 -5.7M287.2 1092.6l-1.9 -5.7M318.5 1089.2L304.6 1088M304.6 1088l0.5 -6M307.7 1088.3l0.3 -3M339.5 1089.2L325.8 1086.5M325.8 1086.5l1.1 -5.9M328.9 1087.2l0.6 -2.9M360.6 1089.2L347.4 1084.4M347.4 1084.4l2.1 -5.6M381.6 1089.2L392.8 1080.8M392.8 1080.8l1.8 2.4M402.7 1089.2L403.1 1103.2M403.1 1103.2l-3 0.1M423.7 1089.2L435 1097.4M435 1097.4l-1.8 2.4M444.7 1089.2L454.8 1098.9M454.8 1098.9l-2.1 2.2M465.8 1089.2L458.8 1101.3M458.8 1101.3l-2.6 -1.5M486.8 1089.2L487.3 1103.2M487.3 1103.2l-3 0.1M507.9 1089.2L508.1 1103.2M508.1 1103.2l-3 0.1M528.9 1089.2L518.8 1098.9M518.8 1098.9l-2.1 -2.2M549.9 1089.2L545.6 1102.5M545.6 1102.5l-2.9 -0.9M571 1089.2L576.9 1101.9M576.9 1101.9l-2.7 1.3M592 1089.2L589.8 1075.4M589.8 1075.4l3 -0.5M613.1 1089.2L626.9 1087.3M626.9 1087.3l0.4 3M634.1 1089.2L645.4 1097.4M645.4 1097.4l-1.8 2.4M655.1 1089.2L668.9 1091.9M668.9 1091.9l-0.6 2.9M676.2 1089.2L662.5 1086.3M662.5 1086.3l0.6 -2.9M697.2 1089.2L684.3 1083.7M684.3 1083.7l1.2 -2.8M718.3 1089.2L713.7 1076M713.7 1076l2.8 -1M739.3 1089.2L729.9 1078.8M729.9 1078.8l2.2 -2M760.3 1089.2L758.4 1075.4M758.4 1075.4l3 -0.4M781.4 1089.2L774.8 1076.9M774.8 1076.9l2.6 -1.4M802.4 1089.2L799.3 1075.6M799.3 1075.6l2.9 -0.7M823.5 1089.2L826.4 1075.5M826.4 1075.5l2.9 0.6M844.5 1089.2L846 1075.3M846 1075.3l3 0.3" fill="none" stroke="#f00" stroke-width="2.2" stroke-linecap="round" stroke-linejoin="round"/><g clip-path="url(#mc)"><path d="M269.9 1122.1 272.6 1121.7 275 1120.6 277.3 1119 279.7 1117.7 282.3 1117.1 284.8 1116.1 287.3 1115 290 1114.6 292.2 1112.8 294.8 1112.1 297.3 1111.5 299.8 1111 302.5 1111 304.8 1109.6 307.2 1108.6 309.8 1108.4 312.4 1108.2 314.8 1107.4 317.2 1106.1 319.9 1106.6 322.5 1106.1 324.8 1104.7 327.5 1103.9 330.1 1102.8 332.1 1100.6 334.7 1099.7 337.3 1099.4 339.9 1099.1 342.3 1098.1 344.7 1097.2 347.2 1097.5 349.8 1097.3 352.2 1098.3 354.7 1099 357.1 1100 359.7 1099.7 362.6 1099.2 364.7 1097.1 367.5 1096.5 369.5 1094.3 372.4 1093.9 374.7 1092.2 377.2 1091 379.6 1089.7M380 1089.9 380.8 1087.2 383.3 1085.6 384.5 1083.2 385.5 1080.7 387.1 1078.5 389.2 1077 391 1075.1 393.1 1073.5 394.7 1071.5 397.3 1070 398.7 1067.2 400.8 1065.3 403.9 1064.6 405.8 1062.3 408.3 1060.7 411.2 1059.7 413.1 1057.1 416 1056.3 418.7 1054.9 421.7 1052.9 424.2 1050.3 426.3 1047.8 429.6 1046.6 431.5 1043.9 434.2 1042.6 435.3 1039.5 437.4 1037.7 440.2 1036.6 442.8 1035.3 444.4 1032.8 446.1 1030.5 447.7 1028.1 449.8 1026.1 451.1 1023.4 453.6 1021.8 455 1018.7 457.2 1016.2 459.1 1013.5 461.6 1012.3 463.8 1010.6 466.5 1009.8 469.5 1008.9 472.6 1008.5 475.7 1008.5 479.4 1008.8 483.1 1009.3 485.6 1009.4 488.2 1009.4 490.4 1010.7 493.5 1009.9 496 1008 499.6 1010.7 502.7 1010.5 505.8 1010.4 508.8 1009.8 512.5 1010.7 514.9 1013.7 516.2 1017.2 518.3 1018.9 520.9 1019.6 523.6 1019.9 526.2 1020.7 528.3 1022.4 530.3 1024.4 532.8 1025.5 535.7 1026.7 538.7 1028.1 542 1028.2 545.7 1028.5 549.3 1029.1 551.4 1031.5 554.1 1033.1 556.7 1034.7 560 1035M480.3 1009.8 480.5 1012.8 481.4 1015.6 483.1 1018.1 483.6 1020.9 483.4 1023.7 481.8 1026.3 482.2 1029.1 482.4 1032 483.2 1034.7 484.6 1037.3 484.9 1040.2 485.1 1042.8 485.5 1045.4 485.9 1047.9 487 1050.4 486.8 1053.1 486.6 1055.8 486.5 1058.6 485.7 1061.3 485.8 1064.1 483.8 1066.2 482.7 1068.7 482.2 1071.5 480.9 1074.5 479.8 1077.7 478.5 1080.7 478.6 1083.8 478.7 1086.9 477.6 1089.9 478.6 1092.6 478.1 1095.4 478.6 1098.1 478.5 1100.9 478.7 1103.7 477.8 1106.5 478.4 1109.2 478.4 1112 478.9 1114.7 479.3 1117.5 478.8 1120.3 478.5 1123M540 1028.1 543.7 1028.1 547.4 1029 550.1 1031.4 552.9 1033.6 556 1033.7 559 1034.4 562.1 1034.5 563.7 1037.4 566.4 1039.6 567.6 1042.8 570.1 1044 570.9 1046.9 573.1 1048.3 575.3 1050.5 577.2 1053 578.7 1055.7 578.4 1059 579.9 1061.8 580.5 1064.9 582.6 1067.2 585.4 1068.6 587.9 1070.4 590.2 1072.2 593.1 1073 595.2 1075 598.3 1075.6 601.3 1076.3 604.4 1076 607.5 1076.6 610.5 1077.6 613.6 1077.8 616.3 1076.2 618.1 1073.5 621 1072.3 623.2 1070.8 624.8 1068.7 626.5 1066.8 628.6 1065.1 630.7 1063.3 633.7 1063.2 635.7 1061.2 638 1059.8 640.5 1058.8 643 1057.7 644.9 1055.7 647.9 1054.2 650.9 1052.7 653.2 1050.2 657.8 1052 658.5 1054.6 658.4 1057.3 659.6 1059.7 659.2 1062.5 660.6 1064.9 664.1 1063.7 667 1061.2 668.8 1058.8 671.2 1057 673.6 1055.3 676.2 1053.9 678.9 1053.2 680.7 1051 683.2 1049.9 685.4 1048.3 687.7 1046.8 690.3 1045.9 692.8 1044.7 695.2 1043.9 697.6 1043.2 700.1 1042.8 702.1 1040.5 703.9 1038 705.7 1035.5 708.5 1034.2 710.8 1032 713 1029.9 715.4 1028.6 716.7 1026.3M716.6 1029.5 718.6 1027.2 720.9 1025.1 723.6 1023.6 726.1 1021.9 728.7 1020.6 731.6 1019.7 734.5 1019.6 737.4 1019 740.3 1017.7 742.5 1015.7 744.9 1013.7 746.9 1011.4 748.4 1008.8 750.8 1006.7 752.3 1004.1 754.5 1002 756 999.2 757.8 996.8 759.8 994.5 762.1 992.5 764.6 990.4 766.4 987.8 767.8 984.9 769.4 982.8 770.6 980.6 770.7 977.8 772 975.6 773.5 973.5 775.6 971.8 777.6 970 779.6 968.3 781.1 965.9 783.5 963.8 784.3 960.4 786.8 958.3 788.4 956 789.9 953.7 791.1 951.2 792.5 948.8 793.2 946 795 943.7 796.3 941.2 797.6 938.3 800.7 936.6 802 933.6 804.3 932.2 805.8 929.9 807.6 928 810 925.8 813.1 924.7 815.2 922.3 817.8 920.5 820.7 919 822.8 916.6 825.5 915.7 827.6 913.7 829.9 912.2 832.3 910.9 829.4 912.6 826.6 914.7 828 917.1 829.7 919.5 830.4 922.3 832.6 924.9 834.2 928 836.6 929.1 839.5 928.4 841.8 929.8 844.9 930 847.5 931.7 850.3 930.8 849.8 933.6 850.1 936.5 849.4 939.3 848.7 941.9 848.2 944.4 847.5 946.9 848.2 949.7 848.4 952.6M716.6 1029.5 716.8 1032.6 717.1 1035.7 717.5 1038.8 718.5 1041.8 718.3 1045.1 719.3 1048.2 720.4 1051.3 719.6 1054 721.2 1056.7 720.4 1059.4 719.6 1062.1 720.1 1064.8 719.6 1067.6 720.4 1070.3 721.1 1073 720.4 1075.7 720.8 1078.4 720.3 1081.1 720.2 1083.8 721.2 1086.5 720.4 1089.2 720.9 1091.9 720.8 1094.5 719.6 1097.1 719.9 1099.8 721 1102.4 719.8 1105 721 1107.6 720.1 1110.3 721 1112.9 721.3 1115.5 719.7 1118.1 720.9 1120.8 720.4 1123.4M722.3 1022.8 722.2 1025.8 722.6 1028.6 723.7 1031.4 724.2 1034.2 726.8 1033.8 729.5 1033.3 732.1 1034.5 734.8 1034.2 737.4 1034.2 738.9 1037.3 741.2 1039.9 743.3 1042.3 744.6 1045.3 746.9 1047.5 746.7 1050.1 745.1 1052.4 745 1055.1 744 1057.5 743.9 1060.2 743.1 1062.7 744 1065.1 744.7 1067.5 746.5 1069.6 746.9 1072.2 748.1 1074.7 749 1077.5 750.7 1079.8 751.5 1082.2 750.8 1084.9 751.3 1087.4 751.4 1090 752.6 1092.4 752.6 1094.9 750.1 1095.7 747.6 1094.4 745 1094.9 743.3 1097.2 742.6 1100 741.2 1102.5 743.4 1104.4 744.7 1106.8 745.6 1109.5 747.6 1111.4 748.8 1113.9 749.6 1116.5 751.5 1118.3 753.5 1120 754.5 1122.4M739.3 1019 742 1020 744.7 1021 746.9 1022.8 747.5 1025.4 749.3 1027.5 749.3 1030.2 750.4 1032.5 751.7 1034.8 751.8 1037.5 752.6 1039.9 752.8 1042.6 751.5 1045 750.7 1047.5 749.4 1050.5 747.5 1053 745 1055.1M764 990.6 765.7 992.9 765.8 996 767.8 998.2 768.2 1000.8 766.8 1003.2 767.6 1005.8 767 1008.3 765.3 1010.7 765.9 1013.3 768.9 1013.8 771.6 1015.2 774.6 1013.6 777.3 1011.4 779.1 1008.9 781 1006.3 783 1003.9 785.8 1004.8 788.7 1005.7 791.3 1004.3 794.4 1003.9 793.8 1006.6 795.1 1009.3 794.8 1012 795.2 1014.7 794.8 1017.4 794.5 1020.1 794.4 1022.8 794.3 1026.1 795.8 1029.1 796.3 1032.3 799 1032.3 801.4 1033.2 803.9 1034.2 804 1037.3 805.7 1039.9 804.5 1042.9 801.8 1044.8 800.1 1047.5 797.3 1049.6 794.4 1051.3 793.9 1053.9 794.3 1056.6 793.5 1059.2 793.6 1061.9 793.4 1064.6 794.4 1067.1 795.1 1069.6 796.8 1071.8 798.2 1074.1 796.7 1076.4 794.9 1078.4 792.5 1079.8 792 1082.4 793.1 1084.8 793.4 1087.3 796.9 1087.8 800.1 1089.2 801.4 1091.7 803.8 1093.1 805.7 1094.9 808.2 1096 810.6 1096.9 813.3 1096.8 816.5 1096.1 819.6 1095.9 822.8 1095.9 825.8 1097.5 829.3 1097.2 832.3 1098.7 835.1 1097.2 836.9 1094.4 839.9 1093 840.6 1090.4 841 1087.8 841.8 1085.2 842 1082.5 841.8 1079.8 844.3 1079.4 846.8 1078.6 849.4 1078.8" fill="none" stroke="#000" stroke-width="3" stroke-linejoin="round" stroke-linecap="round"/><path d="M845 840.5L851 837.5L851 845Z" fill="#0e0"/><rect x="843.3" y="840.6" width="3" height="3" fill="#000"/><path d="M807.6 930 815 924.5 822.8 928.5 818 934 811 937.5 806.5 935Z" fill="#000"/><path d="M819 932.7 823 933.5 822.5 939.3 819.5 938.5Z" fill="#000"/><path d="M824.7 944 828.5 943.5 832.1 946 829 948.8 825.5 948Z" fill="#000"/><path d="M821 950.7 826 950 828.5 953.5 827 958 824.5 963 822 961 821.5 955Z" fill="#000"/><path d="M832.3 950.7 836.1 951.5 835.5 955.5 832.5 954.5Z" fill="#000"/><path d="M845.6 932.7 850.3 932 850.3 952.6 847 952.6Z" fill="#000"/><ellipse cx="677.7" cy="170.8" rx="2.4" ry="3.4"/><ellipse cx="508.6" cy="448.7" rx="2.3" ry="3.3"/><ellipse cx="814" cy="813.3" rx="1.8" ry="1.8"/><circle cx="644.9" cy="1087" r="1.5"/><circle cx="647.7" cy="1079.6" r="1.5"/><circle cx="650.4" cy="1076" r="1.5"/><circle cx="653.2" cy="1070.4" r="1.5"/><circle cx="656" cy="1072.3" r="1.5"/><circle cx="657.8" cy="1069.5" r="1.5"/><circle cx="663.3" cy="1072.3" r="1.5"/><circle cx="820" cy="946" r="1.5"/><circle cx="823" cy="950" r="1.5"/><circle cx="826" cy="944" r="1.5"/><circle cx="829" cy="948" r="1.5"/><circle cx="833" cy="953" r="1.5"/><circle cx="836" cy="950" r="1.5"/><circle cx="823" cy="957" r="1.5"/><circle cx="829" cy="958" r="1.5"/><circle cx="783" cy="965" r="1.5"/><circle cx="788" cy="955" r="1.5"/><circle cx="792" cy="950" r="1.5"/><circle cx="812" cy="931" r="1.5"/><circle cx="816" cy="928" r="1.5"/><circle cx="786" cy="962" r="1.5"/><path d="M345.5 1102L376.5 1102M350 1091L372 1113M361 1086.5L361 1117.5M372 1091L350 1113" stroke="#000" stroke-width="1.5"/><circle cx="361" cy="1102" r="4"/></g><rect x="207" y="141" width="644" height="983.3" fill="none" stroke="#c8c8c8" stroke-width="1.6"/><rect x="202.5" y="311" width="4.6" height="321.4" fill="#000"/><rect x="851" y="311" width="4.6" height="321.4" fill="#000"/><rect x="202.5" y="953.8" width="4.6" height="170.7" fill="#000"/><rect x="851" y="953.8" width="4.6" height="170.7" fill="#000"/><rect x="424" y="136.5" width="209.5" height="4.3" fill="#000"/><rect x="424" y="1124.3" width="209.5" height="4.3" fill="#000"/><path d="M207 1124.4H851" stroke="#808080" stroke-width="1"/><rect x="202.6" y="136.6" width="652.7" height="991.9" fill="none" stroke="#666" stroke-width="1"/><g style="opacity:0.999"><text transform="translate(875.5,142) rotate(90)" font-family="Liberation Sans, sans-serif" font-size="18.3" fill="#000" textLength="705" lengthAdjust="spacingAndGlyphs">16090306, 102 hour forecast for precip, 1000mb Z, and winds (knots) -- NCEP GFS</text><text transform="translate(115.5,233.5) rotate(90)" font-family="Liberation Sans, sans-serif" font-size="15" text-anchor="middle" fill="#000">20</text><text transform="translate(115.5,335) rotate(90)" font-family="Liberation Sans, sans-serif" font-size="15" text-anchor="middle" fill="#000">40</text><text transform="translate(115.5,437.5) rotate(90)" font-family="Liberation Sans, sans-serif" font-size="15" text-anchor="middle" fill="#000">60</text><text transform="translate(115.5,538.5) rotate(90)" font-family="Liberation Sans, sans-serif" font-size="15" text-anchor="middle" fill="#000">80</text><text transform="translate(99,305.5) rotate(90)" font-family="Liberation Sans, sans-serif" font-size="14.5" fill="#000" textLength="155" lengthAdjust="spacingAndGlyphs">Precipitation, mm/day</text><text transform="translate(424,133)" font-family="Liberation Sans, sans-serif" fill="#555" font-size="16.5" textLength="32" lengthAdjust="spacingAndGlyphs" x="-16">−20</text><text transform="translate(424,1132) rotate(180)" font-family="Liberation Sans, sans-serif" fill="#555" font-size="16.5" textLength="32" lengthAdjust="spacingAndGlyphs" x="-16">−20</text><text transform="translate(633.5,133)" font-family="Liberation Sans, sans-serif" fill="#555" font-size="16.5" textLength="32" lengthAdjust="spacingAndGlyphs" x="-16">−10</text><text transform="translate(633.5,1132) rotate(180)" font-family="Liberation Sans, sans-serif" fill="#555" font-size="16.5" textLength="32" lengthAdjust="spacingAndGlyphs" x="-16">−10</text><text transform="translate(186,311) rotate(90)" font-family="Liberation Sans, sans-serif" fill="#555" font-size="16.5" textLength="32" lengthAdjust="spacingAndGlyphs" x="-16">−10</text><text transform="translate(859,311) rotate(90)" font-family="Liberation Sans, sans-serif" fill="#555" font-size="16.5" textLength="32" lengthAdjust="spacingAndGlyphs" x="-16">−10</text><text transform="translate(186,632.4) rotate(90)" font-family="Liberation Sans, sans-serif" fill="#555" font-size="16.5" text-anchor="middle">0</text><text transform="translate(859,632.4) rotate(90)" font-family="Liberation Sans, sans-serif" fill="#555" font-size="16.5" text-anchor="middle">0</text><text transform="translate(186,953.8) rotate(90)" font-family="Liberation Sans, sans-serif" fill="#555" font-size="16.5" textLength="17" lengthAdjust="spacingAndGlyphs" x="-8.5">10</text><text transform="translate(859,953.8) rotate(90)" font-family="Liberation Sans, sans-serif" fill="#555" font-size="16.5" textLength="17" lengthAdjust="spacingAndGlyphs" x="-8.5">10</text></g></svg></body></html>
